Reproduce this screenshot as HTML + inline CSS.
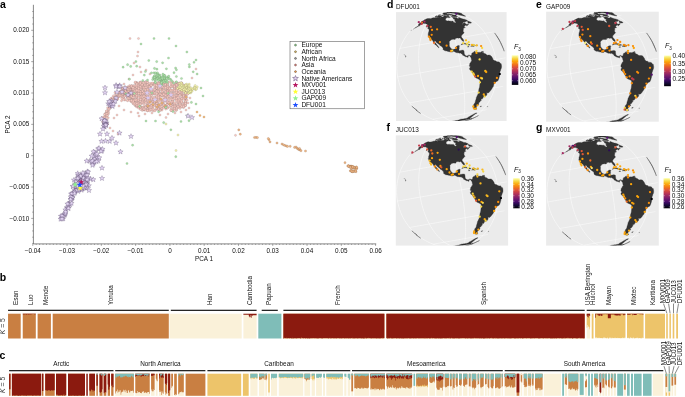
<!DOCTYPE html><html><head><meta charset="utf-8"><title>Figure</title><style>html,body{margin:0;padding:0;background:#fff}svg{display:block;will-change:transform}text{font-family:"Liberation Sans",sans-serif}</style></head><body><svg width="685" height="397" viewBox="0 0 685 397">
<rect width="685" height="397" fill="#fff"/>
<g id="pa"><path d="M33.4,4.8V243.9H376.2" fill="none" stroke="#555" stroke-width="0.7"/>
<path d="M33.4,243.48h-1.2M33.4,237.21h-1.2M33.4,230.94h-1.2M33.4,224.67h-1.2M33.4,218.40h-2.2M33.4,212.13h-1.2M33.4,205.86h-1.2M33.4,199.59h-1.2M33.4,193.32h-1.2M33.4,187.05h-2.2M33.4,180.78h-1.2M33.4,174.51h-1.2M33.4,168.24h-1.2M33.4,161.97h-1.2M33.4,155.70h-2.2M33.4,149.43h-1.2M33.4,143.16h-1.2M33.4,136.89h-1.2M33.4,130.62h-1.2M33.4,124.35h-2.2M33.4,118.08h-1.2M33.4,111.81h-1.2M33.4,105.54h-1.2M33.4,99.27h-1.2M33.4,93.00h-2.2M33.4,86.73h-1.2M33.4,80.46h-1.2M33.4,74.19h-1.2M33.4,67.92h-1.2M33.4,61.65h-2.2M33.4,55.38h-1.2M33.4,49.11h-1.2M33.4,42.84h-1.2M33.4,36.57h-1.2M33.4,30.30h-2.2M33.4,24.03h-1.2M33.4,17.76h-1.2M33.4,11.49h-1.2M32.78,243.9v2.0M36.21,243.9v1.0M39.64,243.9v1.0M43.06,243.9v1.0M46.49,243.9v1.0M49.92,243.9v1.0M53.35,243.9v1.0M56.78,243.9v1.0M60.20,243.9v1.0M63.63,243.9v1.0M67.06,243.9v2.0M70.49,243.9v1.0M73.92,243.9v1.0M77.34,243.9v1.0M80.77,243.9v1.0M84.20,243.9v1.0M87.63,243.9v1.0M91.06,243.9v1.0M94.48,243.9v1.0M97.91,243.9v1.0M101.34,243.9v2.0M104.77,243.9v1.0M108.20,243.9v1.0M111.62,243.9v1.0M115.05,243.9v1.0M118.48,243.9v1.0M121.91,243.9v1.0M125.34,243.9v1.0M128.76,243.9v1.0M132.19,243.9v1.0M135.62,243.9v2.0M139.05,243.9v1.0M142.48,243.9v1.0M145.90,243.9v1.0M149.33,243.9v1.0M152.76,243.9v1.0M156.19,243.9v1.0M159.62,243.9v1.0M163.04,243.9v1.0M166.47,243.9v1.0M169.90,243.9v2.0M173.33,243.9v1.0M176.76,243.9v1.0M180.18,243.9v1.0M183.61,243.9v1.0M187.04,243.9v1.0M190.47,243.9v1.0M193.90,243.9v1.0M197.32,243.9v1.0M200.75,243.9v1.0M204.18,243.9v2.0M207.61,243.9v1.0M211.04,243.9v1.0M214.46,243.9v1.0M217.89,243.9v1.0M221.32,243.9v1.0M224.75,243.9v1.0M228.18,243.9v1.0M231.60,243.9v1.0M235.03,243.9v1.0M238.46,243.9v2.0M241.89,243.9v1.0M245.32,243.9v1.0M248.74,243.9v1.0M252.17,243.9v1.0M255.60,243.9v1.0M259.03,243.9v1.0M262.46,243.9v1.0M265.88,243.9v1.0M269.31,243.9v1.0M272.74,243.9v2.0M276.17,243.9v1.0M279.60,243.9v1.0M283.02,243.9v1.0M286.45,243.9v1.0M289.88,243.9v1.0M293.31,243.9v1.0M296.74,243.9v1.0M300.16,243.9v1.0M303.59,243.9v1.0M307.02,243.9v2.0M310.45,243.9v1.0M313.88,243.9v1.0M317.30,243.9v1.0M320.73,243.9v1.0M324.16,243.9v1.0M327.59,243.9v1.0M331.02,243.9v1.0M334.44,243.9v1.0M337.87,243.9v1.0M341.30,243.9v2.0M344.73,243.9v1.0M348.16,243.9v1.0M351.58,243.9v1.0M355.01,243.9v1.0M358.44,243.9v1.0M361.87,243.9v1.0M365.30,243.9v1.0M368.72,243.9v1.0M372.15,243.9v1.0M375.58,243.9v2.0" stroke="#555" stroke-width="0.5" fill="none"/>
<text x="29.2" y="32.4" text-anchor="end" font-size="6.35" fill="#111" font-family="Liberation Sans, sans-serif">0.020</text>
<text x="29.2" y="63.7" text-anchor="end" font-size="6.35" fill="#111" font-family="Liberation Sans, sans-serif">0.015</text>
<text x="29.2" y="95.1" text-anchor="end" font-size="6.35" fill="#111" font-family="Liberation Sans, sans-serif">0.010</text>
<text x="29.2" y="126.4" text-anchor="end" font-size="6.35" fill="#111" font-family="Liberation Sans, sans-serif">0.005</text>
<text x="29.2" y="157.8" text-anchor="end" font-size="6.35" fill="#111" font-family="Liberation Sans, sans-serif">0</text>
<text x="29.2" y="189.1" text-anchor="end" font-size="6.35" fill="#111" font-family="Liberation Sans, sans-serif">−0.005</text>
<text x="29.2" y="220.5" text-anchor="end" font-size="6.35" fill="#111" font-family="Liberation Sans, sans-serif">−0.010</text>
<text x="32.8" y="252.9" text-anchor="middle" font-size="6.35" fill="#111" font-family="Liberation Sans, sans-serif">−0.04</text>
<text x="67.1" y="252.9" text-anchor="middle" font-size="6.35" fill="#111" font-family="Liberation Sans, sans-serif">−0.03</text>
<text x="101.3" y="252.9" text-anchor="middle" font-size="6.35" fill="#111" font-family="Liberation Sans, sans-serif">−0.02</text>
<text x="135.6" y="252.9" text-anchor="middle" font-size="6.35" fill="#111" font-family="Liberation Sans, sans-serif">−0.01</text>
<text x="169.9" y="252.9" text-anchor="middle" font-size="6.35" fill="#111" font-family="Liberation Sans, sans-serif">0</text>
<text x="204.2" y="252.9" text-anchor="middle" font-size="6.35" fill="#111" font-family="Liberation Sans, sans-serif">0.01</text>
<text x="238.5" y="252.9" text-anchor="middle" font-size="6.35" fill="#111" font-family="Liberation Sans, sans-serif">0.02</text>
<text x="272.7" y="252.9" text-anchor="middle" font-size="6.35" fill="#111" font-family="Liberation Sans, sans-serif">0.03</text>
<text x="307.0" y="252.9" text-anchor="middle" font-size="6.35" fill="#111" font-family="Liberation Sans, sans-serif">0.04</text>
<text x="341.3" y="252.9" text-anchor="middle" font-size="6.35" fill="#111" font-family="Liberation Sans, sans-serif">0.05</text>
<text x="375.6" y="252.9" text-anchor="middle" font-size="6.35" fill="#111" font-family="Liberation Sans, sans-serif">0.06</text>
<text x="204" y="260.7" text-anchor="middle" font-size="6.35" fill="#111" font-family="Liberation Sans, sans-serif">PCA 1</text>
<text transform="translate(10.4,124.5) rotate(-90)" text-anchor="middle" font-size="6.35" fill="#111" font-family="Liberation Sans, sans-serif">PCA 2</text>
<text x="0" y="7.7" font-size="10.5" font-weight="bold" fill="#000" font-family="Liberation Sans, sans-serif">a</text>
<g fill="#f7c8c0" stroke="#3a3030" stroke-width="0.26" stroke-opacity="0.42"><circle cx="147.4" cy="100.1" r="1.12"/><circle cx="131.4" cy="91.1" r="1.12"/><circle cx="131.4" cy="86.0" r="1.12"/><circle cx="152.8" cy="84.1" r="1.12"/><circle cx="153.2" cy="84.9" r="1.12"/><circle cx="140.5" cy="108.9" r="1.12"/><circle cx="161.9" cy="110.2" r="1.12"/><circle cx="131.6" cy="89.9" r="1.12"/><circle cx="136.6" cy="88.9" r="1.12"/><circle cx="176.2" cy="98.0" r="1.12"/><circle cx="165.5" cy="97.0" r="1.12"/><circle cx="131.2" cy="88.4" r="1.12"/><circle cx="167.4" cy="90.1" r="1.12"/><circle cx="162.0" cy="89.7" r="1.12"/><circle cx="174.7" cy="88.1" r="1.12"/><circle cx="162.0" cy="107.0" r="1.12"/><circle cx="170.9" cy="110.4" r="1.12"/><circle cx="135.0" cy="100.3" r="1.12"/><circle cx="136.8" cy="82.7" r="1.12"/><circle cx="167.5" cy="97.7" r="1.12"/><circle cx="179.9" cy="101.4" r="1.12"/><circle cx="163.8" cy="94.2" r="1.12"/><circle cx="178.4" cy="94.8" r="1.12"/><circle cx="167.2" cy="101.6" r="1.12"/><circle cx="165.8" cy="105.4" r="1.12"/><circle cx="143.9" cy="100.6" r="1.12"/><circle cx="129.6" cy="87.6" r="1.12"/><circle cx="134.8" cy="100.4" r="1.12"/><circle cx="134.9" cy="92.6" r="1.12"/><circle cx="179.8" cy="94.0" r="1.12"/><circle cx="160.4" cy="105.3" r="1.12"/><circle cx="178.1" cy="93.0" r="1.12"/><circle cx="149.6" cy="109.7" r="1.12"/><circle cx="136.6" cy="87.0" r="1.12"/><circle cx="142.2" cy="98.2" r="1.12"/><circle cx="143.8" cy="93.1" r="1.12"/><circle cx="149.4" cy="109.5" r="1.12"/><circle cx="169.2" cy="99.1" r="1.12"/><circle cx="167.2" cy="107.8" r="1.12"/><circle cx="174.8" cy="104.6" r="1.12"/><circle cx="151.1" cy="84.4" r="1.12"/><circle cx="165.4" cy="83.5" r="1.12"/><circle cx="140.2" cy="90.6" r="1.12"/><circle cx="131.2" cy="87.6" r="1.12"/><circle cx="133.1" cy="85.8" r="1.12"/><circle cx="180.1" cy="85.6" r="1.12"/><circle cx="142.1" cy="91.5" r="1.12"/><circle cx="135.2" cy="105.6" r="1.12"/><circle cx="154.8" cy="83.9" r="1.12"/><circle cx="133.1" cy="89.8" r="1.12"/><circle cx="176.2" cy="82.5" r="1.12"/><circle cx="183.6" cy="87.0" r="1.12"/><circle cx="160.0" cy="96.4" r="1.12"/><circle cx="185.6" cy="99.6" r="1.12"/><circle cx="143.9" cy="86.1" r="1.12"/><circle cx="172.8" cy="104.0" r="1.12"/><circle cx="147.5" cy="105.0" r="1.12"/><circle cx="185.6" cy="102.0" r="1.12"/><circle cx="176.5" cy="87.7" r="1.12"/><circle cx="158.3" cy="82.6" r="1.12"/><circle cx="129.5" cy="88.9" r="1.12"/><circle cx="169.4" cy="94.0" r="1.12"/><circle cx="183.8" cy="107.0" r="1.12"/><circle cx="149.3" cy="87.7" r="1.12"/><circle cx="140.3" cy="98.9" r="1.12"/><circle cx="182.0" cy="94.9" r="1.12"/><circle cx="167.5" cy="83.9" r="1.12"/><circle cx="167.6" cy="104.1" r="1.12"/><circle cx="172.8" cy="86.4" r="1.12"/><circle cx="174.5" cy="104.7" r="1.12"/><circle cx="185.3" cy="93.2" r="1.12"/><circle cx="183.7" cy="87.6" r="1.12"/><circle cx="134.8" cy="103.4" r="1.12"/><circle cx="176.2" cy="105.5" r="1.12"/><circle cx="185.5" cy="92.2" r="1.12"/><circle cx="160.0" cy="82.3" r="1.12"/><circle cx="185.5" cy="95.9" r="1.12"/><circle cx="183.6" cy="105.0" r="1.12"/><circle cx="176.3" cy="88.4" r="1.12"/><circle cx="145.7" cy="98.1" r="1.12"/><circle cx="144.0" cy="85.1" r="1.12"/><circle cx="181.7" cy="94.3" r="1.12"/><circle cx="162.2" cy="93.2" r="1.12"/><circle cx="181.8" cy="96.4" r="1.12"/><circle cx="158.2" cy="93.8" r="1.12"/><circle cx="138.4" cy="102.8" r="1.12"/><circle cx="138.6" cy="100.8" r="1.12"/><circle cx="160.1" cy="96.1" r="1.12"/><circle cx="160.3" cy="84.5" r="1.12"/><circle cx="160.1" cy="89.1" r="1.12"/><circle cx="172.8" cy="97.4" r="1.12"/><circle cx="173.0" cy="93.8" r="1.12"/><circle cx="163.8" cy="95.9" r="1.12"/><circle cx="169.2" cy="96.5" r="1.12"/><circle cx="156.8" cy="101.6" r="1.12"/><circle cx="180.2" cy="88.6" r="1.12"/><circle cx="160.4" cy="105.9" r="1.12"/><circle cx="136.6" cy="92.2" r="1.12"/><circle cx="131.3" cy="86.4" r="1.12"/><circle cx="167.5" cy="107.7" r="1.12"/><circle cx="136.9" cy="98.0" r="1.12"/><circle cx="137.0" cy="106.5" r="1.12"/><circle cx="140.6" cy="92.4" r="1.12"/><circle cx="156.8" cy="105.7" r="1.12"/><circle cx="136.8" cy="94.2" r="1.12"/><circle cx="147.4" cy="90.2" r="1.12"/><circle cx="170.8" cy="97.1" r="1.12"/><circle cx="154.6" cy="90.6" r="1.12"/><circle cx="165.6" cy="83.4" r="1.12"/><circle cx="185.5" cy="105.8" r="1.12"/><circle cx="134.9" cy="86.1" r="1.12"/><circle cx="174.5" cy="85.1" r="1.12"/><circle cx="153.2" cy="105.3" r="1.12"/><circle cx="143.8" cy="108.4" r="1.12"/><circle cx="162.1" cy="84.0" r="1.12"/><circle cx="131.5" cy="92.1" r="1.12"/><circle cx="131.6" cy="95.8" r="1.12"/><circle cx="174.4" cy="106.4" r="1.12"/><circle cx="131.6" cy="92.6" r="1.12"/><circle cx="147.6" cy="108.7" r="1.12"/><circle cx="143.8" cy="96.3" r="1.12"/><circle cx="142.0" cy="85.9" r="1.12"/><circle cx="131.3" cy="90.1" r="1.12"/><circle cx="145.9" cy="89.4" r="1.12"/><circle cx="158.2" cy="91.1" r="1.12"/><circle cx="129.5" cy="85.7" r="1.12"/><circle cx="171.0" cy="86.7" r="1.12"/><circle cx="156.8" cy="84.5" r="1.12"/><circle cx="176.4" cy="95.4" r="1.12"/><circle cx="176.3" cy="95.7" r="1.12"/><circle cx="169.4" cy="90.9" r="1.12"/><circle cx="176.5" cy="99.6" r="1.12"/><circle cx="151.1" cy="83.2" r="1.12"/><circle cx="134.8" cy="99.8" r="1.12"/><circle cx="142.0" cy="83.9" r="1.12"/><circle cx="178.4" cy="100.7" r="1.12"/><circle cx="143.9" cy="89.5" r="1.12"/><circle cx="154.6" cy="93.9" r="1.12"/><circle cx="144.2" cy="110.1" r="1.12"/><circle cx="160.1" cy="109.9" r="1.12"/><circle cx="145.7" cy="82.0" r="1.12"/><circle cx="151.2" cy="95.6" r="1.12"/><circle cx="140.4" cy="82.1" r="1.12"/><circle cx="143.8" cy="92.6" r="1.12"/><circle cx="129.4" cy="89.6" r="1.12"/><circle cx="142.2" cy="96.4" r="1.12"/><circle cx="172.9" cy="102.1" r="1.12"/><circle cx="179.9" cy="90.5" r="1.12"/><circle cx="185.2" cy="100.4" r="1.12"/><circle cx="165.4" cy="105.8" r="1.12"/><circle cx="180.1" cy="102.6" r="1.12"/><circle cx="176.2" cy="96.2" r="1.12"/><circle cx="158.6" cy="104.8" r="1.12"/><circle cx="176.4" cy="107.6" r="1.12"/><circle cx="167.5" cy="87.8" r="1.12"/><circle cx="129.4" cy="90.4" r="1.12"/><circle cx="135.2" cy="94.5" r="1.12"/><circle cx="165.7" cy="101.0" r="1.12"/><circle cx="156.4" cy="104.6" r="1.12"/><circle cx="172.8" cy="96.6" r="1.12"/><circle cx="167.2" cy="102.7" r="1.12"/><circle cx="142.0" cy="88.7" r="1.12"/><circle cx="170.9" cy="102.8" r="1.12"/><circle cx="185.4" cy="92.8" r="1.12"/><circle cx="156.7" cy="103.7" r="1.12"/><circle cx="163.9" cy="83.7" r="1.12"/><circle cx="136.7" cy="100.1" r="1.12"/><circle cx="145.8" cy="82.2" r="1.12"/><circle cx="131.3" cy="96.3" r="1.12"/><circle cx="169.3" cy="89.5" r="1.12"/><circle cx="158.4" cy="94.5" r="1.12"/><circle cx="135.2" cy="86.0" r="1.12"/><circle cx="185.6" cy="85.9" r="1.12"/><circle cx="155.0" cy="110.0" r="1.12"/><circle cx="154.7" cy="87.2" r="1.12"/><circle cx="183.5" cy="97.5" r="1.12"/><circle cx="136.8" cy="105.9" r="1.12"/><circle cx="135.2" cy="93.3" r="1.12"/><circle cx="180.1" cy="87.8" r="1.12"/><circle cx="181.8" cy="83.1" r="1.12"/><circle cx="127.8" cy="91.2" r="1.12"/><circle cx="145.6" cy="91.0" r="1.12"/><circle cx="146.0" cy="82.0" r="1.12"/><circle cx="173.0" cy="84.8" r="1.12"/><circle cx="181.9" cy="107.1" r="1.12"/><circle cx="145.7" cy="92.4" r="1.12"/><circle cx="187.2" cy="92.8" r="1.12"/><circle cx="152.9" cy="83.0" r="1.12"/><circle cx="133.4" cy="90.2" r="1.12"/><circle cx="183.5" cy="89.7" r="1.12"/><circle cx="158.2" cy="91.8" r="1.12"/><circle cx="183.8" cy="103.3" r="1.12"/><circle cx="165.8" cy="109.1" r="1.12"/><circle cx="160.3" cy="83.1" r="1.12"/><circle cx="171.0" cy="103.2" r="1.12"/><circle cx="165.5" cy="83.1" r="1.12"/><circle cx="181.6" cy="94.7" r="1.12"/><circle cx="147.5" cy="102.8" r="1.12"/><circle cx="185.3" cy="98.8" r="1.12"/><circle cx="145.8" cy="92.4" r="1.12"/><circle cx="138.4" cy="86.7" r="1.12"/><circle cx="181.8" cy="87.9" r="1.12"/><circle cx="182.0" cy="94.1" r="1.12"/><circle cx="136.6" cy="83.8" r="1.12"/><circle cx="147.4" cy="88.0" r="1.12"/><circle cx="144.0" cy="107.4" r="1.12"/><circle cx="172.8" cy="93.0" r="1.12"/><circle cx="158.3" cy="90.8" r="1.12"/><circle cx="131.3" cy="101.7" r="1.12"/><circle cx="135.0" cy="96.2" r="1.12"/><circle cx="178.1" cy="88.9" r="1.12"/><circle cx="142.1" cy="93.9" r="1.12"/><circle cx="183.8" cy="104.9" r="1.12"/><circle cx="129.4" cy="95.8" r="1.12"/><circle cx="180.0" cy="98.1" r="1.12"/><circle cx="127.7" cy="98.0" r="1.12"/><circle cx="176.6" cy="110.1" r="1.12"/><circle cx="142.0" cy="85.7" r="1.12"/><circle cx="158.5" cy="109.1" r="1.12"/><circle cx="171.1" cy="103.6" r="1.12"/><circle cx="154.8" cy="82.8" r="1.12"/><circle cx="174.5" cy="108.5" r="1.12"/><circle cx="165.5" cy="85.0" r="1.12"/><circle cx="142.3" cy="101.5" r="1.12"/><circle cx="134.8" cy="95.3" r="1.12"/><circle cx="161.9" cy="87.6" r="1.12"/><circle cx="163.6" cy="89.8" r="1.12"/><circle cx="155.0" cy="99.9" r="1.12"/><circle cx="180.0" cy="87.9" r="1.12"/><circle cx="142.4" cy="101.7" r="1.12"/><circle cx="145.6" cy="95.5" r="1.12"/><circle cx="167.4" cy="88.5" r="1.12"/><circle cx="167.6" cy="87.7" r="1.12"/><circle cx="129.5" cy="91.3" r="1.12"/><circle cx="167.2" cy="104.6" r="1.12"/><circle cx="171.0" cy="87.1" r="1.12"/><circle cx="185.3" cy="102.5" r="1.12"/><circle cx="142.1" cy="103.5" r="1.12"/><circle cx="146.0" cy="95.4" r="1.12"/><circle cx="138.5" cy="92.2" r="1.12"/><circle cx="167.6" cy="85.5" r="1.12"/><circle cx="151.1" cy="110.2" r="1.12"/><circle cx="136.6" cy="83.1" r="1.12"/><circle cx="151.4" cy="107.3" r="1.12"/><circle cx="171.2" cy="108.8" r="1.12"/><circle cx="147.4" cy="109.0" r="1.12"/><circle cx="172.6" cy="100.5" r="1.12"/><circle cx="151.1" cy="90.6" r="1.12"/><circle cx="138.4" cy="88.6" r="1.12"/><circle cx="149.6" cy="84.9" r="1.12"/><circle cx="185.3" cy="92.3" r="1.12"/><circle cx="176.6" cy="93.5" r="1.12"/><circle cx="131.4" cy="91.2" r="1.12"/><circle cx="181.6" cy="91.7" r="1.12"/><circle cx="181.6" cy="93.0" r="1.12"/><circle cx="176.5" cy="82.9" r="1.12"/><circle cx="129.4" cy="99.2" r="1.12"/><circle cx="144.1" cy="107.8" r="1.12"/><circle cx="147.5" cy="109.7" r="1.12"/><circle cx="163.7" cy="102.1" r="1.12"/><circle cx="145.7" cy="82.1" r="1.12"/><circle cx="173.0" cy="99.6" r="1.12"/><circle cx="183.4" cy="88.9" r="1.12"/><circle cx="156.8" cy="109.5" r="1.12"/><circle cx="151.1" cy="93.5" r="1.12"/><circle cx="156.8" cy="86.5" r="1.12"/><circle cx="174.7" cy="105.4" r="1.12"/><circle cx="172.9" cy="90.5" r="1.12"/><circle cx="147.5" cy="104.1" r="1.12"/><circle cx="133.0" cy="98.9" r="1.12"/><circle cx="142.0" cy="82.7" r="1.12"/><circle cx="160.1" cy="110.4" r="1.12"/><circle cx="180.2" cy="88.7" r="1.12"/><circle cx="133.0" cy="94.0" r="1.12"/><circle cx="169.2" cy="87.9" r="1.12"/><circle cx="153.1" cy="100.8" r="1.12"/><circle cx="173.0" cy="100.5" r="1.12"/><circle cx="135.2" cy="88.2" r="1.12"/><circle cx="161.9" cy="102.8" r="1.12"/><circle cx="140.3" cy="88.0" r="1.12"/><circle cx="137.0" cy="95.9" r="1.12"/><circle cx="147.5" cy="110.8" r="1.12"/><circle cx="158.3" cy="105.0" r="1.12"/><circle cx="167.6" cy="84.4" r="1.12"/><circle cx="156.8" cy="106.0" r="1.12"/><circle cx="181.6" cy="89.7" r="1.12"/><circle cx="134.8" cy="104.9" r="1.12"/><circle cx="162.2" cy="91.8" r="1.12"/><circle cx="180.0" cy="88.6" r="1.12"/><circle cx="174.8" cy="84.5" r="1.12"/><circle cx="163.9" cy="87.4" r="1.12"/><circle cx="149.2" cy="87.0" r="1.12"/><circle cx="142.2" cy="100.1" r="1.12"/><circle cx="140.2" cy="90.3" r="1.12"/><circle cx="167.2" cy="90.1" r="1.12"/><circle cx="140.5" cy="96.8" r="1.12"/><circle cx="131.2" cy="91.5" r="1.12"/><circle cx="160.3" cy="84.1" r="1.12"/><circle cx="136.9" cy="91.5" r="1.12"/><circle cx="143.9" cy="109.5" r="1.12"/><circle cx="145.8" cy="91.3" r="1.12"/><circle cx="153.2" cy="110.9" r="1.12"/><circle cx="149.2" cy="102.5" r="1.12"/><circle cx="140.2" cy="107.2" r="1.12"/><circle cx="153.2" cy="92.8" r="1.12"/><circle cx="180.0" cy="85.9" r="1.12"/><circle cx="129.6" cy="94.9" r="1.12"/><circle cx="181.6" cy="99.0" r="1.12"/><circle cx="149.4" cy="85.5" r="1.12"/><circle cx="144.0" cy="108.6" r="1.12"/><circle cx="135.0" cy="101.3" r="1.12"/><circle cx="185.2" cy="87.6" r="1.12"/><circle cx="183.8" cy="95.0" r="1.12"/><circle cx="131.6" cy="91.5" r="1.12"/><circle cx="181.9" cy="104.9" r="1.12"/><circle cx="136.9" cy="86.8" r="1.12"/><circle cx="151.4" cy="105.6" r="1.12"/><circle cx="138.5" cy="91.7" r="1.12"/><circle cx="158.3" cy="84.9" r="1.12"/><circle cx="142.3" cy="107.7" r="1.12"/><circle cx="129.6" cy="96.7" r="1.12"/><circle cx="129.8" cy="87.0" r="1.12"/><circle cx="163.8" cy="99.4" r="1.12"/><circle cx="145.8" cy="98.0" r="1.12"/><circle cx="153.1" cy="94.0" r="1.12"/><circle cx="152.8" cy="99.1" r="1.12"/><circle cx="156.5" cy="103.6" r="1.12"/><circle cx="174.6" cy="86.4" r="1.12"/><circle cx="156.4" cy="85.0" r="1.12"/><circle cx="152.8" cy="93.8" r="1.12"/><circle cx="158.2" cy="99.6" r="1.12"/><circle cx="133.3" cy="99.6" r="1.12"/><circle cx="158.2" cy="95.6" r="1.12"/><circle cx="149.6" cy="85.2" r="1.12"/><circle cx="178.4" cy="102.6" r="1.12"/><circle cx="176.2" cy="110.4" r="1.12"/><circle cx="156.8" cy="108.3" r="1.12"/><circle cx="138.7" cy="106.9" r="1.12"/><circle cx="131.3" cy="97.8" r="1.12"/><circle cx="137.0" cy="88.1" r="1.12"/><circle cx="176.2" cy="95.6" r="1.12"/><circle cx="181.7" cy="88.9" r="1.12"/><circle cx="158.3" cy="82.8" r="1.12"/><circle cx="138.4" cy="106.8" r="1.12"/><circle cx="167.6" cy="86.1" r="1.12"/><circle cx="174.4" cy="96.4" r="1.12"/><circle cx="165.5" cy="107.0" r="1.12"/><circle cx="160.2" cy="107.3" r="1.12"/><circle cx="135.2" cy="96.3" r="1.12"/><circle cx="151.3" cy="88.7" r="1.12"/><circle cx="187.2" cy="92.8" r="1.12"/><circle cx="172.8" cy="86.3" r="1.12"/><circle cx="170.8" cy="105.3" r="1.12"/><circle cx="142.3" cy="110.5" r="1.12"/><circle cx="162.1" cy="90.1" r="1.12"/><circle cx="127.6" cy="87.2" r="1.12"/><circle cx="163.8" cy="95.9" r="1.12"/><circle cx="179.8" cy="87.7" r="1.12"/><circle cx="167.2" cy="82.0" r="1.12"/><circle cx="149.2" cy="91.3" r="1.12"/><circle cx="140.4" cy="97.9" r="1.12"/><circle cx="140.5" cy="94.6" r="1.12"/><circle cx="137.0" cy="87.4" r="1.12"/><circle cx="136.6" cy="97.3" r="1.12"/><circle cx="180.1" cy="92.6" r="1.12"/><circle cx="143.8" cy="99.9" r="1.12"/><circle cx="161.9" cy="99.9" r="1.12"/><circle cx="155.0" cy="102.6" r="1.12"/><circle cx="142.4" cy="82.9" r="1.12"/><circle cx="160.2" cy="88.0" r="1.12"/><circle cx="131.5" cy="85.6" r="1.12"/><circle cx="160.4" cy="85.4" r="1.12"/><circle cx="140.5" cy="95.5" r="1.12"/><circle cx="165.8" cy="86.3" r="1.12"/><circle cx="145.7" cy="83.0" r="1.12"/><circle cx="180.1" cy="102.1" r="1.12"/><circle cx="128.0" cy="95.5" r="1.12"/><circle cx="154.9" cy="94.1" r="1.12"/><circle cx="142.0" cy="87.8" r="1.12"/><circle cx="129.5" cy="96.5" r="1.12"/><circle cx="169.4" cy="101.9" r="1.12"/><circle cx="144.0" cy="93.6" r="1.12"/><circle cx="174.6" cy="88.7" r="1.12"/><circle cx="165.8" cy="87.4" r="1.12"/><circle cx="179.8" cy="88.6" r="1.12"/><circle cx="142.3" cy="109.2" r="1.12"/><circle cx="172.7" cy="107.2" r="1.12"/><circle cx="147.5" cy="108.1" r="1.12"/><circle cx="165.7" cy="100.5" r="1.12"/><circle cx="185.4" cy="102.9" r="1.12"/><circle cx="169.4" cy="93.7" r="1.12"/><circle cx="171.0" cy="89.9" r="1.12"/><circle cx="140.5" cy="83.7" r="1.12"/><circle cx="181.6" cy="83.0" r="1.12"/><circle cx="135.2" cy="89.4" r="1.12"/><circle cx="136.6" cy="82.8" r="1.12"/><circle cx="169.3" cy="101.5" r="1.12"/><circle cx="170.8" cy="98.2" r="1.12"/><circle cx="149.6" cy="105.3" r="1.12"/><circle cx="179.8" cy="106.8" r="1.12"/><circle cx="182.0" cy="85.1" r="1.12"/><circle cx="140.2" cy="82.7" r="1.12"/><circle cx="178.4" cy="99.6" r="1.12"/><circle cx="176.5" cy="89.4" r="1.12"/><circle cx="133.0" cy="99.0" r="1.12"/><circle cx="140.3" cy="93.0" r="1.12"/><circle cx="129.5" cy="89.3" r="1.12"/><circle cx="170.9" cy="90.3" r="1.12"/><circle cx="185.4" cy="103.2" r="1.12"/><circle cx="163.6" cy="93.0" r="1.12"/><circle cx="153.1" cy="91.0" r="1.12"/><circle cx="169.2" cy="87.4" r="1.12"/><circle cx="178.0" cy="105.3" r="1.12"/><circle cx="138.4" cy="86.6" r="1.12"/><circle cx="173.0" cy="82.1" r="1.12"/><circle cx="156.6" cy="104.6" r="1.12"/><circle cx="138.6" cy="90.4" r="1.12"/><circle cx="176.3" cy="109.2" r="1.12"/><circle cx="143.9" cy="101.6" r="1.12"/><circle cx="156.4" cy="99.6" r="1.12"/><circle cx="133.3" cy="98.0" r="1.12"/><circle cx="174.7" cy="91.3" r="1.12"/><circle cx="151.1" cy="107.5" r="1.12"/><circle cx="133.4" cy="85.8" r="1.12"/><circle cx="140.3" cy="107.3" r="1.12"/><circle cx="158.3" cy="107.3" r="1.12"/><circle cx="142.2" cy="96.5" r="1.12"/><circle cx="172.9" cy="99.9" r="1.12"/><circle cx="149.3" cy="85.7" r="1.12"/><circle cx="178.3" cy="102.9" r="1.12"/><circle cx="138.6" cy="102.2" r="1.12"/><circle cx="161.8" cy="94.4" r="1.12"/><circle cx="179.9" cy="86.7" r="1.12"/><circle cx="145.9" cy="106.1" r="1.12"/><circle cx="136.6" cy="87.4" r="1.12"/><circle cx="147.6" cy="85.9" r="1.12"/><circle cx="147.4" cy="110.2" r="1.12"/><circle cx="170.8" cy="109.8" r="1.12"/><circle cx="133.1" cy="103.6" r="1.12"/><circle cx="174.7" cy="93.6" r="1.12"/><circle cx="140.5" cy="84.4" r="1.12"/><circle cx="140.3" cy="82.7" r="1.12"/><circle cx="151.3" cy="101.4" r="1.12"/><circle cx="158.5" cy="94.4" r="1.12"/><circle cx="136.9" cy="91.3" r="1.12"/><circle cx="171.2" cy="93.5" r="1.12"/><circle cx="162.1" cy="93.2" r="1.12"/><circle cx="142.3" cy="107.2" r="1.12"/><circle cx="172.9" cy="106.3" r="1.12"/><circle cx="167.5" cy="94.2" r="1.12"/><circle cx="145.9" cy="84.2" r="1.12"/><circle cx="153.1" cy="102.0" r="1.12"/><circle cx="165.5" cy="93.3" r="1.12"/><circle cx="154.9" cy="92.9" r="1.12"/><circle cx="167.6" cy="86.5" r="1.12"/><circle cx="167.5" cy="92.3" r="1.12"/><circle cx="156.8" cy="82.8" r="1.12"/><circle cx="160.0" cy="104.1" r="1.12"/><circle cx="183.6" cy="86.0" r="1.12"/><circle cx="162.0" cy="102.1" r="1.12"/><circle cx="158.5" cy="105.6" r="1.12"/><circle cx="158.4" cy="109.3" r="1.12"/><circle cx="140.5" cy="92.2" r="1.12"/><circle cx="172.6" cy="110.5" r="1.12"/><circle cx="149.2" cy="89.0" r="1.12"/><circle cx="151.0" cy="93.1" r="1.12"/><circle cx="153.1" cy="91.2" r="1.12"/><circle cx="143.9" cy="102.9" r="1.12"/><circle cx="183.6" cy="88.7" r="1.12"/><circle cx="174.5" cy="87.3" r="1.12"/><circle cx="135.1" cy="100.8" r="1.12"/><circle cx="165.6" cy="97.4" r="1.12"/><circle cx="142.4" cy="91.2" r="1.12"/><circle cx="165.8" cy="105.2" r="1.12"/><circle cx="154.7" cy="97.0" r="1.12"/><circle cx="135.2" cy="89.6" r="1.12"/><circle cx="178.1" cy="91.9" r="1.12"/><circle cx="142.2" cy="86.6" r="1.12"/><circle cx="127.9" cy="88.9" r="1.12"/><circle cx="142.1" cy="94.9" r="1.12"/><circle cx="153.1" cy="100.3" r="1.12"/><circle cx="149.6" cy="106.4" r="1.12"/><circle cx="131.6" cy="100.8" r="1.12"/><circle cx="174.4" cy="105.7" r="1.12"/><circle cx="165.4" cy="82.2" r="1.12"/><circle cx="183.7" cy="89.4" r="1.12"/><circle cx="133.0" cy="89.2" r="1.12"/><circle cx="174.5" cy="85.7" r="1.12"/><circle cx="181.9" cy="86.6" r="1.12"/><circle cx="180.1" cy="104.1" r="1.12"/><circle cx="167.6" cy="104.3" r="1.12"/><circle cx="178.0" cy="101.4" r="1.12"/><circle cx="160.3" cy="93.7" r="1.12"/><circle cx="180.0" cy="88.7" r="1.12"/><circle cx="142.0" cy="95.3" r="1.12"/><circle cx="131.4" cy="87.5" r="1.12"/><circle cx="156.6" cy="96.7" r="1.12"/><circle cx="178.0" cy="106.0" r="1.12"/><circle cx="154.8" cy="100.5" r="1.12"/><circle cx="178.1" cy="93.1" r="1.12"/><circle cx="185.2" cy="98.4" r="1.12"/><circle cx="165.4" cy="98.8" r="1.12"/><circle cx="167.6" cy="90.6" r="1.12"/><circle cx="185.4" cy="95.0" r="1.12"/><circle cx="181.6" cy="101.9" r="1.12"/><circle cx="165.5" cy="106.6" r="1.12"/><circle cx="149.4" cy="96.3" r="1.12"/><circle cx="172.7" cy="93.6" r="1.12"/><circle cx="153.0" cy="105.5" r="1.12"/><circle cx="146.0" cy="92.7" r="1.12"/><circle cx="158.3" cy="95.7" r="1.12"/><circle cx="185.5" cy="101.8" r="1.12"/><circle cx="147.5" cy="89.7" r="1.12"/><circle cx="162.1" cy="104.2" r="1.12"/><circle cx="129.7" cy="98.9" r="1.12"/><circle cx="160.0" cy="89.7" r="1.12"/><circle cx="127.6" cy="97.8" r="1.12"/><circle cx="163.9" cy="104.3" r="1.12"/><circle cx="181.9" cy="98.8" r="1.12"/><circle cx="165.7" cy="98.4" r="1.12"/><circle cx="167.3" cy="100.6" r="1.12"/><circle cx="154.9" cy="84.3" r="1.12"/><circle cx="138.4" cy="102.1" r="1.12"/><circle cx="181.9" cy="91.9" r="1.12"/><circle cx="176.5" cy="97.4" r="1.12"/><circle cx="143.9" cy="93.2" r="1.12"/><circle cx="147.6" cy="99.8" r="1.12"/><circle cx="183.4" cy="97.2" r="1.12"/><circle cx="129.4" cy="97.5" r="1.12"/><circle cx="162.2" cy="93.9" r="1.12"/><circle cx="129.5" cy="94.0" r="1.12"/><circle cx="183.8" cy="94.8" r="1.12"/><circle cx="152.8" cy="99.9" r="1.12"/><circle cx="140.2" cy="82.3" r="1.12"/><circle cx="127.9" cy="86.9" r="1.12"/><circle cx="185.2" cy="103.7" r="1.12"/><circle cx="134.8" cy="99.3" r="1.12"/><circle cx="142.3" cy="86.6" r="1.12"/><circle cx="131.5" cy="97.2" r="1.12"/><circle cx="178.3" cy="83.9" r="1.12"/><circle cx="165.7" cy="94.4" r="1.12"/><circle cx="183.5" cy="107.6" r="1.12"/><circle cx="170.8" cy="82.3" r="1.12"/><circle cx="165.8" cy="83.8" r="1.12"/><circle cx="145.9" cy="86.0" r="1.12"/><circle cx="178.2" cy="83.3" r="1.12"/><circle cx="149.4" cy="93.7" r="1.12"/><circle cx="167.2" cy="104.6" r="1.12"/><circle cx="149.5" cy="99.4" r="1.12"/><circle cx="152.9" cy="104.3" r="1.12"/><circle cx="183.7" cy="97.1" r="1.12"/><circle cx="145.6" cy="110.2" r="1.12"/><circle cx="169.4" cy="90.6" r="1.12"/><circle cx="164.0" cy="105.7" r="1.12"/><circle cx="163.7" cy="93.4" r="1.12"/><circle cx="179.9" cy="101.1" r="1.12"/><circle cx="164.0" cy="104.9" r="1.12"/><circle cx="143.8" cy="88.7" r="1.12"/><circle cx="153.0" cy="105.2" r="1.12"/><circle cx="179.8" cy="105.7" r="1.12"/><circle cx="176.6" cy="97.7" r="1.12"/><circle cx="144.2" cy="104.9" r="1.12"/><circle cx="169.4" cy="91.0" r="1.12"/><circle cx="133.2" cy="99.9" r="1.12"/><circle cx="140.5" cy="108.4" r="1.12"/><circle cx="142.3" cy="100.9" r="1.12"/><circle cx="154.7" cy="88.4" r="1.12"/><circle cx="172.9" cy="94.3" r="1.12"/><circle cx="133.4" cy="99.5" r="1.12"/><circle cx="142.2" cy="107.7" r="1.12"/><circle cx="180.0" cy="94.8" r="1.12"/><circle cx="161.8" cy="86.7" r="1.12"/><circle cx="138.7" cy="90.8" r="1.12"/><circle cx="162.0" cy="96.0" r="1.12"/><circle cx="136.6" cy="106.9" r="1.12"/><circle cx="149.2" cy="99.5" r="1.12"/><circle cx="174.4" cy="98.4" r="1.12"/><circle cx="147.6" cy="82.4" r="1.12"/><circle cx="129.8" cy="98.7" r="1.12"/><circle cx="156.6" cy="88.6" r="1.12"/><circle cx="174.6" cy="109.3" r="1.12"/><circle cx="173.0" cy="109.8" r="1.12"/><circle cx="142.0" cy="87.0" r="1.12"/><circle cx="138.4" cy="83.0" r="1.12"/><circle cx="160.4" cy="94.3" r="1.12"/><circle cx="183.8" cy="85.4" r="1.12"/><circle cx="163.7" cy="84.8" r="1.12"/><circle cx="185.3" cy="96.8" r="1.12"/><circle cx="165.8" cy="100.7" r="1.12"/><circle cx="151.2" cy="85.9" r="1.12"/><circle cx="185.6" cy="89.7" r="1.12"/><circle cx="129.5" cy="90.3" r="1.12"/><circle cx="182.0" cy="105.2" r="1.12"/><circle cx="131.5" cy="97.1" r="1.12"/><circle cx="165.8" cy="83.2" r="1.12"/><circle cx="136.9" cy="105.7" r="1.12"/><circle cx="167.3" cy="98.3" r="1.12"/><circle cx="172.6" cy="90.4" r="1.12"/><circle cx="143.8" cy="95.0" r="1.12"/><circle cx="138.5" cy="85.1" r="1.12"/><circle cx="167.2" cy="102.1" r="1.12"/><circle cx="140.2" cy="108.0" r="1.12"/><circle cx="140.6" cy="106.5" r="1.12"/><circle cx="179.8" cy="94.0" r="1.12"/><circle cx="133.4" cy="101.0" r="1.12"/><circle cx="165.6" cy="90.8" r="1.12"/><circle cx="176.4" cy="99.4" r="1.12"/><circle cx="136.7" cy="83.1" r="1.12"/><circle cx="171.0" cy="85.5" r="1.12"/><circle cx="179.9" cy="92.9" r="1.12"/><circle cx="136.7" cy="102.7" r="1.12"/><circle cx="147.4" cy="95.3" r="1.12"/><circle cx="147.8" cy="84.7" r="1.12"/><circle cx="185.2" cy="104.4" r="1.12"/><circle cx="167.3" cy="94.9" r="1.12"/><circle cx="143.9" cy="87.0" r="1.12"/><circle cx="149.6" cy="110.9" r="1.12"/><circle cx="181.6" cy="89.6" r="1.12"/><circle cx="179.8" cy="102.4" r="1.12"/><circle cx="146.0" cy="82.3" r="1.12"/><circle cx="176.3" cy="85.3" r="1.12"/><circle cx="128.0" cy="92.3" r="1.12"/><circle cx="138.6" cy="106.2" r="1.12"/><circle cx="140.4" cy="85.2" r="1.12"/><circle cx="138.7" cy="100.5" r="1.12"/><circle cx="140.2" cy="83.9" r="1.12"/><circle cx="163.8" cy="89.0" r="1.12"/><circle cx="140.5" cy="101.5" r="1.12"/><circle cx="176.4" cy="87.0" r="1.12"/><circle cx="131.5" cy="91.8" r="1.12"/><circle cx="170.8" cy="105.0" r="1.12"/><circle cx="147.8" cy="106.7" r="1.12"/><circle cx="156.4" cy="108.1" r="1.12"/><circle cx="156.8" cy="88.8" r="1.12"/><circle cx="138.8" cy="91.0" r="1.12"/><circle cx="136.7" cy="96.2" r="1.12"/><circle cx="127.8" cy="91.1" r="1.12"/><circle cx="158.2" cy="102.0" r="1.12"/><circle cx="176.6" cy="90.3" r="1.12"/><circle cx="169.1" cy="103.2" r="1.12"/><circle cx="131.6" cy="101.7" r="1.12"/><circle cx="156.6" cy="96.4" r="1.12"/><circle cx="160.0" cy="110.0" r="1.12"/><circle cx="140.2" cy="84.3" r="1.12"/><circle cx="142.4" cy="82.6" r="1.12"/><circle cx="133.3" cy="88.6" r="1.12"/><circle cx="129.6" cy="93.8" r="1.12"/><circle cx="158.5" cy="84.4" r="1.12"/><circle cx="180.1" cy="83.0" r="1.12"/><circle cx="135.0" cy="94.9" r="1.12"/><circle cx="143.8" cy="92.7" r="1.12"/><circle cx="136.8" cy="103.4" r="1.12"/><circle cx="136.8" cy="100.3" r="1.12"/><circle cx="137.0" cy="105.6" r="1.12"/><circle cx="151.2" cy="105.9" r="1.12"/><circle cx="158.3" cy="109.1" r="1.12"/><circle cx="174.5" cy="88.0" r="1.12"/><circle cx="147.6" cy="110.4" r="1.12"/><circle cx="174.8" cy="105.2" r="1.12"/><circle cx="178.0" cy="96.0" r="1.12"/><circle cx="185.6" cy="90.2" r="1.12"/><circle cx="153.1" cy="91.6" r="1.12"/><circle cx="160.0" cy="93.5" r="1.12"/><circle cx="158.2" cy="85.3" r="1.12"/><circle cx="185.5" cy="105.0" r="1.12"/><circle cx="165.8" cy="107.3" r="1.12"/><circle cx="179.8" cy="99.8" r="1.12"/><circle cx="144.1" cy="89.0" r="1.12"/><circle cx="160.4" cy="99.2" r="1.12"/><circle cx="142.2" cy="93.6" r="1.12"/><circle cx="183.5" cy="90.6" r="1.12"/><circle cx="165.4" cy="98.4" r="1.12"/><circle cx="183.6" cy="89.8" r="1.12"/><circle cx="154.8" cy="85.6" r="1.12"/><circle cx="134.8" cy="90.7" r="1.12"/><circle cx="151.1" cy="88.1" r="1.12"/><circle cx="133.2" cy="100.8" r="1.12"/><circle cx="163.8" cy="100.1" r="1.12"/><circle cx="140.5" cy="94.2" r="1.12"/><circle cx="160.3" cy="94.6" r="1.12"/><circle cx="145.7" cy="87.5" r="1.12"/><circle cx="158.3" cy="98.1" r="1.12"/><circle cx="129.5" cy="98.4" r="1.12"/><circle cx="142.2" cy="95.3" r="1.12"/><circle cx="144.2" cy="89.6" r="1.12"/><circle cx="172.6" cy="83.5" r="1.12"/><circle cx="180.0" cy="83.4" r="1.12"/><circle cx="151.2" cy="102.7" r="1.12"/><circle cx="134.9" cy="104.6" r="1.12"/><circle cx="170.8" cy="90.8" r="1.12"/><circle cx="149.5" cy="99.0" r="1.12"/><circle cx="178.4" cy="96.1" r="1.12"/><circle cx="171.1" cy="103.4" r="1.12"/><circle cx="156.7" cy="101.9" r="1.12"/><circle cx="181.6" cy="106.4" r="1.12"/><circle cx="127.9" cy="93.1" r="1.12"/><circle cx="156.8" cy="97.7" r="1.12"/><circle cx="153.1" cy="107.0" r="1.12"/><circle cx="163.7" cy="94.1" r="1.12"/><circle cx="154.9" cy="89.5" r="1.12"/><circle cx="151.2" cy="92.1" r="1.12"/><circle cx="147.7" cy="106.2" r="1.12"/><circle cx="156.6" cy="86.5" r="1.12"/><circle cx="145.6" cy="97.8" r="1.12"/><circle cx="161.8" cy="108.5" r="1.12"/><circle cx="147.8" cy="105.9" r="1.12"/><circle cx="185.3" cy="93.8" r="1.12"/><circle cx="181.6" cy="83.4" r="1.12"/><circle cx="162.0" cy="108.5" r="1.12"/><circle cx="172.8" cy="110.9" r="1.12"/><circle cx="158.4" cy="101.1" r="1.12"/><circle cx="151.1" cy="98.4" r="1.12"/><circle cx="149.6" cy="100.9" r="1.12"/><circle cx="158.2" cy="91.8" r="1.12"/><circle cx="151.2" cy="97.7" r="1.12"/><circle cx="180.2" cy="95.1" r="1.12"/><circle cx="154.9" cy="110.9" r="1.12"/><circle cx="147.6" cy="105.2" r="1.12"/><circle cx="138.5" cy="108.1" r="1.12"/><circle cx="176.4" cy="84.6" r="1.12"/><circle cx="180.1" cy="105.3" r="1.12"/><circle cx="187.4" cy="93.9" r="1.12"/><circle cx="136.7" cy="94.0" r="1.12"/><circle cx="158.2" cy="86.5" r="1.12"/><circle cx="165.7" cy="91.2" r="1.12"/><circle cx="187.3" cy="87.6" r="1.12"/><circle cx="153.1" cy="89.9" r="1.12"/><circle cx="169.0" cy="89.8" r="1.12"/><circle cx="178.2" cy="100.6" r="1.12"/><circle cx="140.4" cy="96.8" r="1.12"/><circle cx="144.1" cy="96.5" r="1.12"/><circle cx="187.2" cy="93.7" r="1.12"/><circle cx="134.8" cy="100.2" r="1.12"/><circle cx="134.8" cy="88.3" r="1.12"/><circle cx="158.6" cy="98.9" r="1.12"/><circle cx="176.2" cy="82.2" r="1.12"/><circle cx="172.7" cy="102.1" r="1.12"/><circle cx="149.2" cy="88.8" r="1.12"/><circle cx="133.4" cy="95.8" r="1.12"/><circle cx="149.4" cy="92.2" r="1.12"/><circle cx="131.6" cy="94.9" r="1.12"/><circle cx="185.4" cy="98.0" r="1.12"/><circle cx="142.0" cy="108.8" r="1.12"/><circle cx="178.1" cy="107.8" r="1.12"/><circle cx="176.3" cy="98.6" r="1.12"/><circle cx="185.4" cy="105.4" r="1.12"/><circle cx="142.1" cy="102.2" r="1.12"/><circle cx="140.3" cy="106.5" r="1.12"/><circle cx="156.7" cy="88.1" r="1.12"/><circle cx="138.5" cy="86.2" r="1.12"/><circle cx="185.3" cy="96.7" r="1.12"/><circle cx="135.0" cy="90.3" r="1.12"/><circle cx="151.0" cy="84.9" r="1.12"/><circle cx="176.3" cy="88.2" r="1.12"/><circle cx="138.5" cy="87.5" r="1.12"/><circle cx="129.7" cy="90.2" r="1.12"/><circle cx="136.9" cy="83.8" r="1.12"/><circle cx="144.2" cy="85.0" r="1.12"/><circle cx="155.0" cy="104.8" r="1.12"/><circle cx="136.7" cy="99.6" r="1.12"/><circle cx="149.6" cy="87.2" r="1.12"/><circle cx="183.6" cy="88.8" r="1.12"/><circle cx="154.6" cy="101.8" r="1.12"/><circle cx="144.2" cy="98.2" r="1.12"/><circle cx="149.3" cy="98.8" r="1.12"/><circle cx="140.6" cy="84.9" r="1.12"/><circle cx="158.4" cy="88.9" r="1.12"/><circle cx="172.7" cy="100.3" r="1.12"/><circle cx="161.9" cy="92.3" r="1.12"/><circle cx="133.0" cy="100.9" r="1.12"/><circle cx="147.7" cy="84.5" r="1.12"/><circle cx="161.9" cy="95.5" r="1.12"/><circle cx="145.6" cy="90.0" r="1.12"/><circle cx="142.0" cy="102.1" r="1.12"/><circle cx="144.0" cy="108.1" r="1.12"/><circle cx="174.8" cy="106.6" r="1.12"/><circle cx="134.9" cy="85.9" r="1.12"/><circle cx="167.5" cy="91.2" r="1.12"/><circle cx="153.1" cy="101.6" r="1.12"/><circle cx="142.4" cy="91.2" r="1.12"/><circle cx="165.4" cy="84.7" r="1.12"/><circle cx="181.9" cy="101.6" r="1.12"/><circle cx="129.4" cy="87.5" r="1.12"/><circle cx="140.3" cy="91.8" r="1.12"/><circle cx="129.5" cy="94.7" r="1.12"/><circle cx="138.8" cy="96.5" r="1.12"/><circle cx="170.9" cy="93.6" r="1.12"/><circle cx="169.1" cy="82.0" r="1.12"/><circle cx="176.5" cy="89.3" r="1.12"/><circle cx="131.6" cy="95.3" r="1.12"/><circle cx="131.3" cy="87.0" r="1.12"/><circle cx="174.5" cy="108.3" r="1.12"/><circle cx="172.6" cy="101.4" r="1.12"/><circle cx="151.3" cy="105.6" r="1.12"/><circle cx="143.8" cy="109.3" r="1.12"/><circle cx="153.2" cy="101.3" r="1.12"/><circle cx="171.2" cy="99.4" r="1.12"/><circle cx="154.6" cy="101.5" r="1.12"/><circle cx="153.0" cy="108.7" r="1.12"/><circle cx="135.1" cy="82.8" r="1.12"/><circle cx="169.4" cy="88.6" r="1.12"/><circle cx="160.4" cy="99.7" r="1.12"/><circle cx="160.1" cy="83.3" r="1.12"/><circle cx="149.4" cy="87.0" r="1.12"/><circle cx="145.6" cy="101.8" r="1.12"/><circle cx="167.3" cy="88.1" r="1.12"/><circle cx="158.4" cy="109.0" r="1.12"/><circle cx="149.3" cy="107.3" r="1.12"/><circle cx="136.8" cy="89.5" r="1.12"/><circle cx="176.4" cy="103.5" r="1.12"/><circle cx="138.7" cy="97.3" r="1.12"/><circle cx="154.9" cy="105.7" r="1.12"/><circle cx="134.9" cy="92.0" r="1.12"/><circle cx="140.2" cy="89.0" r="1.12"/><circle cx="140.5" cy="93.8" r="1.12"/><circle cx="134.9" cy="94.2" r="1.12"/><circle cx="149.2" cy="83.6" r="1.12"/><circle cx="128.0" cy="95.6" r="1.12"/><circle cx="133.3" cy="103.7" r="1.12"/><circle cx="161.8" cy="95.2" r="1.12"/><circle cx="152.8" cy="96.8" r="1.12"/><circle cx="128.0" cy="94.0" r="1.12"/><circle cx="165.8" cy="100.1" r="1.12"/><circle cx="142.1" cy="85.3" r="1.12"/><circle cx="129.7" cy="98.2" r="1.12"/><circle cx="145.6" cy="99.7" r="1.12"/><circle cx="178.4" cy="86.1" r="1.12"/><circle cx="174.8" cy="102.9" r="1.12"/><circle cx="147.4" cy="105.5" r="1.12"/><circle cx="147.5" cy="97.1" r="1.12"/><circle cx="149.6" cy="88.0" r="1.12"/><circle cx="129.6" cy="94.7" r="1.12"/><circle cx="176.5" cy="108.0" r="1.12"/><circle cx="183.6" cy="95.4" r="1.12"/><circle cx="136.7" cy="95.8" r="1.12"/><circle cx="133.3" cy="88.0" r="1.12"/><circle cx="155.0" cy="84.0" r="1.12"/><circle cx="129.6" cy="88.0" r="1.12"/><circle cx="170.8" cy="106.0" r="1.12"/><circle cx="178.3" cy="93.3" r="1.12"/><circle cx="144.1" cy="96.0" r="1.12"/><circle cx="152.9" cy="93.7" r="1.12"/><circle cx="167.6" cy="108.0" r="1.12"/><circle cx="138.5" cy="92.9" r="1.12"/><circle cx="161.9" cy="86.8" r="1.12"/><circle cx="133.1" cy="93.3" r="1.12"/><circle cx="185.6" cy="103.4" r="1.12"/><circle cx="185.6" cy="97.9" r="1.12"/><circle cx="176.2" cy="100.9" r="1.12"/><circle cx="163.7" cy="97.7" r="1.12"/><circle cx="183.6" cy="99.2" r="1.12"/><circle cx="145.7" cy="107.4" r="1.12"/><circle cx="129.4" cy="95.4" r="1.12"/><circle cx="154.6" cy="100.4" r="1.12"/><circle cx="149.4" cy="93.1" r="1.12"/><circle cx="158.4" cy="92.5" r="1.12"/><circle cx="134.8" cy="103.1" r="1.12"/><circle cx="160.0" cy="106.6" r="1.12"/><circle cx="142.0" cy="96.4" r="1.12"/><circle cx="142.2" cy="97.1" r="1.12"/><circle cx="142.2" cy="84.6" r="1.12"/><circle cx="158.4" cy="83.8" r="1.12"/><circle cx="151.0" cy="93.7" r="1.12"/><circle cx="178.2" cy="102.0" r="1.12"/><circle cx="172.6" cy="110.7" r="1.12"/><circle cx="170.8" cy="105.6" r="1.12"/><circle cx="151.0" cy="109.7" r="1.12"/><circle cx="162.1" cy="85.3" r="1.12"/><circle cx="174.4" cy="87.9" r="1.12"/><circle cx="149.2" cy="98.4" r="1.12"/><circle cx="140.3" cy="101.4" r="1.12"/><circle cx="153.2" cy="99.2" r="1.12"/><circle cx="180.0" cy="108.4" r="1.12"/><circle cx="179.8" cy="103.0" r="1.12"/><circle cx="147.7" cy="101.0" r="1.12"/><circle cx="176.2" cy="91.8" r="1.12"/><circle cx="171.2" cy="102.3" r="1.12"/><circle cx="131.5" cy="86.8" r="1.12"/><circle cx="160.4" cy="84.6" r="1.12"/><circle cx="181.9" cy="88.8" r="1.12"/><circle cx="138.6" cy="104.1" r="1.12"/><circle cx="161.8" cy="82.4" r="1.12"/><circle cx="135.2" cy="85.7" r="1.12"/><circle cx="160.1" cy="101.2" r="1.12"/><circle cx="151.0" cy="107.1" r="1.12"/><circle cx="160.3" cy="104.9" r="1.12"/><circle cx="183.4" cy="91.5" r="1.12"/><circle cx="136.8" cy="103.7" r="1.12"/><circle cx="174.4" cy="86.5" r="1.12"/><circle cx="176.5" cy="92.4" r="1.12"/><circle cx="156.4" cy="106.1" r="1.12"/><circle cx="151.4" cy="98.9" r="1.12"/><circle cx="133.1" cy="88.9" r="1.12"/><circle cx="180.0" cy="82.9" r="1.12"/><circle cx="138.5" cy="93.6" r="1.12"/><circle cx="161.9" cy="91.2" r="1.12"/><circle cx="127.8" cy="89.6" r="1.12"/><circle cx="129.6" cy="100.5" r="1.12"/><circle cx="131.2" cy="96.3" r="1.12"/><circle cx="143.9" cy="95.5" r="1.12"/><circle cx="144.0" cy="96.4" r="1.12"/><circle cx="183.8" cy="84.9" r="1.12"/><circle cx="160.3" cy="107.0" r="1.12"/><circle cx="172.9" cy="99.6" r="1.12"/><circle cx="149.3" cy="104.5" r="1.12"/><circle cx="180.2" cy="101.0" r="1.12"/><circle cx="145.9" cy="102.8" r="1.12"/><circle cx="158.5" cy="91.2" r="1.12"/><circle cx="160.2" cy="83.3" r="1.12"/><circle cx="147.5" cy="110.6" r="1.12"/><circle cx="156.5" cy="88.1" r="1.12"/><circle cx="142.1" cy="85.2" r="1.12"/><circle cx="128.0" cy="91.3" r="1.12"/><circle cx="154.8" cy="89.8" r="1.12"/><circle cx="138.4" cy="89.1" r="1.12"/><circle cx="145.9" cy="97.1" r="1.12"/><circle cx="183.5" cy="106.4" r="1.12"/><circle cx="161.8" cy="86.4" r="1.12"/><circle cx="162.2" cy="91.3" r="1.12"/><circle cx="172.8" cy="106.8" r="1.12"/><circle cx="131.4" cy="100.5" r="1.12"/><circle cx="143.9" cy="82.5" r="1.12"/><circle cx="138.5" cy="100.2" r="1.12"/><circle cx="140.3" cy="86.8" r="1.12"/><circle cx="164.0" cy="100.0" r="1.12"/><circle cx="140.5" cy="109.4" r="1.12"/><circle cx="163.6" cy="105.0" r="1.12"/><circle cx="179.9" cy="85.2" r="1.12"/><circle cx="138.6" cy="105.2" r="1.12"/><circle cx="165.8" cy="87.3" r="1.12"/><circle cx="147.7" cy="100.0" r="1.12"/><circle cx="151.3" cy="90.8" r="1.12"/><circle cx="131.4" cy="86.1" r="1.12"/><circle cx="165.5" cy="95.4" r="1.12"/><circle cx="163.7" cy="94.4" r="1.12"/><circle cx="129.8" cy="93.7" r="1.12"/><circle cx="185.2" cy="97.9" r="1.12"/><circle cx="170.9" cy="84.1" r="1.12"/><circle cx="136.6" cy="100.7" r="1.12"/><circle cx="133.4" cy="92.7" r="1.12"/><circle cx="160.2" cy="97.2" r="1.12"/><circle cx="167.5" cy="90.6" r="1.12"/><circle cx="170.9" cy="101.9" r="1.12"/><circle cx="172.9" cy="90.0" r="1.12"/><circle cx="173.0" cy="94.1" r="1.12"/><circle cx="144.0" cy="109.1" r="1.12"/><circle cx="134.8" cy="94.3" r="1.12"/><circle cx="167.5" cy="91.5" r="1.12"/><circle cx="187.1" cy="100.2" r="1.12"/><circle cx="133.0" cy="87.5" r="1.12"/><circle cx="131.4" cy="94.3" r="1.12"/><circle cx="138.8" cy="90.9" r="1.12"/><circle cx="136.6" cy="99.9" r="1.12"/><circle cx="181.6" cy="83.1" r="1.12"/><circle cx="174.5" cy="110.4" r="1.12"/><circle cx="156.7" cy="91.0" r="1.12"/><circle cx="174.6" cy="90.4" r="1.12"/><circle cx="181.6" cy="102.3" r="1.12"/><circle cx="131.5" cy="91.7" r="1.12"/><circle cx="178.0" cy="97.5" r="1.12"/><circle cx="153.2" cy="109.2" r="1.12"/><circle cx="165.5" cy="88.4" r="1.12"/><circle cx="144.0" cy="87.8" r="1.12"/><circle cx="140.5" cy="99.6" r="1.12"/><circle cx="146.0" cy="87.4" r="1.12"/><circle cx="161.8" cy="106.7" r="1.12"/><circle cx="179.9" cy="103.2" r="1.12"/><circle cx="176.3" cy="90.6" r="1.12"/><circle cx="156.8" cy="85.9" r="1.12"/><circle cx="167.4" cy="94.1" r="1.12"/><circle cx="162.2" cy="87.2" r="1.12"/><circle cx="179.9" cy="104.1" r="1.12"/><circle cx="178.0" cy="106.7" r="1.12"/><circle cx="187.1" cy="87.2" r="1.12"/><circle cx="135.2" cy="82.1" r="1.12"/><circle cx="181.6" cy="102.4" r="1.12"/><circle cx="133.0" cy="97.5" r="1.12"/><circle cx="133.1" cy="102.3" r="1.12"/><circle cx="171.2" cy="110.4" r="1.12"/><circle cx="129.5" cy="97.2" r="1.12"/><circle cx="169.0" cy="95.7" r="1.12"/><circle cx="142.2" cy="84.4" r="1.12"/><circle cx="129.8" cy="89.9" r="1.12"/><circle cx="179.8" cy="95.2" r="1.12"/><circle cx="136.8" cy="85.8" r="1.12"/><circle cx="169.0" cy="102.8" r="1.12"/><circle cx="158.2" cy="91.2" r="1.12"/><circle cx="156.8" cy="91.1" r="1.12"/><circle cx="140.6" cy="107.0" r="1.12"/><circle cx="170.9" cy="86.3" r="1.12"/><circle cx="143.8" cy="82.9" r="1.12"/><circle cx="158.4" cy="97.2" r="1.12"/><circle cx="149.2" cy="101.2" r="1.12"/><circle cx="167.4" cy="97.0" r="1.12"/><circle cx="169.4" cy="107.0" r="1.12"/><circle cx="170.9" cy="90.2" r="1.12"/><circle cx="153.2" cy="92.2" r="1.12"/><circle cx="151.2" cy="85.4" r="1.12"/><circle cx="187.0" cy="97.3" r="1.12"/><circle cx="181.7" cy="98.7" r="1.12"/><circle cx="149.3" cy="86.9" r="1.12"/><circle cx="135.2" cy="100.2" r="1.12"/><circle cx="181.6" cy="101.2" r="1.12"/><circle cx="147.7" cy="97.0" r="1.12"/><circle cx="146.0" cy="82.0" r="1.12"/><circle cx="173.0" cy="95.8" r="1.12"/><circle cx="164.0" cy="87.9" r="1.12"/><circle cx="165.7" cy="92.0" r="1.12"/><circle cx="169.1" cy="96.3" r="1.12"/><circle cx="163.9" cy="90.3" r="1.12"/><circle cx="165.6" cy="87.6" r="1.12"/><circle cx="163.7" cy="108.1" r="1.12"/><circle cx="156.7" cy="96.2" r="1.12"/><circle cx="156.5" cy="85.4" r="1.12"/><circle cx="183.6" cy="96.0" r="1.12"/><circle cx="158.6" cy="88.0" r="1.12"/><circle cx="138.8" cy="93.5" r="1.12"/><circle cx="165.8" cy="107.6" r="1.12"/><circle cx="179.8" cy="92.0" r="1.12"/><circle cx="176.6" cy="84.9" r="1.12"/><circle cx="136.7" cy="84.1" r="1.12"/><circle cx="149.6" cy="96.2" r="1.12"/><circle cx="154.6" cy="92.5" r="1.12"/><circle cx="187.3" cy="94.4" r="1.12"/><circle cx="156.7" cy="103.4" r="1.12"/><circle cx="136.9" cy="90.4" r="1.12"/><circle cx="158.3" cy="91.7" r="1.12"/><circle cx="147.5" cy="82.3" r="1.12"/><circle cx="140.4" cy="83.2" r="1.12"/><circle cx="138.7" cy="88.5" r="1.12"/><circle cx="147.5" cy="105.8" r="1.12"/><circle cx="133.3" cy="101.2" r="1.12"/><circle cx="140.4" cy="104.0" r="1.12"/><circle cx="163.7" cy="82.9" r="1.12"/><circle cx="154.7" cy="102.0" r="1.12"/><circle cx="145.8" cy="100.0" r="1.12"/><circle cx="176.3" cy="92.2" r="1.12"/><circle cx="162.2" cy="86.7" r="1.12"/><circle cx="185.5" cy="92.7" r="1.12"/><circle cx="167.3" cy="83.6" r="1.12"/><circle cx="172.7" cy="96.3" r="1.12"/><circle cx="156.8" cy="103.4" r="1.12"/><circle cx="129.6" cy="92.0" r="1.12"/><circle cx="155.0" cy="93.0" r="1.12"/><circle cx="156.8" cy="93.7" r="1.12"/><circle cx="156.6" cy="105.5" r="1.12"/><circle cx="167.5" cy="92.6" r="1.12"/><circle cx="129.7" cy="93.5" r="1.12"/><circle cx="172.9" cy="84.8" r="1.12"/><circle cx="140.2" cy="104.6" r="1.12"/><circle cx="122.3" cy="88.2" r="1.12"/><circle cx="127.1" cy="94.9" r="1.12"/><circle cx="121.9" cy="96.5" r="1.12"/><circle cx="126.8" cy="93.8" r="1.12"/><circle cx="121.9" cy="96.7" r="1.12"/><circle cx="124.6" cy="95.2" r="1.12"/><circle cx="129.0" cy="98.4" r="1.12"/><circle cx="128.0" cy="89.0" r="1.12"/><circle cx="124.0" cy="94.3" r="1.12"/><circle cx="121.5" cy="100.8" r="1.12"/><circle cx="123.6" cy="90.7" r="1.12"/><circle cx="123.8" cy="90.6" r="1.12"/><circle cx="127.9" cy="94.8" r="1.12"/><circle cx="125.3" cy="92.9" r="1.12"/><circle cx="121.9" cy="91.3" r="1.12"/><circle cx="128.0" cy="98.2" r="1.12"/><circle cx="127.9" cy="90.6" r="1.12"/><circle cx="123.0" cy="87.7" r="1.12"/><circle cx="125.5" cy="92.2" r="1.12"/><circle cx="125.0" cy="93.8" r="1.12"/><circle cx="125.9" cy="92.1" r="1.12"/><circle cx="127.5" cy="89.8" r="1.12"/><circle cx="128.4" cy="94.8" r="1.12"/><circle cx="121.9" cy="91.4" r="1.12"/><circle cx="125.5" cy="92.7" r="1.12"/><circle cx="125.7" cy="91.5" r="1.12"/><circle cx="123.6" cy="98.1" r="1.12"/><circle cx="123.7" cy="96.9" r="1.12"/><circle cx="127.5" cy="95.3" r="1.12"/><circle cx="124.9" cy="100.1" r="1.12"/><circle cx="124.8" cy="99.3" r="1.12"/><circle cx="121.9" cy="93.1" r="1.12"/><circle cx="126.3" cy="87.7" r="1.12"/><circle cx="128.0" cy="88.0" r="1.12"/><circle cx="126.0" cy="89.5" r="1.12"/><circle cx="128.4" cy="94.9" r="1.12"/><circle cx="127.5" cy="94.0" r="1.12"/><circle cx="126.6" cy="96.4" r="1.12"/><circle cx="123.7" cy="90.0" r="1.12"/><circle cx="127.8" cy="89.0" r="1.12"/><circle cx="128.4" cy="89.9" r="1.12"/><circle cx="122.3" cy="88.3" r="1.12"/><circle cx="127.4" cy="100.3" r="1.12"/><circle cx="124.6" cy="96.2" r="1.12"/><circle cx="123.4" cy="99.7" r="1.12"/><circle cx="126.6" cy="89.2" r="1.12"/><circle cx="121.9" cy="96.7" r="1.12"/><circle cx="121.8" cy="98.7" r="1.12"/><circle cx="123.7" cy="90.3" r="1.12"/><circle cx="125.9" cy="91.5" r="1.12"/><circle cx="125.7" cy="89.2" r="1.12"/><circle cx="128.3" cy="91.5" r="1.12"/><circle cx="127.8" cy="89.1" r="1.12"/><circle cx="127.5" cy="100.7" r="1.12"/><circle cx="124.4" cy="87.5" r="1.12"/><circle cx="124.3" cy="96.0" r="1.12"/><circle cx="123.2" cy="94.6" r="1.12"/><circle cx="122.2" cy="93.5" r="1.12"/><circle cx="127.0" cy="93.0" r="1.12"/><circle cx="126.6" cy="88.6" r="1.12"/><circle cx="108.2" cy="117.8" r="1.12"/><circle cx="106.0" cy="124.2" r="1.12"/><circle cx="115.5" cy="97.7" r="1.12"/><circle cx="112.2" cy="101.6" r="1.12"/><circle cx="113.1" cy="100.2" r="1.12"/><circle cx="111.4" cy="103.8" r="1.12"/><circle cx="119.3" cy="93.9" r="1.12"/><circle cx="118.9" cy="94.4" r="1.12"/><circle cx="110.8" cy="105.3" r="1.12"/><circle cx="104.7" cy="121.5" r="1.12"/><circle cx="114.7" cy="97.3" r="1.12"/><circle cx="108.3" cy="113.7" r="1.12"/><circle cx="118.1" cy="96.8" r="1.12"/><circle cx="120.5" cy="91.4" r="1.12"/><circle cx="109.4" cy="105.6" r="1.12"/><circle cx="112.9" cy="103.5" r="1.12"/><circle cx="120.4" cy="92.2" r="1.12"/><circle cx="114.1" cy="97.5" r="1.12"/><circle cx="121.4" cy="93.0" r="1.12"/><circle cx="107.0" cy="115.4" r="1.12"/><circle cx="123.2" cy="94.5" r="1.12"/><circle cx="120.4" cy="92.5" r="1.12"/><circle cx="121.2" cy="92.7" r="1.12"/><circle cx="109.6" cy="103.2" r="1.12"/><circle cx="118.7" cy="94.4" r="1.12"/><circle cx="121.8" cy="95.3" r="1.12"/><circle cx="111.8" cy="101.9" r="1.12"/><circle cx="102.6" cy="122.0" r="1.12"/><circle cx="109.8" cy="103.6" r="1.12"/><circle cx="107.7" cy="112.8" r="1.12"/><circle cx="123.7" cy="92.3" r="1.12"/><circle cx="117.1" cy="95.6" r="1.12"/><circle cx="110.2" cy="106.6" r="1.12"/><circle cx="106.6" cy="113.1" r="1.12"/><circle cx="115.0" cy="92.7" r="1.12"/><circle cx="123.1" cy="90.1" r="1.12"/><circle cx="105.0" cy="117.1" r="1.12"/><circle cx="112.6" cy="100.6" r="1.12"/><circle cx="103.8" cy="122.3" r="1.12"/><circle cx="123.0" cy="94.2" r="1.12"/><circle cx="108.9" cy="109.8" r="1.12"/><circle cx="121.5" cy="93.7" r="1.12"/><circle cx="120.1" cy="96.3" r="1.12"/><circle cx="105.1" cy="114.1" r="1.12"/><circle cx="108.6" cy="112.2" r="1.12"/><circle cx="109.5" cy="108.8" r="1.12"/><circle cx="106.1" cy="116.1" r="1.12"/><circle cx="107.2" cy="111.2" r="1.12"/><circle cx="103.8" cy="121.1" r="1.12"/><circle cx="122.9" cy="90.1" r="1.12"/><circle cx="105.2" cy="117.2" r="1.12"/><circle cx="105.3" cy="113.7" r="1.12"/><circle cx="106.7" cy="113.0" r="1.12"/><circle cx="118.1" cy="95.7" r="1.12"/><circle cx="107.5" cy="124.2" r="1.12"/><circle cx="106.6" cy="116.2" r="1.12"/><circle cx="118.9" cy="96.0" r="1.12"/><circle cx="115.5" cy="94.8" r="1.12"/><circle cx="107.8" cy="107.9" r="1.12"/><circle cx="107.2" cy="111.7" r="1.12"/><circle cx="105.6" cy="120.5" r="1.12"/><circle cx="121.6" cy="90.0" r="1.12"/><circle cx="113.4" cy="95.8" r="1.12"/><circle cx="108.1" cy="114.1" r="1.12"/><circle cx="127.2" cy="92.7" r="1.12"/><circle cx="112.3" cy="98.5" r="1.12"/><circle cx="115.8" cy="98.2" r="1.12"/><circle cx="105.1" cy="115.8" r="1.12"/><circle cx="122.7" cy="94.1" r="1.12"/><circle cx="111.7" cy="98.1" r="1.12"/><circle cx="121.7" cy="92.2" r="1.12"/><circle cx="106.6" cy="116.4" r="1.12"/><circle cx="104.2" cy="123.3" r="1.12"/><circle cx="103.3" cy="117.1" r="1.12"/><circle cx="110.8" cy="98.7" r="1.12"/><circle cx="112.3" cy="102.2" r="1.12"/><circle cx="106.9" cy="117.2" r="1.12"/><circle cx="127.4" cy="93.8" r="1.12"/><circle cx="113.0" cy="99.6" r="1.12"/><circle cx="116.4" cy="98.5" r="1.12"/><circle cx="104.5" cy="117.4" r="1.12"/><circle cx="106.6" cy="119.8" r="1.12"/><circle cx="122.3" cy="90.9" r="1.12"/><circle cx="103.6" cy="124.1" r="1.12"/><circle cx="107.9" cy="108.0" r="1.12"/><circle cx="109.6" cy="107.9" r="1.12"/><circle cx="115.3" cy="97.7" r="1.12"/><circle cx="105.4" cy="114.6" r="1.12"/><circle cx="112.8" cy="97.6" r="1.12"/><circle cx="107.5" cy="110.7" r="1.12"/><circle cx="117.9" cy="99.2" r="1.12"/><circle cx="106.5" cy="120.3" r="1.12"/><circle cx="111.3" cy="105.1" r="1.12"/><circle cx="106.5" cy="111.1" r="1.12"/><circle cx="106.6" cy="114.2" r="1.12"/><circle cx="115.3" cy="99.2" r="1.12"/><circle cx="105.9" cy="113.5" r="1.12"/><circle cx="104.3" cy="121.0" r="1.12"/><circle cx="118.0" cy="97.1" r="1.12"/><circle cx="106.5" cy="114.5" r="1.12"/><circle cx="118.6" cy="92.6" r="1.12"/><circle cx="120.5" cy="92.5" r="1.12"/><circle cx="117.2" cy="96.8" r="1.12"/><circle cx="117.6" cy="97.7" r="1.12"/><circle cx="118.6" cy="96.6" r="1.12"/><circle cx="118.9" cy="95.2" r="1.12"/><circle cx="122.2" cy="93.7" r="1.12"/><circle cx="115.3" cy="98.2" r="1.12"/><circle cx="120.5" cy="93.3" r="1.12"/><circle cx="104.6" cy="114.5" r="1.12"/><circle cx="117.4" cy="98.3" r="1.12"/><circle cx="110.5" cy="100.3" r="1.12"/><circle cx="106.9" cy="113.3" r="1.12"/><circle cx="104.1" cy="120.2" r="1.12"/><circle cx="108.9" cy="109.1" r="1.12"/><circle cx="125.3" cy="90.0" r="1.12"/><circle cx="116.0" cy="97.2" r="1.12"/><circle cx="119.6" cy="95.6" r="1.12"/><circle cx="106.5" cy="111.0" r="1.12"/><circle cx="107.2" cy="115.5" r="1.12"/><circle cx="130.0" cy="38.5" r="1.12"/><circle cx="138.5" cy="38.5" r="1.12"/><circle cx="138.0" cy="52.0" r="1.12"/><circle cx="134.0" cy="63.0" r="1.12"/><circle cx="140.0" cy="67.0" r="1.12"/><circle cx="137.5" cy="56.0" r="1.12"/><circle cx="141.0" cy="72.0" r="1.12"/><circle cx="146.0" cy="70.0" r="1.12"/><circle cx="150.0" cy="74.0" r="1.12"/><circle cx="133.0" cy="75.0" r="1.12"/><circle cx="129.0" cy="79.0" r="1.12"/><circle cx="192.0" cy="78.0" r="1.12"/><circle cx="196.0" cy="69.0" r="1.12"/><circle cx="119.0" cy="106.0" r="1.12"/><circle cx="124.0" cy="110.0" r="1.12"/><circle cx="131.0" cy="112.0" r="1.12"/><circle cx="138.0" cy="113.0" r="1.12"/><circle cx="145.0" cy="114.0" r="1.12"/><circle cx="152.0" cy="113.0" r="1.12"/><circle cx="160.0" cy="115.0" r="1.12"/><circle cx="168.0" cy="114.0" r="1.12"/><circle cx="175.0" cy="113.0" r="1.12"/><circle cx="181.0" cy="112.0" r="1.12"/><circle cx="186.0" cy="110.0" r="1.12"/><circle cx="189.0" cy="108.0" r="1.12"/><circle cx="139.0" cy="116.0" r="1.12"/><circle cx="166.0" cy="117.5" r="1.12"/><circle cx="188.0" cy="103.0" r="1.12"/><circle cx="190.0" cy="98.0" r="1.12"/><circle cx="124.0" cy="84.0" r="1.12"/><circle cx="120.0" cy="95.0" r="1.12"/><circle cx="235.5" cy="135.3" r="1.12"/><circle cx="117.0" cy="115.0" r="1.12"/><circle cx="114.0" cy="118.0" r="1.12"/><circle cx="110.0" cy="128.0" r="1.12"/><circle cx="113.0" cy="131.0" r="1.12"/><circle cx="118.0" cy="134.0" r="1.12"/></g>
<g fill="#f5b878" stroke="#6a5030" stroke-width="0.3" stroke-opacity="0.5"><circle cx="150.0" cy="102.0" r="1.12"/><circle cx="153.0" cy="104.5" r="1.12"/><circle cx="156.0" cy="101.5" r="1.12"/><circle cx="159.0" cy="105.0" r="1.12"/><circle cx="162.0" cy="103.0" r="1.12"/><circle cx="165.0" cy="106.0" r="1.12"/><circle cx="157.0" cy="107.0" r="1.12"/><circle cx="148.0" cy="106.0" r="1.12"/><circle cx="170.0" cy="104.0" r="1.12"/><circle cx="197.0" cy="112.0" r="1.12"/><circle cx="200.0" cy="115.5" r="1.12"/><circle cx="204.0" cy="117.0" r="1.12"/><circle cx="186.0" cy="97.0" r="1.12"/><circle cx="161.0" cy="99.0" r="1.12"/></g>
<g fill="#f3f1ae" stroke="#66663a" stroke-width="0.3" stroke-opacity="0.5"><circle cx="179.3" cy="83.8" r="1.12"/><circle cx="182.1" cy="85.9" r="1.12"/><circle cx="187.7" cy="86.2" r="1.12"/><circle cx="194.4" cy="87.1" r="1.12"/><circle cx="184.4" cy="90.4" r="1.12"/><circle cx="188.5" cy="86.5" r="1.12"/><circle cx="190.8" cy="92.8" r="1.12"/><circle cx="181.3" cy="87.9" r="1.12"/><circle cx="182.0" cy="84.2" r="1.12"/><circle cx="189.9" cy="90.1" r="1.12"/><circle cx="191.5" cy="89.5" r="1.12"/><circle cx="177.6" cy="88.4" r="1.12"/><circle cx="183.9" cy="85.9" r="1.12"/><circle cx="181.8" cy="90.2" r="1.12"/><circle cx="185.6" cy="92.9" r="1.12"/><circle cx="189.2" cy="84.2" r="1.12"/><circle cx="191.2" cy="91.3" r="1.12"/><circle cx="187.1" cy="85.8" r="1.12"/><circle cx="195.2" cy="85.6" r="1.12"/><circle cx="186.6" cy="84.2" r="1.12"/><circle cx="181.1" cy="84.7" r="1.12"/><circle cx="192.1" cy="91.1" r="1.12"/><circle cx="185.1" cy="85.5" r="1.12"/><circle cx="186.7" cy="89.3" r="1.12"/><circle cx="179.9" cy="85.9" r="1.12"/><circle cx="186.5" cy="90.1" r="1.12"/><circle cx="187.3" cy="89.5" r="1.12"/><circle cx="181.2" cy="82.9" r="1.12"/><circle cx="188.5" cy="86.4" r="1.12"/><circle cx="186.4" cy="87.7" r="1.12"/><circle cx="189.2" cy="86.8" r="1.12"/><circle cx="193.8" cy="88.6" r="1.12"/><circle cx="189.5" cy="89.9" r="1.12"/><circle cx="191.9" cy="89.4" r="1.12"/><circle cx="178.8" cy="87.1" r="1.12"/><circle cx="195.7" cy="89.6" r="1.12"/><circle cx="189.6" cy="89.5" r="1.12"/><circle cx="184.0" cy="87.0" r="1.12"/><circle cx="184.0" cy="91.1" r="1.12"/><circle cx="188.7" cy="92.5" r="1.12"/><circle cx="189.3" cy="92.8" r="1.12"/><circle cx="189.1" cy="85.8" r="1.12"/><circle cx="195.2" cy="89.3" r="1.12"/><circle cx="192.6" cy="89.0" r="1.12"/><circle cx="185.5" cy="88.9" r="1.12"/><circle cx="181.7" cy="85.8" r="1.12"/><circle cx="182.8" cy="87.3" r="1.12"/><circle cx="180.6" cy="88.3" r="1.12"/><circle cx="188.4" cy="93.1" r="1.12"/><circle cx="195.7" cy="88.4" r="1.12"/><circle cx="191.2" cy="88.0" r="1.12"/><circle cx="188.8" cy="88.4" r="1.12"/><circle cx="184.5" cy="88.7" r="1.12"/><circle cx="180.0" cy="89.5" r="1.12"/><circle cx="185.6" cy="86.1" r="1.12"/><circle cx="185.3" cy="89.8" r="1.12"/><circle cx="183.8" cy="89.6" r="1.12"/><circle cx="189.7" cy="92.0" r="1.12"/><circle cx="181.9" cy="88.2" r="1.12"/><circle cx="189.4" cy="91.9" r="1.12"/><circle cx="188.2" cy="90.2" r="1.12"/><circle cx="180.1" cy="87.2" r="1.12"/><circle cx="194.9" cy="87.9" r="1.12"/><circle cx="197.2" cy="86.9" r="1.12"/><circle cx="185.7" cy="84.9" r="1.12"/><circle cx="190.0" cy="89.1" r="1.12"/><circle cx="196.5" cy="88.9" r="1.12"/><circle cx="185.8" cy="85.3" r="1.12"/><circle cx="186.6" cy="90.6" r="1.12"/><circle cx="190.5" cy="91.3" r="1.12"/><circle cx="176.0" cy="150.5" r="1.12"/><circle cx="178.0" cy="135.0" r="1.12"/><circle cx="166.0" cy="124.0" r="1.12"/></g>
<g fill="#addfaa" stroke="#3c6a3c" stroke-width="0.3" stroke-opacity="0.5"><circle cx="164.8" cy="78.9" r="1.12"/><circle cx="163.7" cy="79.3" r="1.12"/><circle cx="155.1" cy="82.4" r="1.12"/><circle cx="162.7" cy="76.9" r="1.12"/><circle cx="162.7" cy="79.6" r="1.12"/><circle cx="165.4" cy="81.9" r="1.12"/><circle cx="147.5" cy="80.1" r="1.12"/><circle cx="167.8" cy="77.1" r="1.12"/><circle cx="152.7" cy="79.6" r="1.12"/><circle cx="162.5" cy="79.7" r="1.12"/><circle cx="156.1" cy="78.1" r="1.12"/><circle cx="161.9" cy="80.5" r="1.12"/><circle cx="170.8" cy="79.6" r="1.12"/><circle cx="158.3" cy="74.3" r="1.12"/><circle cx="165.8" cy="78.7" r="1.12"/><circle cx="160.5" cy="77.0" r="1.12"/><circle cx="164.3" cy="75.4" r="1.12"/><circle cx="161.5" cy="79.2" r="1.12"/><circle cx="162.3" cy="81.6" r="1.12"/><circle cx="160.6" cy="79.2" r="1.12"/><circle cx="164.8" cy="75.9" r="1.12"/><circle cx="159.7" cy="79.1" r="1.12"/><circle cx="165.3" cy="77.4" r="1.12"/><circle cx="164.6" cy="79.8" r="1.12"/><circle cx="154.4" cy="76.1" r="1.12"/><circle cx="154.6" cy="79.3" r="1.12"/><circle cx="161.9" cy="80.4" r="1.12"/><circle cx="164.7" cy="77.9" r="1.12"/><circle cx="165.8" cy="80.6" r="1.12"/><circle cx="163.1" cy="80.0" r="1.12"/><circle cx="155.3" cy="79.7" r="1.12"/><circle cx="156.4" cy="76.6" r="1.12"/><circle cx="159.4" cy="79.3" r="1.12"/><circle cx="160.8" cy="78.3" r="1.12"/><circle cx="156.5" cy="79.4" r="1.12"/><circle cx="157.7" cy="76.2" r="1.12"/><circle cx="161.4" cy="81.9" r="1.12"/><circle cx="159.2" cy="76.9" r="1.12"/><circle cx="167.2" cy="82.4" r="1.12"/><circle cx="159.7" cy="78.6" r="1.12"/><circle cx="161.9" cy="84.9" r="1.12"/><circle cx="161.6" cy="81.0" r="1.12"/><circle cx="163.0" cy="75.4" r="1.12"/><circle cx="156.1" cy="76.5" r="1.12"/><circle cx="162.9" cy="79.2" r="1.12"/><circle cx="169.0" cy="78.5" r="1.12"/><circle cx="162.4" cy="79.1" r="1.12"/><circle cx="161.6" cy="83.6" r="1.12"/><circle cx="162.3" cy="81.9" r="1.12"/><circle cx="166.8" cy="77.8" r="1.12"/><circle cx="164.1" cy="78.2" r="1.12"/><circle cx="161.5" cy="79.3" r="1.12"/><circle cx="161.1" cy="78.1" r="1.12"/><circle cx="168.0" cy="78.5" r="1.12"/><circle cx="164.2" cy="82.3" r="1.12"/><circle cx="163.8" cy="81.0" r="1.12"/><circle cx="167.2" cy="81.2" r="1.12"/><circle cx="168.7" cy="76.2" r="1.12"/><circle cx="169.8" cy="79.1" r="1.12"/><circle cx="153.2" cy="77.7" r="1.12"/><circle cx="154.7" cy="79.0" r="1.12"/><circle cx="154.3" cy="77.0" r="1.12"/><circle cx="162.3" cy="79.3" r="1.12"/><circle cx="157.4" cy="78.5" r="1.12"/><circle cx="160.6" cy="79.1" r="1.12"/><circle cx="161.0" cy="78.6" r="1.12"/><circle cx="164.9" cy="75.8" r="1.12"/><circle cx="158.8" cy="79.3" r="1.12"/><circle cx="159.2" cy="77.9" r="1.12"/><circle cx="159.0" cy="79.4" r="1.12"/><circle cx="166.6" cy="78.6" r="1.12"/><circle cx="159.8" cy="79.7" r="1.12"/><circle cx="159.9" cy="75.1" r="1.12"/><circle cx="162.2" cy="78.2" r="1.12"/><circle cx="158.4" cy="80.3" r="1.12"/><circle cx="158.1" cy="75.0" r="1.12"/><circle cx="151.5" cy="72.9" r="1.12"/><circle cx="158.0" cy="75.8" r="1.12"/><circle cx="159.3" cy="76.4" r="1.12"/><circle cx="156.6" cy="73.7" r="1.12"/><circle cx="154.7" cy="75.7" r="1.12"/><circle cx="154.6" cy="77.4" r="1.12"/><circle cx="154.0" cy="72.8" r="1.12"/><circle cx="157.4" cy="72.8" r="1.12"/><circle cx="162.9" cy="74.2" r="1.12"/><circle cx="157.8" cy="75.6" r="1.12"/><circle cx="155.5" cy="72.8" r="1.12"/><circle cx="161.5" cy="82.6" r="1.12"/><circle cx="154.5" cy="68.4" r="1.12"/><circle cx="129.4" cy="79.2" r="1.12"/><circle cx="173.0" cy="111.5" r="1.12"/><circle cx="187.3" cy="115.6" r="1.12"/><circle cx="148.8" cy="60.5" r="1.12"/><circle cx="181.5" cy="78.5" r="1.12"/><circle cx="191.4" cy="102.4" r="1.12"/><circle cx="157.0" cy="75.0" r="1.12"/><circle cx="174.0" cy="72.7" r="1.12"/><circle cx="176.4" cy="81.9" r="1.12"/><circle cx="189.4" cy="66.9" r="1.12"/><circle cx="123.1" cy="67.2" r="1.12"/><circle cx="176.4" cy="76.5" r="1.12"/><circle cx="136.7" cy="66.2" r="1.12"/><circle cx="173.6" cy="83.1" r="1.12"/><circle cx="168.1" cy="93.3" r="1.12"/><circle cx="135.9" cy="61.6" r="1.12"/><circle cx="193.2" cy="71.8" r="1.12"/><circle cx="175.6" cy="68.0" r="1.12"/><circle cx="176.4" cy="69.8" r="1.12"/><circle cx="155.5" cy="82.4" r="1.12"/><circle cx="186.9" cy="52.0" r="1.12"/><circle cx="139.6" cy="106.4" r="1.12"/><circle cx="189.3" cy="64.6" r="1.12"/><circle cx="134.3" cy="93.5" r="1.12"/><circle cx="194.0" cy="62.3" r="1.12"/><circle cx="151.9" cy="93.0" r="1.12"/><circle cx="142.8" cy="80.5" r="1.12"/><circle cx="197.1" cy="74.0" r="1.12"/><circle cx="166.4" cy="68.8" r="1.12"/><circle cx="130.7" cy="66.4" r="1.12"/><circle cx="144.3" cy="75.1" r="1.12"/><circle cx="156.9" cy="69.2" r="1.12"/><circle cx="172.0" cy="81.1" r="1.12"/><circle cx="125.9" cy="93.8" r="1.12"/><circle cx="162.6" cy="62.8" r="1.12"/><circle cx="145.4" cy="71.5" r="1.12"/><circle cx="156.7" cy="61.6" r="1.12"/><circle cx="158.6" cy="111.8" r="1.12"/><circle cx="127.6" cy="64.7" r="1.12"/><circle cx="165.9" cy="107.4" r="1.12"/><circle cx="154.0" cy="38.5" r="1.12"/><circle cx="169.0" cy="38.5" r="1.12"/><circle cx="176.0" cy="46.0" r="1.12"/><circle cx="141.0" cy="44.0" r="1.12"/><circle cx="168.5" cy="58.0" r="1.12"/><circle cx="127.0" cy="163.5" r="1.12"/><circle cx="175.8" cy="156.7" r="1.12"/><circle cx="132.6" cy="145.2" r="1.12"/><circle cx="170.9" cy="129.8" r="1.12"/><circle cx="155.5" cy="121.0" r="1.12"/><circle cx="163.7" cy="122.6" r="1.12"/><circle cx="189.0" cy="120.7" r="1.12"/><circle cx="196.0" cy="60.0" r="1.12"/><circle cx="203.0" cy="96.0" r="1.12"/><circle cx="146.0" cy="121.0" r="1.12"/><circle cx="181.0" cy="121.5" r="1.12"/><circle cx="196.0" cy="104.0" r="1.12"/><circle cx="201.0" cy="88.0" r="1.12"/></g>
<g fill="#f0b888" stroke="#6a4520" stroke-width="0.3" stroke-opacity="0.6"><circle cx="238.8" cy="129.9" r="1.12"/><circle cx="240.3" cy="134.2" r="1.12"/><circle cx="254.5" cy="137.5" r="1.12"/><circle cx="256.0" cy="137.4" r="1.12"/><circle cx="257.4" cy="137.6" r="1.12"/><circle cx="269.0" cy="139.7" r="1.12"/><circle cx="268.3" cy="138.6" r="1.12"/><circle cx="270.0" cy="141.9" r="1.12"/><circle cx="277.0" cy="143.0" r="1.12"/><circle cx="282.0" cy="144.0" r="1.12"/><circle cx="283.5" cy="144.8" r="1.12"/><circle cx="285.0" cy="145.5" r="1.12"/><circle cx="286.5" cy="146.0" r="1.12"/><circle cx="287.5" cy="146.4" r="1.12"/><circle cx="290.2" cy="146.3" r="1.12"/><circle cx="294.6" cy="147.4" r="1.12"/><circle cx="296.0" cy="147.0" r="1.12"/><circle cx="297.0" cy="148.2" r="1.12"/><circle cx="298.0" cy="149.0" r="1.12"/><circle cx="299.0" cy="149.6" r="1.12"/><circle cx="300.0" cy="150.0" r="1.12"/><circle cx="301.0" cy="150.7" r="1.12"/><circle cx="299.5" cy="148.5" r="1.12"/><circle cx="305.5" cy="151.0" r="1.12"/><circle cx="345.0" cy="162.7" r="1.12"/><circle cx="356.5" cy="168.5" r="1.12"/><circle cx="352.3" cy="167.3" r="1.12"/><circle cx="355.7" cy="167.9" r="1.12"/><circle cx="350.1" cy="166.1" r="1.12"/><circle cx="354.8" cy="167.7" r="1.12"/><circle cx="350.4" cy="167.2" r="1.12"/><circle cx="351.7" cy="167.6" r="1.12"/><circle cx="351.8" cy="166.9" r="1.12"/><circle cx="353.4" cy="167.2" r="1.12"/><circle cx="351.7" cy="166.2" r="1.12"/><circle cx="348.7" cy="166.3" r="1.12"/><circle cx="354.1" cy="167.9" r="1.12"/><circle cx="356.4" cy="166.9" r="1.12"/><circle cx="350.9" cy="166.4" r="1.12"/><circle cx="348.4" cy="165.7" r="1.12"/><circle cx="347.8" cy="166.1" r="1.12"/><circle cx="351.6" cy="167.0" r="1.12"/><circle cx="353.5" cy="166.9" r="1.12"/><circle cx="351.0" cy="166.6" r="1.12"/><circle cx="356.5" cy="168.5" r="1.12"/><circle cx="352.7" cy="166.7" r="1.12"/><circle cx="356.7" cy="167.7" r="1.12"/><circle cx="355.9" cy="169.5" r="1.12"/><circle cx="351.8" cy="168.1" r="1.12"/><circle cx="349.8" cy="166.8" r="1.12"/><circle cx="354.2" cy="167.3" r="1.12"/><circle cx="348.6" cy="166.1" r="1.12"/><circle cx="353.0" cy="167.7" r="1.12"/><circle cx="352.6" cy="166.8" r="1.12"/><circle cx="350.3" cy="167.2" r="1.12"/><circle cx="351.5" cy="171.2" r="1.12"/><circle cx="353.7" cy="171.3" r="1.12"/><circle cx="351.9" cy="171.4" r="1.12"/><circle cx="352.4" cy="171.7" r="1.12"/><circle cx="354.6" cy="170.8" r="1.12"/><circle cx="352.2" cy="170.8" r="1.12"/><circle cx="350.8" cy="170.6" r="1.12"/><circle cx="350.4" cy="170.9" r="1.12"/><circle cx="356.0" cy="171.7" r="1.12"/><circle cx="353.7" cy="170.8" r="1.12"/><circle cx="353.9" cy="171.5" r="1.12"/><circle cx="351.5" cy="170.5" r="1.12"/><circle cx="355.5" cy="171.1" r="1.12"/><circle cx="352.0" cy="171.3" r="1.12"/></g>
<defs><path id="st" d="M0.0,-2.7L0.7,-0.9L2.6,-0.8L1.1,0.4L1.6,2.2L0.0,1.1L-1.6,2.2L-1.1,0.4L-2.6,-0.8L-0.7,-0.9Z"/></defs>
<g fill="#e4d6f3" stroke="#4a3a62" stroke-width="0.32" stroke-opacity="0.85"><use href="#st" x="102.0" y="178.3"/><use href="#st" x="79.1" y="177.7"/><use href="#st" x="74.7" y="192.4"/><use href="#st" x="75.6" y="188.4"/><use href="#st" x="90.6" y="179.0"/><use href="#st" x="64.2" y="214.7"/><use href="#st" x="80.5" y="187.9"/><use href="#st" x="104.7" y="123.9"/><use href="#st" x="106.5" y="122.8"/><use href="#st" x="89.9" y="160.9"/><use href="#st" x="84.6" y="181.2"/><use href="#st" x="66.7" y="207.6"/><use href="#st" x="93.3" y="179.6"/><use href="#st" x="65.5" y="209.8"/><use href="#st" x="97.4" y="157.8"/><use href="#st" x="81.1" y="180.0"/><use href="#st" x="81.2" y="186.3"/><use href="#st" x="81.1" y="186.0"/><use href="#st" x="64.8" y="215.0"/><use href="#st" x="79.3" y="184.0"/><use href="#st" x="85.0" y="173.7"/><use href="#st" x="88.8" y="185.6"/><use href="#st" x="64.8" y="213.9"/><use href="#st" x="79.4" y="186.2"/><use href="#st" x="86.2" y="188.2"/><use href="#st" x="80.2" y="182.2"/><use href="#st" x="76.2" y="183.0"/><use href="#st" x="81.4" y="178.2"/><use href="#st" x="82.4" y="176.5"/><use href="#st" x="105.4" y="123.2"/><use href="#st" x="82.2" y="182.9"/><use href="#st" x="79.2" y="184.5"/><use href="#st" x="83.4" y="186.1"/><use href="#st" x="79.4" y="182.2"/><use href="#st" x="84.2" y="176.6"/><use href="#st" x="81.4" y="184.3"/><use href="#st" x="77.9" y="184.8"/><use href="#st" x="82.4" y="182.9"/><use href="#st" x="85.9" y="181.2"/><use href="#st" x="70.1" y="204.6"/><use href="#st" x="79.1" y="185.9"/><use href="#st" x="78.6" y="181.9"/><use href="#st" x="80.3" y="180.9"/><use href="#st" x="77.9" y="184.5"/><use href="#st" x="74.0" y="180.0"/><use href="#st" x="86.7" y="187.1"/><use href="#st" x="83.0" y="179.9"/><use href="#st" x="104.4" y="120.7"/><use href="#st" x="81.5" y="190.1"/><use href="#st" x="77.9" y="186.6"/><use href="#st" x="83.4" y="183.1"/><use href="#st" x="105.5" y="123.9"/><use href="#st" x="77.7" y="173.5"/><use href="#st" x="85.4" y="182.2"/><use href="#st" x="75.1" y="190.6"/><use href="#st" x="83.5" y="183.4"/><use href="#st" x="87.4" y="171.6"/><use href="#st" x="82.3" y="181.5"/><use href="#st" x="78.2" y="175.4"/><use href="#st" x="78.6" y="183.4"/><use href="#st" x="105.0" y="92.7"/><use href="#st" x="111.5" y="100.9"/><use href="#st" x="82.3" y="189.0"/><use href="#st" x="79.9" y="180.8"/><use href="#st" x="122.0" y="92.0"/><use href="#st" x="78.3" y="183.5"/><use href="#st" x="63.2" y="218.7"/><use href="#st" x="86.4" y="178.5"/><use href="#st" x="125.0" y="88.0"/><use href="#st" x="98.2" y="148.8"/><use href="#st" x="87.8" y="180.8"/><use href="#st" x="79.1" y="180.7"/><use href="#st" x="94.0" y="156.5"/><use href="#st" x="81.9" y="187.5"/><use href="#st" x="82.1" y="184.3"/><use href="#st" x="104.1" y="122.5"/><use href="#st" x="72.8" y="193.3"/><use href="#st" x="93.3" y="164.0"/><use href="#st" x="109.7" y="141.3"/><use href="#st" x="105.0" y="87.7"/><use href="#st" x="60.9" y="216.2"/><use href="#st" x="71.7" y="197.9"/><use href="#st" x="80.4" y="180.2"/><use href="#st" x="116.0" y="98.0"/><use href="#st" x="68.6" y="203.9"/><use href="#st" x="105.7" y="120.9"/><use href="#st" x="73.0" y="186.6"/><use href="#st" x="71.8" y="198.7"/><use href="#st" x="82.8" y="185.9"/><use href="#st" x="111.0" y="103.9"/><use href="#st" x="80.1" y="181.2"/><use href="#st" x="104.6" y="126.9"/><use href="#st" x="68.2" y="208.1"/><use href="#st" x="116.0" y="143.0"/><use href="#st" x="71.1" y="194.0"/><use href="#st" x="111.3" y="104.2"/><use href="#st" x="77.8" y="189.3"/><use href="#st" x="103.7" y="126.1"/><use href="#st" x="75.5" y="184.4"/><use href="#st" x="131.0" y="93.0"/><use href="#st" x="86.3" y="177.6"/><use href="#st" x="85.9" y="179.9"/><use href="#st" x="79.5" y="187.3"/><use href="#st" x="110.3" y="105.1"/><use href="#st" x="60.6" y="219.1"/><use href="#st" x="80.9" y="176.3"/><use href="#st" x="80.9" y="181.5"/><use href="#st" x="118.4" y="86.6"/><use href="#st" x="72.5" y="197.6"/><use href="#st" x="108.3" y="103.7"/><use href="#st" x="94.9" y="152.5"/><use href="#st" x="94.4" y="159.2"/><use href="#st" x="62.9" y="216.6"/><use href="#st" x="77.9" y="177.7"/><use href="#st" x="88.1" y="172.0"/><use href="#st" x="68.5" y="204.2"/><use href="#st" x="62.1" y="216.0"/><use href="#st" x="73.0" y="186.2"/><use href="#st" x="101.9" y="151.0"/><use href="#st" x="75.3" y="190.5"/><use href="#st" x="93.5" y="151.7"/><use href="#st" x="77.9" y="182.7"/><use href="#st" x="116.1" y="85.3"/><use href="#st" x="94.4" y="162.3"/><use href="#st" x="81.2" y="175.3"/><use href="#st" x="81.1" y="184.3"/><use href="#st" x="72.3" y="197.7"/><use href="#st" x="83.2" y="184.8"/><use href="#st" x="78.3" y="184.1"/><use href="#st" x="72.0" y="193.6"/><use href="#st" x="99.0" y="148.2"/><use href="#st" x="83.7" y="182.7"/><use href="#st" x="78.8" y="177.8"/><use href="#st" x="96.0" y="155.0"/><use href="#st" x="100.0" y="134.0"/><use href="#st" x="82.3" y="188.3"/><use href="#st" x="115.2" y="101.2"/><use href="#st" x="70.8" y="196.8"/><use href="#st" x="77.1" y="186.6"/><use href="#st" x="85.2" y="183.5"/><use href="#st" x="119.7" y="85.5"/><use href="#st" x="120.5" y="151.8"/><use href="#st" x="86.7" y="184.0"/><use href="#st" x="70.8" y="199.7"/><use href="#st" x="84.7" y="174.9"/><use href="#st" x="82.4" y="182.6"/><use href="#st" x="83.1" y="174.4"/><use href="#st" x="79.2" y="185.4"/><use href="#st" x="101.6" y="118.7"/><use href="#st" x="105.0" y="124.7"/><use href="#st" x="111.9" y="105.5"/><use href="#st" x="119.6" y="86.5"/><use href="#st" x="88.1" y="177.9"/><use href="#st" x="101.5" y="141.3"/><use href="#st" x="83.9" y="181.3"/><use href="#st" x="67.5" y="204.0"/><use href="#st" x="81.4" y="181.2"/><use href="#st" x="110.1" y="105.2"/><use href="#st" x="77.6" y="181.8"/><use href="#st" x="76.7" y="180.7"/><use href="#st" x="78.1" y="191.3"/><use href="#st" x="112.1" y="105.5"/><use href="#st" x="87.0" y="175.1"/><use href="#st" x="91.5" y="161.8"/><use href="#st" x="71.5" y="203.3"/><use href="#st" x="84.5" y="187.9"/><use href="#st" x="74.7" y="191.8"/><use href="#st" x="78.9" y="186.4"/><use href="#st" x="76.6" y="183.5"/><use href="#st" x="102.5" y="149.2"/><use href="#st" x="105.6" y="124.6"/><use href="#st" x="107.0" y="134.0"/><use href="#st" x="112.6" y="106.4"/><use href="#st" x="112.0" y="138.0"/><use href="#st" x="84.7" y="181.5"/><use href="#st" x="83.6" y="184.4"/><use href="#st" x="86.7" y="161.0"/><use href="#st" x="104.5" y="120.6"/><use href="#st" x="192.0" y="117.5"/><use href="#st" x="85.1" y="182.5"/><use href="#st" x="111.2" y="103.6"/><use href="#st" x="110.0" y="101.5"/><use href="#st" x="80.7" y="181.2"/><use href="#st" x="97.0" y="153.8"/><use href="#st" x="128.0" y="95.0"/><use href="#st" x="119.5" y="133.0"/><use href="#st" x="109.2" y="101.5"/><use href="#st" x="92.5" y="165.2"/><use href="#st" x="99.3" y="157.7"/><use href="#st" x="82.0" y="184.5"/><use href="#st" x="79.0" y="182.5"/><use href="#st" x="76.1" y="181.3"/><use href="#st" x="82.9" y="172.9"/><use href="#st" x="86.5" y="183.9"/><use href="#st" x="77.1" y="189.8"/><use href="#st" x="105.5" y="141.0"/><use href="#st" x="102.0" y="168.0"/><use href="#st" x="100.9" y="151.2"/><use href="#st" x="188.0" y="116.0"/><use href="#st" x="106.0" y="125.1"/><use href="#st" x="79.1" y="189.5"/><use href="#st" x="89.0" y="190.4"/><use href="#st" x="113.5" y="104.1"/><use href="#st" x="70.6" y="199.3"/><use href="#st" x="65.4" y="213.5"/><use href="#st" x="83.6" y="184.7"/><use href="#st" x="78.6" y="187.6"/><use href="#st" x="80.5" y="187.3"/><use href="#st" x="83.0" y="181.9"/><use href="#st" x="92.3" y="161.0"/><use href="#st" x="74.5" y="193.3"/><use href="#st" x="131.0" y="136.4"/><use href="#st" x="98.2" y="160.9"/><use href="#st" x="105.8" y="125.1"/><use href="#st" x="87.1" y="179.6"/><use href="#st" x="82.6" y="181.4"/><use href="#st" x="103.0" y="129.0"/><use href="#st" x="116.0" y="86.4"/><use href="#st" x="65.6" y="211.9"/><use href="#st" x="79.7" y="182.5"/><use href="#st" x="62.0" y="218.8"/><use href="#st" x="84.3" y="187.5"/><use href="#st" x="91.7" y="156.0"/><use href="#st" x="80.0" y="182.1"/><use href="#st" x="68.5" y="208.4"/><use href="#st" x="77.7" y="178.5"/><use href="#st" x="85.9" y="184.7"/><use href="#st" x="77.6" y="183.7"/><use href="#st" x="83.3" y="178.1"/><use href="#st" x="77.9" y="186.2"/><use href="#st" x="96.5" y="161.6"/><use href="#st" x="117.0" y="92.0"/><use href="#st" x="83.1" y="186.0"/><use href="#st" x="80.7" y="176.1"/><use href="#st" x="80.7" y="185.5"/></g>
<g fill="#dccbf0" stroke="#4a3a62" stroke-width="0.25" stroke-opacity="0.25"><use href="#st" x="147.0" y="93.0"/><use href="#st" x="160.0" y="86.0"/><use href="#st" x="165.0" y="100.0"/><use href="#st" x="155.0" y="100.0"/><use href="#st" x="148.0" y="98.0"/><use href="#st" x="171.0" y="95.0"/><use href="#st" x="151.0" y="89.0"/></g>
<path d="M75.2,181.6L76.0,183.6L78.1,183.7L76.4,185.1L77.0,187.2L75.2,186.0L73.4,187.2L74.0,185.1L72.3,183.7L74.4,183.6Z" fill="#90ee90"/>
<path d="M81.2,179.2L82.0,181.2L84.1,181.3L82.4,182.7L83.0,184.8L81.2,183.6L79.4,184.8L80.0,182.7L78.3,181.3L80.4,181.2Z" fill="#b5155f"/>
<path d="M80.2,184.9L81.0,186.9L83.1,187.0L81.4,188.4L82.0,190.5L80.2,189.3L78.4,190.5L79.0,188.4L77.3,187.0L79.4,186.9Z" fill="#ffff33"/>
<path d="M79.8,181.8L80.6,183.8L82.7,183.9L81.0,185.3L81.6,187.4L79.8,186.2L78.0,187.4L78.6,185.3L76.9,183.9L79.0,183.8Z" fill="#1f4fff"/>
<rect x="290" y="41.4" width="74.4" height="67.4" fill="#fff" stroke="#444" stroke-width="0.5"/>
<text x="301.4" y="47.3" font-size="6.55" fill="#111" font-family="Liberation Sans, sans-serif">Europe</text>
<circle cx="295.5" cy="45.1" r="0.95" fill="#8fd08c" stroke="#2c4a2c" stroke-width="0.5"/>
<text x="301.4" y="53.9" font-size="6.55" fill="#111" font-family="Liberation Sans, sans-serif">African</text>
<circle cx="295.5" cy="51.7" r="0.95" fill="#e0c070" stroke="#4a4020" stroke-width="0.5"/>
<text x="301.4" y="60.6" font-size="6.55" fill="#111" font-family="Liberation Sans, sans-serif">North Africa</text>
<circle cx="295.5" cy="58.4" r="0.95" fill="#a0a0a0" stroke="#333" stroke-width="0.5"/>
<text x="301.4" y="67.2" font-size="6.55" fill="#111" font-family="Liberation Sans, sans-serif">Asia</text>
<circle cx="295.5" cy="65.0" r="0.95" fill="#e89088" stroke="#5a3030" stroke-width="0.5"/>
<text x="301.4" y="73.8" font-size="6.55" fill="#111" font-family="Liberation Sans, sans-serif">Oceania</text>
<circle cx="295.5" cy="71.6" r="0.95" fill="#f0a050" stroke="#5a3a20" stroke-width="0.5"/>
<text x="301.4" y="80.5" font-size="6.55" fill="#111" font-family="Liberation Sans, sans-serif">Native Americans</text>
<path d="M295.5,75.5L296.2,77.4L298.4,77.5L296.7,78.8L297.3,80.9L295.5,79.7L293.7,80.9L294.3,78.8L292.6,77.5L294.8,77.4Z" fill="#e3d3f2" stroke="#4e3a68" stroke-width="0.45"/>
<text x="301.4" y="87.1" font-size="6.55" fill="#111" font-family="Liberation Sans, sans-serif">MXV001</text>
<path d="M295.5,82.1L296.2,84.1L298.4,84.2L296.7,85.5L297.3,87.5L295.5,86.3L293.7,87.5L294.3,85.5L292.6,84.2L294.8,84.1Z" fill="#b5155f"/>
<text x="301.4" y="93.7" font-size="6.55" fill="#111" font-family="Liberation Sans, sans-serif">JUC013</text>
<path d="M295.5,88.7L296.2,90.7L298.4,90.8L296.7,92.1L297.3,94.1L295.5,93.0L293.7,94.1L294.3,92.1L292.6,90.8L294.8,90.7Z" fill="#ffff33"/>
<text x="301.4" y="100.3" font-size="6.55" fill="#111" font-family="Liberation Sans, sans-serif">GAP009</text>
<path d="M295.5,95.3L296.2,97.3L298.4,97.4L296.7,98.7L297.3,100.8L295.5,99.6L293.7,100.8L294.3,98.7L292.6,97.4L294.8,97.3Z" fill="#90ee90"/>
<text x="301.4" y="107.0" font-size="6.55" fill="#111" font-family="Liberation Sans, sans-serif">DFU001</text>
<path d="M295.5,102.0L296.2,104.0L298.4,104.0L296.7,105.4L297.3,107.4L295.5,106.2L293.7,107.4L294.3,105.4L292.6,104.0L294.8,104.0Z" fill="#1f4fff"/></g>
<g id="pg"><defs><path id="land" d="M-42.8,-88.6L-42.4,-88.6L-41.9,-88.5L-41.5,-88.4L-41.0,-88.4L-40.3,-88.3L-39.6,-88.3L-38.8,-88.3L-38.2,-88.3L-37.5,-88.2L-35.6,-88.8L-34.4,-89.2L-33.2,-89.6L-31.9,-90.0L-30.8,-89.7L-29.7,-90.0L-28.5,-90.3L-27.5,-90.2L-26.5,-90.1L-25.7,-89.6L-24.1,-89.8L-22.5,-90.1L-21.2,-90.6L-19.3,-90.7L-17.4,-91.0L-16.1,-91.2L-14.8,-91.4L-13.6,-91.9L-13.6,-92.7L-13.6,-94.1L-11.8,-93.6L-10.9,-93.2L-9.5,-93.1L-7.9,-92.4L-7.2,-92.9L-7.3,-93.8L-5.7,-94.2L-4.7,-93.6L-4.1,-92.7L-4.6,-92.1L-6.3,-91.9L-6.6,-91.2L-6.5,-90.5L-7.4,-90.0L-8.8,-89.6L-9.9,-88.3L-10.5,-86.5L-10.1,-85.1L-8.2,-84.2L-7.6,-83.8L-5.2,-84.2L-3.1,-83.9L0.2,-83.5L2.9,-83.8L4.2,-81.8L6.1,-81.1L7.0,-80.5L7.9,-80.9L7.9,-82.0L6.7,-83.3L5.7,-84.0L6.7,-85.4L6.4,-86.8L3.8,-87.5L3.8,-88.6L1.8,-90.2L3.6,-90.5L5.3,-90.6L6.8,-90.4L8.7,-90.3L10.0,-89.7L10.8,-88.8L12.6,-88.6L13.7,-89.3L13.0,-90.6L16.2,-89.4L18.6,-88.4L21.2,-87.4L23.9,-87.1L26.0,-86.2L28.0,-85.5L28.6,-84.5L27.4,-84.0L27.1,-82.9L25.4,-82.6L23.2,-82.2L21.5,-81.8L21.0,-80.6L20.5,-78.5L19.9,-77.7L20.9,-77.9L21.6,-79.9L22.8,-80.9L24.7,-80.9L24.9,-79.9L26.0,-78.9L27.0,-78.1L28.8,-78.0L30.4,-78.0L30.6,-79.5L31.7,-78.4L30.9,-77.5L29.5,-76.5L28.5,-74.9L27.5,-75.1L27.2,-76.1L27.9,-77.1L26.5,-76.7L25.8,-76.1L24.7,-75.3L23.6,-74.3L23.6,-73.1L24.3,-72.2L25.1,-72.1L25.3,-71.9L24.0,-71.5L22.8,-70.9L21.6,-70.3L21.6,-69.7L22.0,-68.6L21.6,-67.6L20.5,-68.1L21.6,-67.0L21.5,-65.2L21.6,-64.8L23.3,-62.8L22.4,-61.8L21.1,-60.3L20.0,-59.3L19.0,-58.1L18.1,-56.7L18.3,-54.8L20.5,-52.1L22.2,-49.7L22.7,-47.4L21.7,-46.9L20.0,-48.0L17.9,-50.4L17.2,-52.1L15.3,-53.3L14.2,-53.1L13.0,-52.6L11.0,-53.3L8.9,-52.8L7.2,-52.4L7.3,-50.8L5.7,-50.5L3.6,-50.8L1.1,-50.5L-0.6,-49.7L-2.2,-48.1L-3.8,-46.4L-3.4,-43.9L-3.6,-40.7L-3.1,-38.0L-1.6,-35.4L0.3,-33.6L1.8,-32.9L3.5,-32.3L5.9,-33.1L7.8,-33.8L9.0,-35.0L9.0,-37.7L10.1,-38.5L12.6,-39.6L14.2,-39.7L14.9,-38.7L14.2,-36.9L14.4,-34.8L14.0,-33.0L13.8,-30.4L15.0,-30.3L17.4,-30.7L19.8,-31.3L22.4,-30.7L23.0,-30.2L23.3,-27.0L23.6,-24.4L24.1,-23.3L25.8,-21.7L27.7,-20.8L29.3,-20.9L30.7,-22.0L32.3,-22.4L34.1,-21.6L35.0,-21.4L35.8,-21.5L36.7,-22.9L37.0,-25.0L37.8,-26.2L39.7,-26.9L41.2,-28.7L42.5,-29.3L42.6,-27.8L43.6,-27.1L44.5,-28.1L44.5,-29.3L45.5,-28.3L47.5,-27.7L48.1,-27.0L50.2,-27.5L52.6,-27.1L53.7,-28.1L56.4,-28.8L55.6,-27.4L58.3,-27.0L58.7,-25.5L60.2,-25.1L61.7,-24.5L63.4,-23.2L65.0,-22.1L66.9,-22.2L68.7,-22.4L70.7,-21.7L72.2,-20.5L73.1,-19.1L74.9,-16.4L75.3,-14.2L77.2,-13.1L77.8,-12.5L79.5,-12.2L81.1,-11.6L82.0,-10.0L83.2,-10.4L84.7,-9.8L86.0,-10.2L87.5,-8.9L88.6,-7.3L89.7,-6.8L90.2,-6.7L90.6,-4.5L90.9,-2.8L90.9,-0.1L90.2,2.3L89.4,4.0L88.8,6.3L88.2,7.3L87.7,10.0L87.5,13.4L87.2,15.7L86.4,18.7L85.7,21.0L84.8,23.1L83.7,24.8L82.6,25.1L81.2,25.8L79.9,27.1L78.2,28.8L76.9,30.6L76.5,32.6L75.8,35.1L74.6,36.5L73.2,39.1L71.8,40.8L70.4,42.9L68.9,44.6L67.6,45.9L66.1,46.3L64.7,46.0L63.8,45.8L64.4,47.2L64.3,48.3L64.5,49.0L63.1,51.4L61.3,52.7L59.1,53.5L57.8,53.6L57.2,55.9L56.1,56.9L54.0,57.1L53.5,58.8L54.7,59.0L53.7,59.8L52.4,61.3L51.6,62.7L50.1,63.3L49.1,64.8L50.2,65.7L49.8,66.7L47.6,68.8L46.3,69.9L45.3,71.1L45.3,72.4L44.9,73.4L45.2,74.2L46.4,74.7L45.3,75.3L43.9,75.9L42.7,75.9L41.7,75.6L40.8,75.0L39.8,74.1L39.6,73.0L39.7,71.4L39.9,69.6L40.5,67.7L40.7,66.5L42.1,65.0L43.3,62.9L43.4,61.6L43.8,60.0L44.5,58.1L45.1,56.0L45.4,53.8L46.2,52.5L47.0,50.7L48.3,48.3L49.0,45.9L49.1,43.6L49.6,41.3L50.0,38.8L50.9,36.3L51.3,33.9L51.5,31.4L51.9,28.9L51.9,26.4L51.8,23.1L50.3,21.7L48.6,20.8L46.3,19.8L44.4,19.0L42.8,17.0L42.4,15.9L40.9,13.9L39.8,12.0L38.4,9.6L36.9,7.6L35.7,5.7L33.7,4.7L33.1,3.0L32.8,1.8L33.9,0.2L34.5,-0.8L34.1,-1.6L32.9,-1.9L32.7,-4.0L33.4,-5.9L33.4,-7.3L34.9,-8.6L35.1,-9.4L35.6,-10.7L36.8,-11.3L36.8,-13.2L36.2,-14.4L36.0,-16.1L35.5,-17.8L34.7,-18.9L33.9,-19.6L33.6,-20.4L33.1,-20.9L31.7,-21.5L31.1,-20.9L30.3,-20.0L30.8,-18.7L30.0,-18.0L28.6,-18.7L27.2,-19.3L26.0,-19.2L24.9,-19.6L24.6,-20.2L22.7,-20.9L22.1,-21.5L20.7,-21.8L20.6,-23.0L18.9,-24.4L16.9,-25.6L16.3,-26.2L14.7,-25.8L12.5,-26.3L10.3,-26.4L8.4,-27.1L6.0,-28.5L3.9,-29.0L1.9,-27.8L-0.6,-27.7L-3.3,-28.4L-5.9,-28.8L-8.3,-29.6L-11.2,-29.9L-13.9,-31.4L-15.1,-32.7L-14.8,-34.6L-16.2,-36.5L-18.0,-38.1L-20.6,-39.8L-22.2,-41.7L-23.9,-42.7L-25.5,-43.9L-27.1,-45.2L-28.2,-47.3L-30.1,-48.0L-30.5,-46.9L-30.0,-45.5L-28.5,-43.9L-27.2,-42.1L-25.3,-40.1L-23.8,-37.9L-21.8,-36.2L-22.8,-35.6L-25.0,-37.4L-26.4,-39.1L-27.9,-40.7L-29.9,-41.6L-29.5,-43.2L-31.5,-44.8L-32.6,-46.5L-33.8,-48.6L-35.4,-50.3L-36.9,-50.7L-38.4,-50.7L-39.2,-52.3L-39.9,-53.8L-40.4,-55.0L-41.5,-56.3L-41.6,-57.7L-42.1,-58.4L-41.5,-60.6L-41.7,-61.9L-40.7,-64.4L-40.3,-66.2L-40.3,-68.7L-40.5,-69.1L-41.7,-69.9L-42.8,-70.8L-42.9,-71.4L-41.9,-72.1L-41.9,-73.2L-42.8,-74.1L-43.0,-75.1L-43.0,-76.1L-43.3,-77.0L-43.9,-77.9L-44.5,-78.4L-45.6,-78.4L-46.1,-78.9L-46.7,-79.4L-47.7,-79.5L-48.9,-79.3L-49.5,-79.6L-50.0,-79.8L-51.3,-79.1L-52.7,-78.5L-54.4,-77.6L-53.2,-79.0L-51.6,-79.9L-53.0,-79.3L-55.1,-77.8L-56.7,-76.6L-59.0,-75.0L-61.0,-73.7L-62.9,-72.6L-64.8,-71.6L-65.8,-71.2L-64.0,-72.4L-62.6,-73.2L-60.2,-74.8L-58.2,-76.3L-58.4,-76.6L-59.4,-76.3L-60.0,-76.2L-58.7,-77.4L-59.3,-77.5L-59.0,-78.1L-57.9,-79.2L-56.4,-80.3L-55.6,-80.8L-54.5,-81.3L-53.7,-81.6L-52.8,-82.3L-53.4,-82.2L-54.1,-82.1L-54.2,-82.3L-53.5,-83.0L-52.1,-83.8L-51.2,-84.1L-51.0,-83.9L-50.0,-84.7L-49.7,-85.2L-49.3,-85.7L-48.7,-86.1L-47.9,-86.3L-46.3,-87.2L-45.3,-87.7L-44.0,-88.2ZM-7.9,-98.0L-7.7,-98.3L-7.6,-98.5L-8.3,-98.8L-8.3,-99.0L-8.4,-99.1L-8.1,-99.1L-7.9,-99.2L-7.7,-99.3L-7.5,-99.3L-7.4,-99.4L-7.4,-99.4L-7.4,-99.5L-7.4,-99.5L-7.5,-99.5L-7.6,-99.6L-7.4,-99.6L-7.3,-99.6L-7.2,-99.6L-7.0,-99.7L-6.9,-99.7L-6.4,-99.7L-5.8,-99.8L-5.2,-99.8L-4.6,-99.9L-3.7,-99.9L-2.8,-99.9L-2.7,-100.0L-2.7,-100.0L-2.6,-100.0L-1.3,-100.0L-0.1,-100.0L2.4,-99.9L5.0,-99.8L7.5,-99.6L9.3,-99.5L11.6,-99.1L14.1,-98.8L15.8,-98.5L17.2,-98.1L18.4,-97.7L18.3,-97.6L18.2,-97.4L19.6,-96.7L20.1,-96.2L20.3,-95.6L22.1,-94.8L23.7,-93.8L25.6,-92.9L25.9,-92.4L24.1,-92.6L21.8,-92.9L19.0,-93.7L16.5,-94.3L14.3,-94.9L11.9,-95.6L10.0,-96.2L9.8,-96.8L7.3,-97.0L5.8,-97.3L3.8,-97.7L1.2,-98.1L-0.7,-98.3L-2.4,-98.2L-3.0,-98.0L-3.5,-97.9L-5.0,-97.8L-6.4,-97.9ZM11.5,-91.4L8.7,-91.6L5.4,-91.8L2.9,-92.2L0.7,-91.6L-0.4,-92.2L0.9,-92.5L2.1,-92.8L1.6,-93.4L0.5,-94.4L-1.9,-94.5L-3.7,-94.8L-4.4,-94.8L-5.9,-94.4L-7.6,-94.1L-9.5,-94.0L-10.6,-94.1L-11.4,-94.8L-11.3,-95.4L-10.4,-95.6L-9.5,-95.8L-8.5,-95.9L-7.5,-96.0L-5.8,-96.1L-4.7,-96.2L-3.0,-95.9L-0.9,-95.9L1.0,-95.8L3.0,-95.3L4.5,-94.9L6.9,-94.9L8.5,-94.6L9.1,-94.0L8.7,-93.6L9.2,-92.9L10.5,-92.3ZM-19.3,-91.1L-20.9,-90.8L-22.4,-90.6L-23.6,-90.3L-24.9,-90.1L-26.2,-90.7L-25.9,-91.6L-26.6,-91.7L-25.0,-92.7L-23.5,-93.1L-22.6,-93.2L-21.6,-93.2L-20.6,-93.6L-19.1,-93.6L-18.9,-92.8L-17.5,-92.3L-16.9,-92.1L-18.1,-91.6ZM-29.5,-91.3L-28.8,-91.0L-27.4,-91.7L-25.5,-93.1L-26.2,-93.2L-27.6,-92.9L-29.0,-92.0ZM-7.9,-97.3L-8.9,-97.1L-9.7,-97.0L-10.5,-96.8L-11.3,-96.7L-12.1,-96.6L-13.4,-97.0L-13.0,-97.5L-14.0,-97.6L-15.0,-97.6L-15.0,-97.9L-14.6,-98.0L-14.2,-98.1L-13.9,-98.2L-13.5,-98.3L-13.2,-98.4L-12.8,-98.5L-12.5,-98.6L-12.2,-98.6L-11.8,-98.7L-11.4,-98.8L-11.0,-98.8L-10.6,-98.9L-10.1,-99.0L-9.0,-99.0L-8.7,-98.9L-8.6,-98.7L-8.5,-98.6L-8.5,-98.4L-8.8,-98.2L-9.1,-98.1L-8.7,-97.8ZM-7.9,-96.6L-8.9,-96.3L-9.9,-96.1L-11.0,-95.9L-12.1,-95.8L-13.1,-95.6L-14.4,-96.0L-13.6,-96.3L-13.0,-96.5L-11.8,-96.6L-10.7,-96.6L-9.6,-96.8L-8.5,-96.9ZM-13.9,-94.2L-12.9,-94.5L-12.0,-94.8L-12.1,-95.4L-13.2,-95.2L-14.3,-95.1ZM-15.9,-93.4L-14.9,-93.9L-15.7,-94.6L-17.2,-94.5L-17.9,-93.9L-17.0,-93.5ZM-20.3,-94.5L-19.4,-95.0L-20.1,-95.0L-20.9,-95.1L-21.9,-94.8L-22.9,-94.6L-24.0,-94.1L-23.0,-93.9L-22.1,-94.1L-21.2,-94.2ZM-12.5,-97.2L-13.3,-97.2L-14.1,-97.2L-14.8,-97.1L-15.5,-97.1L-15.3,-97.6L-14.5,-97.7L-13.7,-97.7ZM-1.6,-91.0L-2.5,-90.2L-4.2,-90.1L-5.8,-90.1L-5.9,-91.4L-4.4,-91.8ZM30.5,-80.4L34.2,-80.0L36.6,-80.4L36.0,-81.3L34.0,-82.4L31.9,-83.0L30.4,-83.7L29.3,-84.6L29.0,-83.8L29.6,-82.4L29.9,-81.2ZM17.3,-40.9L19.8,-43.0L22.7,-43.8L26.0,-43.4L29.4,-42.6L32.0,-41.7L34.2,-41.1L33.2,-40.4L29.5,-39.8L29.2,-40.9L27.5,-41.2L24.8,-42.1L21.6,-42.3L19.4,-41.5ZM34.9,-38.2L37.8,-38.4L40.2,-38.0L43.5,-39.4L43.3,-40.2L41.4,-40.9L40.4,-41.5L38.0,-41.3L36.1,-40.9L35.9,-40.4L37.5,-39.3ZM29.1,-37.0L32.3,-37.1L31.8,-37.7L29.5,-37.4ZM45.4,-39.4L47.4,-39.9L47.1,-40.5L45.1,-40.2ZM56.8,-27.8L58.0,-28.0L57.6,-29.2L56.6,-28.8ZM52.0,70.6L54.6,69.8L54.1,70.7L52.0,71.2ZM65.2,70.7L65.8,70.9L65.1,71.6L64.8,71.4ZM-82.7,-19.8L-81.8,-20.1L-81.9,-19.1L-82.7,-18.5ZM-83.1,-21.6L-82.5,-21.7L-82.6,-21.2ZM-84.2,-22.5L-83.8,-22.4L-84.0,-22.1ZM-85.3,-23.3L-85.0,-23.2L-85.2,-22.8ZM-71.4,70.0L-69.2,71.9L-67.1,73.7L-66.4,73.8L-64.4,75.9L-61.8,78.3L-62.9,77.4L-65.0,75.8L-66.9,74.0L-69.9,71.3ZM-63.5,77.1L-62.1,78.2L-59.7,80.2L-58.3,81.2L-56.1,82.8L-55.6,83.1L-59.8,80.2L-60.2,79.9L-61.8,78.6ZM-3.2,99.9L-3.0,99.9L-2.9,99.8L-2.7,99.8L-2.4,99.8L-2.2,99.7L-1.9,99.7L-1.6,99.6L-1.5,99.5L-1.3,99.4L-1.1,99.4L-0.9,99.3L-0.7,99.2L-0.4,99.1L-0.1,98.9L-0.1,98.8L-0.0,98.6L0.1,98.4L0.2,98.2L0.4,98.0L1.0,97.9L1.6,97.7L2.2,97.6L2.9,97.4L3.6,97.2L4.3,97.0L5.0,96.9L5.8,96.7L6.6,96.5L7.4,96.3L8.3,96.2L9.3,96.0L10.2,95.9L11.2,95.8L12.1,95.6L12.9,95.3L13.7,94.9L14.6,94.6L15.6,94.2L16.5,93.8L17.6,93.7L18.6,93.5L19.7,93.4L20.7,93.2L21.7,93.1L22.7,92.9L23.7,92.8L24.6,92.6L25.6,92.5L26.5,92.3L27.7,91.9L28.9,91.5L30.6,90.0L32.9,88.9L35.8,87.2L37.8,85.9L40.3,84.5L42.6,83.4L45.0,82.4L46.0,82.4L45.9,82.8L44.8,83.6L43.0,84.4L41.2,85.9L39.6,87.2L37.7,88.8L36.1,90.2L34.1,91.6L33.3,92.4L33.5,92.6L33.7,92.7L33.8,92.8L33.9,93.0L34.1,93.0L34.3,93.0L34.5,93.1L34.6,93.1L34.7,93.2L35.3,93.1L35.8,92.9L37.1,92.5L38.3,92.0L39.5,91.6L40.7,91.1L41.9,90.6L43.1,90.1L44.2,89.6L45.1,89.2L46.0,88.7L46.9,88.3L47.7,87.9L48.0,87.7L48.3,87.6L48.6,87.4L48.8,87.3L49.0,87.2L49.1,87.1L49.0,87.2L48.9,87.2L48.7,87.3L48.5,87.4L48.3,87.6L48.0,87.7L47.6,87.9L47.2,88.2L46.7,88.4L46.2,88.7L45.7,88.9L45.1,89.2L44.5,89.6L43.8,89.9L43.3,90.1L42.8,90.4L42.3,90.6L41.7,90.9L41.0,91.2L40.4,91.5L39.8,91.8L39.0,92.1L38.3,92.4L37.4,92.7L36.2,93.2L34.9,93.7L33.6,94.2L32.3,94.6L31.0,95.1L29.6,95.5L28.2,95.9L26.8,96.3L25.4,96.7L24.0,97.1L22.8,97.4L21.5,97.7L20.2,97.9L18.8,98.2L17.4,98.5L15.9,98.7L14.4,99.0L12.9,99.2L11.4,99.3L9.9,99.5L8.4,99.6L6.9,99.8L5.4,99.9L3.8,99.9L2.3,100.0L0.9,100.0L-0.5,100.0L-1.8,100.0L-3.2,100.0L-4.4,99.9L-5.5,99.8L-6.6,99.8L-7.6,99.7L-8.5,99.6L-9.4,99.6L-10.6,99.4L-11.8,99.3L-12.9,99.2L-14.0,99.0L-15.1,98.9L-15.8,98.8L-16.4,98.6L-17.0,98.5L-17.5,98.5L-18.0,98.4L-18.1,98.4L-18.1,98.3L-18.1,98.3L-18.0,98.4L-17.9,98.4L-17.8,98.4L-17.6,98.4L-17.4,98.5L-17.2,98.5L-16.9,98.6L-16.4,98.7L-15.8,98.7L-15.2,98.8L-14.6,98.9L-13.9,99.0L-11.3,99.4L-8.6,99.6L-6.1,99.8L-3.5,99.9L-3.5,99.9L-3.4,99.9L-3.4,99.9L-3.3,99.9L-3.2,99.9L-3.3,99.9L-3.4,99.9L-3.4,99.9L-3.5,99.9L-3.5,99.9L-3.5,99.9L-3.4,99.9L-3.4,99.9L-3.3,99.9L-3.2,99.9L-3.0,100.0L-2.9,100.0L-2.7,100.0L-2.5,100.0L-2.3,100.0L-2.0,100.0L-1.7,100.0L-1.4,100.0L-1.1,100.0L-0.8,100.0L-0.4,100.0L0.0,100.0L0.4,100.0L0.9,100.0L1.3,100.0L1.8,100.0L2.3,100.0L2.8,100.0L3.3,99.9L3.9,99.9L4.4,99.9L5.0,99.9L5.6,99.8L6.2,99.8L6.9,99.8L7.5,99.7L8.2,99.7L8.8,99.6L9.5,99.5L10.2,99.5L10.9,99.4L11.6,99.3L12.3,99.2L13.0,99.2L13.7,99.1L14.4,99.0L15.2,98.8L15.9,98.7L16.6,98.6L17.4,98.5L18.1,98.3L18.8,98.2L19.5,98.1L20.3,97.9L21.0,97.8L21.7,97.6L22.4,97.5L23.1,97.3L23.8,97.1L24.5,97.0L25.1,96.8L25.8,96.6L26.4,96.4L27.1,96.3L27.7,96.1L28.3,95.9L28.9,95.7L29.4,95.6L30.0,95.4L30.5,95.2L31.1,95.1L31.6,94.9L32.1,94.7L32.5,94.6L33.0,94.4L33.4,94.3L33.8,94.1L34.2,94.0L34.6,93.8L34.9,93.7L35.2,93.6L35.5,93.5L35.8,93.4L36.1,93.3L36.3,93.2L36.5,93.1L36.7,93.0L36.9,92.9L37.0,92.9L37.2,92.8L37.3,92.8L37.4,92.8L37.4,92.7L37.4,92.7L37.5,92.7L37.4,92.7L37.4,92.7L37.3,92.7L37.3,92.8L37.1,92.8L37.0,92.8L36.9,92.8L36.7,92.9L36.5,92.9L36.2,92.9L36.0,93.0L35.7,93.0L35.4,93.1L35.1,93.1L34.7,93.2L34.3,93.3L34.0,93.3L33.6,93.4L33.1,93.5L32.7,93.6L32.2,93.6L31.7,93.7L31.2,93.8L30.7,93.9L30.1,94.0L29.6,94.1L29.0,94.2L28.4,94.3L27.8,94.4L27.2,94.5L26.6,94.6L26.0,94.7L25.3,94.9L24.7,95.0L24.0,95.1L23.3,95.2L22.6,95.3L21.9,95.5L21.2,95.6L20.5,95.7L19.8,95.8L19.1,96.0L18.4,96.1L17.7,96.2L17.0,96.3L16.3,96.5L15.6,96.6L14.8,96.7L14.1,96.8L13.4,97.0L12.7,97.1L12.0,97.2L11.3,97.3L10.7,97.4L10.0,97.6L9.3,97.7L8.7,97.8L8.0,97.9L7.4,98.0L6.7,98.1L6.1,98.2L5.5,98.3L5.0,98.5L4.4,98.6L3.8,98.6L3.3,98.7L2.8,98.8L2.3,98.9L1.8,99.0L1.3,99.1L0.9,99.2L0.4,99.2L0.0,99.3L-0.4,99.4L-0.7,99.5L-1.1,99.5L-1.4,99.6L-1.7,99.6L-2.0,99.7L-2.3,99.7L-2.5,99.8L-2.7,99.8L-2.9,99.8L-3.0,99.9ZM78.3,-62.3L79.8,-60.2L81.2,-58.0L82.8,-55.6L85.1,-51.7L86.7,-49.2L89.1,-44.6L90.3,-41.7L91.6,-39.0L92.1,-37.9L93.1,-35.8L94.5,-32.5L95.4,-30.1L95.6,-29.2L94.5,-32.8L93.2,-36.3L91.7,-39.8L90.2,-43.2L88.5,-46.6L86.7,-49.8L84.8,-53.1L82.7,-56.2L80.5,-59.3ZM-57.7,-75.5L-56.1,-76.1L-56.9,-75.3L-58.2,-74.7ZM-45.5,-74.2L-44.6,-74.3L-44.8,-72.7L-45.7,-73.0ZM45.0,72.7L42.8,74.1L41.1,75.1L42.5,75.7L44.8,75.6L46.6,74.8L45.3,74.0ZM-67.2,-70.2L-66.5,-70.6L-67.4,-69.9ZM-68.8,-69.3L-68.2,-69.6L-68.8,-69.1ZM-71.9,-67.6L-71.5,-67.7L-72.0,-67.3ZM-73.0,-66.9L-72.7,-67.1L-73.1,-66.7Z"/><path id="grat" d="M17.4,98.5L12.3,99.2L7.1,99.7L2.0,99.9L-3.2,99.9L-8.3,99.6L-13.5,98.9L-18.5,98.1L-23.6,96.9L-28.6,95.5L-33.5,93.8L-38.3,91.9L-43.0,89.7L-47.5,87.3L-52.0,84.6L-56.3,81.7L-60.5,78.6L-64.4,75.3L-68.3,71.7L-71.9,68.0L-75.3,64.1L-78.5,59.9L-81.5,55.7L-84.3,51.3L-86.9,46.7L-89.2,42.0L-91.3,37.2L-93.1,32.3L-94.6,27.3L-95.9,22.2L-97.0,17.1L-97.8,11.9L-98.3,6.7L-98.5,1.5L-98.5,-3.7L-98.2,-9.0L-97.6,-14.2L-96.8,-19.3L-95.7,-24.4L-94.3,-29.5L-92.7,-34.4L-90.8,-39.3L-88.7,-44.1L-86.3,-48.7L-83.7,-53.2L-80.9,-57.5L-77.8,-61.7L-74.5,-65.8L-71.1,-69.6L-67.4,-73.3L-63.5,-76.7L-59.5,-80.0L-55.3,-83.0L-51.0,-85.8L-46.5,-88.4L-41.9,-90.7L-37.1,-92.8L-32.3,-94.6L-27.4,-96.2L-22.4,-97.5L-17.4,-98.5M17.4,98.5L14.4,98.9L11.4,99.0L8.3,98.8L5.2,98.4L2.2,97.7L-0.9,96.7L-4.0,95.5L-7.1,94.0L-10.2,92.3L-13.2,90.3L-16.2,88.0L-19.2,85.5L-22.1,82.8L-24.9,79.9L-27.7,76.7L-30.4,73.3L-33.0,69.7L-35.5,65.9L-37.9,62.0L-40.2,57.9L-42.4,53.6L-44.5,49.2L-46.5,44.6L-48.4,39.9L-50.1,35.1L-51.6,30.2L-53.1,25.2L-54.4,20.2L-55.5,15.1L-56.5,10.0L-57.3,4.8L-58.0,-0.4L-58.5,-5.6L-58.9,-10.7L-59.1,-15.9L-59.1,-21.0L-59.0,-26.0L-58.7,-31.0L-58.2,-35.8L-57.6,-40.6L-56.8,-45.3L-55.9,-49.8L-54.8,-54.2L-53.6,-58.5L-52.2,-62.6L-50.7,-66.5L-49.0,-70.3L-47.3,-73.8L-45.3,-77.2L-43.3,-80.3L-41.1,-83.2L-38.8,-85.9L-36.5,-88.4L-34.0,-90.6L-31.4,-92.5L-28.7,-94.3L-26.0,-95.7L-23.2,-96.9L-20.3,-97.8L-17.4,-98.5M17.4,98.5L18.2,98.2L19.1,97.6L19.8,96.8L20.5,95.7L21.2,94.3L21.8,92.7L22.3,90.9L22.8,88.7L23.2,86.4L23.6,83.8L23.9,81.0L24.1,77.9L24.3,74.6L24.3,71.2L24.4,67.5L24.3,63.7L24.2,59.6L24.0,55.4L23.8,51.1L23.5,46.6L23.1,42.0L22.7,37.3L22.2,32.5L21.6,27.6L21.0,22.6L20.3,17.5L19.6,12.4L18.8,7.3L18.0,2.1L17.1,-3.0L16.2,-8.2L15.2,-13.3L14.2,-18.4L13.1,-23.4L12.0,-28.4L10.9,-33.3L9.7,-38.1L8.6,-42.8L7.4,-47.4L6.1,-51.9L4.9,-56.2L3.6,-60.3L2.4,-64.3L1.1,-68.1L-0.2,-71.8L-1.5,-75.2L-2.7,-78.4L-4.0,-81.4L-5.2,-84.2L-6.5,-86.8L-7.7,-89.1L-8.9,-91.2L-10.1,-93.0L-11.2,-94.6L-12.3,-95.9L-13.4,-97.0L-14.5,-97.7L-15.5,-98.3L-16.4,-98.5L-17.4,-98.5M17.4,98.5L21.6,97.6L25.7,96.5L29.8,95.0L33.8,93.4L37.7,91.4L41.4,89.3L45.1,86.8L48.7,84.2L52.1,81.3L55.4,78.2L58.5,74.8L61.5,71.3L64.3,67.6L66.9,63.7L69.3,59.6L71.6,55.3L73.6,50.9L75.5,46.4L77.1,41.7L78.5,36.9L79.8,32.0L80.8,27.1L81.5,22.0L82.1,16.9L82.4,11.7L82.5,6.6L82.4,1.4L82.0,-3.9L81.5,-9.1L80.7,-14.2L79.7,-19.4L78.4,-24.4L77.0,-29.5L75.3,-34.4L73.4,-39.2L71.4,-44.0L69.1,-48.6L66.6,-53.1L64.0,-57.4L61.2,-61.6L58.2,-65.6L55.1,-69.4L51.8,-73.0L48.3,-76.5L44.8,-79.7L41.1,-82.7L37.3,-85.5L33.4,-88.0L29.4,-90.3L25.3,-92.4L21.2,-94.2L16.9,-95.8L12.7,-97.0L8.4,-98.1L4.1,-98.8L-0.2,-99.3L-4.5,-99.5L-8.8,-99.4L-13.1,-99.1L-17.4,-98.5M-34.2,94.0L-34.1,94.0L-33.9,93.9L-33.6,93.9L-33.1,93.8L-32.5,93.7L-31.8,93.5L-30.9,93.4L-29.9,93.2L-28.8,93.0L-27.6,92.8L-26.3,92.6L-24.8,92.3L-23.2,92.0L-21.6,91.7L-19.8,91.4L-17.9,91.1L-15.9,90.8L-13.9,90.4L-11.8,90.0L-9.6,89.6L-7.3,89.2L-5.0,88.8L-2.6,88.4L-0.2,88.0L2.3,87.5L4.8,87.1L7.3,86.6L9.9,86.2L12.5,85.7L15.0,85.3L17.6,84.8L20.2,84.4L22.7,83.9L25.3,83.5L27.8,83.0L30.3,82.6L32.7,82.2L35.1,81.8L37.4,81.3L39.7,80.9L41.9,80.6L44.0,80.2L46.0,79.8L48.0,79.5L49.9,79.1L51.6,78.8L53.3,78.5L54.9,78.3L56.3,78.0L57.7,77.8L58.9,77.6L60.0,77.4L61.0,77.2L61.9,77.0L62.6,76.9L63.2,76.8L63.7,76.7L64.0,76.7L64.2,76.6L64.3,76.6M-76.6,64.3L-76.5,64.3L-76.1,64.2L-75.6,64.1L-74.7,64.0L-73.7,63.8L-72.4,63.5L-70.9,63.3L-69.2,63.0L-67.3,62.6L-65.2,62.3L-62.8,61.9L-60.3,61.4L-57.6,60.9L-54.7,60.4L-51.6,59.9L-48.4,59.3L-45.0,58.7L-41.4,58.1L-37.8,57.4L-34.0,56.8L-30.0,56.1L-26.0,55.4L-21.9,54.6L-17.7,53.9L-13.4,53.1L-9.0,52.4L-4.7,51.6L-0.2,50.8L4.2,50.0L8.7,49.2L13.1,48.5L17.6,47.7L22.0,46.9L26.4,46.1L30.8,45.3L35.0,44.6L39.2,43.9L43.4,43.1L47.4,42.4L51.3,41.7L55.1,41.0L58.8,40.4L62.4,39.8L65.8,39.2L69.0,38.6L72.1,38.1L75.0,37.6L77.7,37.1L80.2,36.6L82.5,36.2L84.7,35.8L86.6,35.5L88.3,35.2L89.8,34.9L91.1,34.7L92.1,34.5L92.9,34.4L93.5,34.3L93.9,34.2L94.0,34.2M-98.5,17.4L-98.3,17.3L-97.9,17.3L-97.3,17.2L-96.3,17.0L-95.1,16.8L-93.7,16.5L-91.9,16.2L-90.0,15.9L-87.7,15.5L-85.3,15.0L-82.6,14.6L-79.7,14.0L-76.5,13.5L-73.2,12.9L-69.6,12.3L-65.9,11.6L-62.0,10.9L-57.9,10.2L-53.6,9.5L-49.2,8.7L-44.7,7.9L-40.1,7.1L-35.3,6.2L-30.4,5.4L-25.5,4.5L-20.5,3.6L-15.4,2.7L-10.3,1.8L-5.2,0.9L0.0,-0.0L5.2,-0.9L10.3,-1.8L15.4,-2.7L20.5,-3.6L25.5,-4.5L30.4,-5.4L35.3,-6.2L40.1,-7.1L44.7,-7.9L49.2,-8.7L53.6,-9.5L57.9,-10.2L62.0,-10.9L65.9,-11.6L69.6,-12.3L73.2,-12.9L76.5,-13.5L79.7,-14.0L82.6,-14.6L85.3,-15.0L87.7,-15.5L90.0,-15.9L91.9,-16.2L93.7,-16.5L95.1,-16.8L96.3,-17.0L97.3,-17.2L97.9,-17.3L98.3,-17.3L98.5,-17.4M-94.0,-34.2L-93.9,-34.2L-93.5,-34.3L-92.9,-34.4L-92.1,-34.5L-91.1,-34.7L-89.8,-34.9L-88.3,-35.2L-86.6,-35.5L-84.7,-35.8L-82.5,-36.2L-80.2,-36.6L-77.7,-37.1L-75.0,-37.6L-72.1,-38.1L-69.0,-38.6L-65.8,-39.2L-62.4,-39.8L-58.8,-40.4L-55.1,-41.0L-51.3,-41.7L-47.4,-42.4L-43.4,-43.1L-39.2,-43.9L-35.0,-44.6L-30.8,-45.3L-26.4,-46.1L-22.0,-46.9L-17.6,-47.7L-13.1,-48.5L-8.7,-49.2L-4.2,-50.0L0.2,-50.8L4.7,-51.6L9.0,-52.4L13.4,-53.1L17.7,-53.9L21.9,-54.6L26.0,-55.4L30.0,-56.1L34.0,-56.8L37.8,-57.4L41.4,-58.1L45.0,-58.7L48.4,-59.3L51.6,-59.9L54.7,-60.4L57.6,-60.9L60.3,-61.4L62.8,-61.9L65.2,-62.3L67.3,-62.6L69.2,-63.0L70.9,-63.3L72.4,-63.5L73.7,-63.8L74.7,-64.0L75.6,-64.1L76.1,-64.2L76.5,-64.3L76.6,-64.3M-64.3,-76.6L-64.2,-76.6L-64.0,-76.7L-63.7,-76.7L-63.2,-76.8L-62.6,-76.9L-61.9,-77.0L-61.0,-77.2L-60.0,-77.4L-58.9,-77.6L-57.7,-77.8L-56.3,-78.0L-54.9,-78.3L-53.3,-78.5L-51.6,-78.8L-49.9,-79.1L-48.0,-79.5L-46.0,-79.8L-44.0,-80.2L-41.9,-80.6L-39.7,-80.9L-37.4,-81.3L-35.1,-81.8L-32.7,-82.2L-30.3,-82.6L-27.8,-83.0L-25.3,-83.5L-22.7,-83.9L-20.2,-84.4L-17.6,-84.8L-15.0,-85.3L-12.5,-85.7L-9.9,-86.2L-7.3,-86.6L-4.8,-87.1L-2.3,-87.5L0.2,-88.0L2.6,-88.4L5.0,-88.8L7.3,-89.2L9.6,-89.6L11.8,-90.0L13.9,-90.4L15.9,-90.8L17.9,-91.1L19.8,-91.4L21.6,-91.7L23.2,-92.0L24.8,-92.3L26.3,-92.6L27.6,-92.8L28.8,-93.0L29.9,-93.2L30.9,-93.4L31.8,-93.5L32.5,-93.7L33.1,-93.8L33.6,-93.9L33.9,-93.9L34.1,-94.0L34.2,-94.0"/>
<linearGradient id="inf" x1="0" y1="1" x2="0" y2="0">
<stop offset="0" stop-color="#000004"/>
<stop offset="0.1" stop-color="#160b39"/>
<stop offset="0.2" stop-color="#420a68"/>
<stop offset="0.3" stop-color="#6a176e"/>
<stop offset="0.4" stop-color="#932667"/>
<stop offset="0.5" stop-color="#bc3754"/>
<stop offset="0.6" stop-color="#dd513a"/>
<stop offset="0.7" stop-color="#f37819"/>
<stop offset="0.8" stop-color="#fca50a"/>
<stop offset="0.9" stop-color="#f6d746"/>
<stop offset="1" stop-color="#fcffa4"/>
</linearGradient></defs>
<clipPath id="cpd"><rect x="396.0" y="12.1" width="110.60" height="108.90"/></clipPath>
<rect x="396.0" y="12.1" width="110.60" height="108.90" fill="#ebebeb"/>
<g clip-path="url(#cpd)"><g transform="translate(451.30,67.40) scale(0.5530)">
<use href="#grat" fill="none" stroke="#fff" stroke-width="0.90"/>
<use href="#land" fill="#333" stroke="#333" stroke-width="0.55" stroke-linejoin="round"/>
</g>
<circle cx="418.8" cy="22.2" r="1.15" fill="#a32a62"/>
<circle cx="422.0" cy="22.6" r="1.15" fill="#ef6c23"/>
<circle cx="424.5" cy="21.6" r="1.15" fill="#a32a62"/>
<circle cx="421.6" cy="23.9" r="1.15" fill="#c43c4e"/>
<circle cx="427.4" cy="25.8" r="1.15" fill="#c43c4e"/>
<circle cx="430.8" cy="26.8" r="1.15" fill="#ef6c23"/>
<circle cx="432.0" cy="29.9" r="1.15" fill="#f98e09"/>
<circle cx="437.1" cy="29.3" r="1.15" fill="#f98e09"/>
<circle cx="431.7" cy="34.8" r="1.15" fill="#f98e09"/>
<circle cx="428.9" cy="36.7" r="1.15" fill="#f98e09"/>
<circle cx="430.2" cy="38.4" r="1.15" fill="#fca50a"/>
<circle cx="430.5" cy="40.0" r="1.15" fill="#f98e09"/>
<circle cx="434.0" cy="42.8" r="1.15" fill="#ef6c23"/>
<circle cx="439.9" cy="42.1" r="1.15" fill="#f98e09"/>
<circle cx="446.6" cy="45.7" r="1.15" fill="#f98e09"/>
<circle cx="451.0" cy="51.0" r="1.15" fill="#f98e09"/>
<circle cx="452.2" cy="50.6" r="1.15" fill="#f6d746"/>
<circle cx="456.0" cy="47.8" r="1.15" fill="#f98e09"/>
<circle cx="456.3" cy="13.8" r="1.15" fill="#54106e"/>
<circle cx="466.0" cy="40.3" r="1.15" fill="#fbba1f"/>
<circle cx="463.2" cy="43.2" r="1.15" fill="#f6d746"/>
<circle cx="467.0" cy="43.6" r="1.15" fill="#f6d746"/>
<circle cx="468.7" cy="42.2" r="1.15" fill="#f6d746"/>
<circle cx="467.6" cy="45.1" r="1.15" fill="#f4ea7a"/>
<circle cx="472.0" cy="44.9" r="1.15" fill="#fbba1f"/>
<circle cx="474.0" cy="45.1" r="1.15" fill="#f6d746"/>
<circle cx="476.7" cy="45.4" r="1.15" fill="#fbba1f"/>
<circle cx="481.1" cy="46.1" r="1.15" fill="#f98e09"/>
<circle cx="482.1" cy="48.0" r="1.15" fill="#f6d746"/>
<circle cx="476.5" cy="50.8" r="1.15" fill="#f6d746"/>
<circle cx="476.5" cy="52.9" r="1.15" fill="#fca50a"/>
<circle cx="479.6" cy="59.4" r="1.15" fill="#f6d746"/>
<circle cx="471.7" cy="71.6" r="1.15" fill="#f6d746"/>
<circle cx="473.3" cy="73.5" r="1.15" fill="#f6d746"/>
<circle cx="474.0" cy="74.7" r="1.15" fill="#fbba1f"/>
<circle cx="475.2" cy="76.6" r="1.15" fill="#e25734"/>
<circle cx="478.0" cy="76.0" r="1.15" fill="#fca50a"/>
<circle cx="480.9" cy="77.9" r="1.15" fill="#fca50a"/>
<circle cx="482.0" cy="78.5" r="1.15" fill="#f6d746"/>
<circle cx="485.3" cy="71.0" r="1.15" fill="#fbba1f"/>
<circle cx="486.2" cy="72.0" r="1.15" fill="#fca50a"/>
<circle cx="496.9" cy="77.9" r="1.15" fill="#f98e09"/>
<circle cx="499.8" cy="74.1" r="1.15" fill="#000004"/>
<circle cx="494.7" cy="82.8" r="1.15" fill="#f98e09"/>
<circle cx="480.0" cy="82.3" r="1.15" fill="#f6d746"/>
<circle cx="478.7" cy="92.6" r="1.15" fill="#f6d746"/>
<circle cx="483.8" cy="94.5" r="1.15" fill="#fca50a"/>
<circle cx="484.7" cy="96.4" r="1.15" fill="#f6d746"/>
<circle cx="477.5" cy="105.3" r="1.15" fill="#fca50a"/>
<circle cx="473.3" cy="106.5" r="1.15" fill="#fca50a"/>
<circle cx="474.0" cy="108.6" r="1.15" fill="#fca50a"/>
<circle cx="475.8" cy="108.6" r="1.15" fill="#fca50a"/>
</g>
<text x="387.0" y="7.6" font-size="10.5" font-weight="bold" fill="#000" font-family="Liberation Sans, sans-serif">d</text>
<text x="396.0" y="8.9" font-size="6.4" fill="#111" font-family="Liberation Sans, sans-serif">DFU001</text>
<rect x="511.8" y="55.4" width="6.5" height="29.5" fill="url(#inf)"/>
<path d="M511.8,56.9h1.3M518.3,56.9h-1.3M511.8,62.9h1.3M518.3,62.9h-1.3M511.8,68.8h1.3M518.3,68.8h-1.3M511.8,74.8h1.3M518.3,74.8h-1.3M511.8,80.7h1.3M518.3,80.7h-1.3" stroke="#fff" stroke-width="0.35" fill="none"/>
<text x="519.9" y="59.1" font-size="6.5" fill="#111" font-family="Liberation Sans, sans-serif">0.080</text>
<text x="519.9" y="65.0" font-size="6.5" fill="#111" font-family="Liberation Sans, sans-serif">0.075</text>
<text x="519.9" y="71.0" font-size="6.5" fill="#111" font-family="Liberation Sans, sans-serif">0.070</text>
<text x="519.9" y="77.0" font-size="6.5" fill="#111" font-family="Liberation Sans, sans-serif">0.065</text>
<text x="519.9" y="82.9" font-size="6.5" fill="#111" font-family="Liberation Sans, sans-serif">0.060</text>
<text x="514" y="49" font-size="7" font-style="italic" fill="#111" font-family="Liberation Sans, sans-serif">F<tspan font-size="4.6" dy="1.6" font-style="normal">3</tspan></text>
<clipPath id="cpe"><rect x="546.1" y="11.7" width="112.70" height="110.00"/></clipPath>
<rect x="546.1" y="11.7" width="112.70" height="110.00" fill="#ebebeb"/>
<g clip-path="url(#cpe)"><g transform="translate(602.45,68.05) scale(0.5635)">
<use href="#grat" fill="none" stroke="#fff" stroke-width="0.89"/>
<use href="#land" fill="#333" stroke="#333" stroke-width="0.55" stroke-linejoin="round"/>
</g>
<circle cx="562.8" cy="28.9" r="1.15" fill="#c43c4e"/>
<circle cx="569.5" cy="22.0" r="1.15" fill="#c43c4e"/>
<circle cx="572.6" cy="21.6" r="1.15" fill="#a32a62"/>
<circle cx="575.1" cy="21.1" r="1.15" fill="#c43c4e"/>
<circle cx="572.6" cy="23.2" r="1.15" fill="#c43c4e"/>
<circle cx="577.6" cy="25.8" r="1.15" fill="#c43c4e"/>
<circle cx="581.7" cy="26.8" r="1.15" fill="#e25734"/>
<circle cx="582.7" cy="29.9" r="1.15" fill="#e25734"/>
<circle cx="588.0" cy="29.2" r="1.15" fill="#f98e09"/>
<circle cx="582.4" cy="34.6" r="1.15" fill="#f98e09"/>
<circle cx="590.3" cy="36.2" r="1.15" fill="#f98e09"/>
<circle cx="580.0" cy="37.1" r="1.15" fill="#f98e09"/>
<circle cx="580.8" cy="39.6" r="1.15" fill="#f98e09"/>
<circle cx="581.5" cy="41.0" r="1.15" fill="#f98e09"/>
<circle cx="585.2" cy="43.0" r="1.15" fill="#f4ea7a"/>
<circle cx="590.9" cy="42.5" r="1.15" fill="#f98e09"/>
<circle cx="591.8" cy="43.8" r="1.15" fill="#e25734"/>
<circle cx="587.7" cy="45.9" r="1.15" fill="#f98e09"/>
<circle cx="597.2" cy="45.7" r="1.15" fill="#f98e09"/>
<circle cx="600.0" cy="49.0" r="1.15" fill="#f98e09"/>
<circle cx="602.2" cy="51.3" r="1.15" fill="#f98e09"/>
<circle cx="603.4" cy="50.9" r="1.15" fill="#f98e09"/>
<circle cx="607.3" cy="48.0" r="1.15" fill="#f98e09"/>
<circle cx="609.5" cy="50.6" r="1.15" fill="#f98e09"/>
<circle cx="609.2" cy="26.0" r="1.15" fill="#e25734"/>
<circle cx="615.5" cy="23.0" r="1.15" fill="#c43c4e"/>
<circle cx="607.3" cy="13.5" r="1.15" fill="#54106e"/>
<circle cx="617.4" cy="40.1" r="1.15" fill="#f98e09"/>
<circle cx="613.9" cy="43.2" r="1.15" fill="#f98e09"/>
<circle cx="615.8" cy="42.6" r="1.15" fill="#f98e09"/>
<circle cx="618.7" cy="44.5" r="1.15" fill="#fca50a"/>
<circle cx="620.2" cy="42.0" r="1.15" fill="#f98e09"/>
<circle cx="624.0" cy="44.9" r="1.15" fill="#f98e09"/>
<circle cx="625.8" cy="45.8" r="1.15" fill="#f98e09"/>
<circle cx="628.4" cy="45.1" r="1.15" fill="#f98e09"/>
<circle cx="633.0" cy="46.1" r="1.15" fill="#f98e09"/>
<circle cx="633.8" cy="48.0" r="1.15" fill="#fca50a"/>
<circle cx="628.0" cy="50.8" r="1.15" fill="#fca50a"/>
<circle cx="628.0" cy="53.1" r="1.15" fill="#f98e09"/>
<circle cx="631.1" cy="59.9" r="1.15" fill="#f98e09"/>
<circle cx="623.3" cy="70.3" r="1.15" fill="#f98e09"/>
<circle cx="624.0" cy="72.2" r="1.15" fill="#f98e09"/>
<circle cx="625.2" cy="74.1" r="1.15" fill="#f98e09"/>
<circle cx="626.7" cy="77.3" r="1.15" fill="#f98e09"/>
<circle cx="629.6" cy="76.4" r="1.15" fill="#f98e09"/>
<circle cx="632.1" cy="78.5" r="1.15" fill="#c43c4e"/>
<circle cx="633.4" cy="79.4" r="1.15" fill="#c43c4e"/>
<circle cx="637.2" cy="71.9" r="1.15" fill="#f98e09"/>
<circle cx="638.1" cy="72.8" r="1.15" fill="#f98e09"/>
<circle cx="650.0" cy="67.8" r="1.15" fill="#f98e09"/>
<circle cx="651.7" cy="74.7" r="1.15" fill="#54106e"/>
<circle cx="648.9" cy="78.6" r="1.15" fill="#f98e09"/>
<circle cx="631.8" cy="83.2" r="1.15" fill="#f98e09"/>
<circle cx="646.4" cy="83.6" r="1.15" fill="#f98e09"/>
<circle cx="644.7" cy="87.6" r="1.15" fill="#f98e09"/>
<circle cx="630.3" cy="93.3" r="1.15" fill="#f98e09"/>
<circle cx="635.3" cy="95.8" r="1.15" fill="#f6d746"/>
<circle cx="636.3" cy="97.4" r="1.15" fill="#f98e09"/>
<circle cx="629.0" cy="106.3" r="1.15" fill="#f98e09"/>
<circle cx="624.8" cy="108.0" r="1.15" fill="#f6d746"/>
<circle cx="627.1" cy="110.0" r="1.15" fill="#f6d746"/>
<circle cx="624.6" cy="109.7" r="1.15" fill="#e25734"/>
</g>
<text x="535.9" y="7.6" font-size="10.5" font-weight="bold" fill="#000" font-family="Liberation Sans, sans-serif">e</text>
<text x="546.1" y="8.9" font-size="6.4" fill="#111" font-family="Liberation Sans, sans-serif">GAP009</text>
<rect x="664.1" y="55.6" width="6.8" height="30.6" fill="url(#inf)"/>
<path d="M664.1,56.2h1.3M670.9,56.2h-1.3M664.1,63.7h1.3M670.9,63.7h-1.3M664.1,71.3h1.3M670.9,71.3h-1.3M664.1,78.9h1.3M670.9,78.9h-1.3" stroke="#fff" stroke-width="0.35" fill="none"/>
<text x="672.5" y="58.4" font-size="6.5" fill="#111" font-family="Liberation Sans, sans-serif">0.40</text>
<text x="672.5" y="65.9" font-size="6.5" fill="#111" font-family="Liberation Sans, sans-serif">0.35</text>
<text x="672.5" y="73.5" font-size="6.5" fill="#111" font-family="Liberation Sans, sans-serif">0.30</text>
<text x="672.5" y="81.1" font-size="6.5" fill="#111" font-family="Liberation Sans, sans-serif">0.25</text>
<text x="665" y="48" font-size="7" font-style="italic" fill="#111" font-family="Liberation Sans, sans-serif">F<tspan font-size="4.6" dy="1.6" font-style="normal">3</tspan></text>
<clipPath id="cpf"><rect x="395.8" y="135.35" width="112.30" height="110.25"/></clipPath>
<rect x="395.8" y="135.35" width="112.30" height="110.25" fill="#ebebeb"/>
<g clip-path="url(#cpf)"><g transform="translate(451.95,191.50) scale(0.5615)">
<use href="#grat" fill="none" stroke="#fff" stroke-width="0.89"/>
<use href="#land" fill="#333" stroke="#333" stroke-width="0.55" stroke-linejoin="round"/>
</g>
<circle cx="412.4" cy="152.5" r="1.15" fill="#c43c4e"/>
<circle cx="419.1" cy="145.6" r="1.15" fill="#c43c4e"/>
<circle cx="422.2" cy="145.2" r="1.15" fill="#a32a62"/>
<circle cx="424.7" cy="144.7" r="1.15" fill="#a32a62"/>
<circle cx="422.2" cy="146.8" r="1.15" fill="#c43c4e"/>
<circle cx="427.2" cy="149.4" r="1.15" fill="#e25734"/>
<circle cx="431.3" cy="150.4" r="1.15" fill="#ef6c23"/>
<circle cx="432.3" cy="153.5" r="1.15" fill="#ef6c23"/>
<circle cx="437.6" cy="152.8" r="1.15" fill="#fca50a"/>
<circle cx="432.0" cy="158.2" r="1.15" fill="#fca50a"/>
<circle cx="439.8" cy="159.8" r="1.15" fill="#fca50a"/>
<circle cx="429.6" cy="160.7" r="1.15" fill="#fbba1f"/>
<circle cx="430.4" cy="163.2" r="1.15" fill="#fbba1f"/>
<circle cx="431.1" cy="164.5" r="1.15" fill="#fbba1f"/>
<circle cx="434.8" cy="166.5" r="1.15" fill="#f98e09"/>
<circle cx="440.4" cy="166.0" r="1.15" fill="#f98e09"/>
<circle cx="441.3" cy="167.3" r="1.15" fill="#e25734"/>
<circle cx="437.3" cy="169.4" r="1.15" fill="#f98e09"/>
<circle cx="446.7" cy="169.2" r="1.15" fill="#fca50a"/>
<circle cx="449.5" cy="172.5" r="1.15" fill="#fca50a"/>
<circle cx="451.7" cy="174.8" r="1.15" fill="#fca50a"/>
<circle cx="452.9" cy="174.4" r="1.15" fill="#fca50a"/>
<circle cx="456.8" cy="171.5" r="1.15" fill="#fca50a"/>
<circle cx="459.0" cy="174.1" r="1.15" fill="#fca50a"/>
<circle cx="458.7" cy="149.6" r="1.15" fill="#2b0b57"/>
<circle cx="465.0" cy="146.6" r="1.15" fill="#e25734"/>
<circle cx="456.8" cy="137.1" r="1.15" fill="#54106e"/>
<circle cx="466.8" cy="163.6" r="1.15" fill="#fbba1f"/>
<circle cx="463.4" cy="166.7" r="1.15" fill="#f6d746"/>
<circle cx="465.3" cy="166.1" r="1.15" fill="#f6d746"/>
<circle cx="468.1" cy="168.0" r="1.15" fill="#f4ea7a"/>
<circle cx="469.6" cy="165.5" r="1.15" fill="#f6d746"/>
<circle cx="473.4" cy="168.4" r="1.15" fill="#fbba1f"/>
<circle cx="475.2" cy="169.3" r="1.15" fill="#f6d746"/>
<circle cx="477.8" cy="168.6" r="1.15" fill="#fbba1f"/>
<circle cx="482.4" cy="169.6" r="1.15" fill="#fbba1f"/>
<circle cx="483.2" cy="171.5" r="1.15" fill="#f6d746"/>
<circle cx="477.4" cy="174.3" r="1.15" fill="#f6d746"/>
<circle cx="477.4" cy="176.6" r="1.15" fill="#fbba1f"/>
<circle cx="480.5" cy="183.4" r="1.15" fill="#fbba1f"/>
<circle cx="472.7" cy="193.7" r="1.15" fill="#f6d746"/>
<circle cx="473.4" cy="195.6" r="1.15" fill="#fbba1f"/>
<circle cx="474.6" cy="197.5" r="1.15" fill="#fbba1f"/>
<circle cx="476.1" cy="200.7" r="1.15" fill="#e25734"/>
<circle cx="479.0" cy="199.8" r="1.15" fill="#fca50a"/>
<circle cx="481.5" cy="201.9" r="1.15" fill="#fca50a"/>
<circle cx="482.8" cy="202.8" r="1.15" fill="#f6d746"/>
<circle cx="486.6" cy="195.3" r="1.15" fill="#fbba1f"/>
<circle cx="487.5" cy="196.2" r="1.15" fill="#fbba1f"/>
<circle cx="499.3" cy="191.3" r="1.15" fill="#fca50a"/>
<circle cx="501.0" cy="198.1" r="1.15" fill="#000004"/>
<circle cx="498.2" cy="202.0" r="1.15" fill="#f98e09"/>
<circle cx="481.2" cy="206.6" r="1.15" fill="#f6d746"/>
<circle cx="495.7" cy="207.0" r="1.15" fill="#f98e09"/>
<circle cx="494.1" cy="211.0" r="1.15" fill="#fca50a"/>
<circle cx="479.7" cy="216.7" r="1.15" fill="#f6d746"/>
<circle cx="484.7" cy="219.2" r="1.15" fill="#fca50a"/>
<circle cx="485.7" cy="220.7" r="1.15" fill="#f6d746"/>
<circle cx="478.4" cy="229.6" r="1.15" fill="#fca50a"/>
<circle cx="474.2" cy="231.3" r="1.15" fill="#fca50a"/>
<circle cx="476.5" cy="233.3" r="1.15" fill="#fca50a"/>
<circle cx="474.0" cy="233.0" r="1.15" fill="#fca50a"/>
</g>
<text x="386.6" y="130.6" font-size="10.5" font-weight="bold" fill="#000" font-family="Liberation Sans, sans-serif">f</text>
<text x="395.8" y="132.4" font-size="6.4" fill="#111" font-family="Liberation Sans, sans-serif">JUC013</text>
<rect x="513.2" y="178.2" width="6.5" height="30.1" fill="url(#inf)"/>
<path d="M513.2,178.9h1.3M519.7,178.9h-1.3M513.2,184.5h1.3M519.7,184.5h-1.3M513.2,190.1h1.3M519.7,190.1h-1.3M513.2,195.7h1.3M519.7,195.7h-1.3M513.2,201.3h1.3M519.7,201.3h-1.3M513.2,206.9h1.3M519.7,206.9h-1.3" stroke="#fff" stroke-width="0.35" fill="none"/>
<text x="521.3" y="181.1" font-size="6.5" fill="#111" font-family="Liberation Sans, sans-serif">0.36</text>
<text x="521.3" y="186.7" font-size="6.5" fill="#111" font-family="Liberation Sans, sans-serif">0.34</text>
<text x="521.3" y="192.3" font-size="6.5" fill="#111" font-family="Liberation Sans, sans-serif">0.32</text>
<text x="521.3" y="197.9" font-size="6.5" fill="#111" font-family="Liberation Sans, sans-serif">0.30</text>
<text x="521.3" y="203.5" font-size="6.5" fill="#111" font-family="Liberation Sans, sans-serif">0.28</text>
<text x="521.3" y="209.1" font-size="6.5" fill="#111" font-family="Liberation Sans, sans-serif">0.26</text>
<text x="514" y="171.5" font-size="7" font-style="italic" fill="#111" font-family="Liberation Sans, sans-serif">F<tspan font-size="4.6" dy="1.6" font-style="normal">3</tspan></text>
<clipPath id="cpg"><rect x="546.1" y="136.0" width="112.70" height="109.60"/></clipPath>
<rect x="546.1" y="136.0" width="112.70" height="109.60" fill="#ebebeb"/>
<g clip-path="url(#cpg)"><g transform="translate(602.45,192.35) scale(0.5635)">
<use href="#grat" fill="none" stroke="#fff" stroke-width="0.89"/>
<use href="#land" fill="#333" stroke="#333" stroke-width="0.55" stroke-linejoin="round"/>
</g>
<circle cx="562.8" cy="153.2" r="1.15" fill="#a32a62"/>
<circle cx="569.5" cy="146.3" r="1.15" fill="#a32a62"/>
<circle cx="572.6" cy="145.9" r="1.15" fill="#54106e"/>
<circle cx="575.1" cy="145.4" r="1.15" fill="#a32a62"/>
<circle cx="572.6" cy="147.5" r="1.15" fill="#c43c4e"/>
<circle cx="577.6" cy="150.1" r="1.15" fill="#c43c4e"/>
<circle cx="581.7" cy="151.1" r="1.15" fill="#e25734"/>
<circle cx="582.7" cy="154.2" r="1.15" fill="#e25734"/>
<circle cx="588.0" cy="153.5" r="1.15" fill="#f98e09"/>
<circle cx="582.4" cy="158.9" r="1.15" fill="#fca50a"/>
<circle cx="590.3" cy="160.5" r="1.15" fill="#ef6c23"/>
<circle cx="580.0" cy="161.4" r="1.15" fill="#fca50a"/>
<circle cx="580.8" cy="163.9" r="1.15" fill="#fca50a"/>
<circle cx="581.5" cy="165.3" r="1.15" fill="#fca50a"/>
<circle cx="585.2" cy="167.3" r="1.15" fill="#ef6c23"/>
<circle cx="590.9" cy="166.8" r="1.15" fill="#fca50a"/>
<circle cx="591.8" cy="168.1" r="1.15" fill="#f4ea7a"/>
<circle cx="587.7" cy="170.2" r="1.15" fill="#f98e09"/>
<circle cx="597.2" cy="170.0" r="1.15" fill="#fca50a"/>
<circle cx="600.0" cy="173.3" r="1.15" fill="#fca50a"/>
<circle cx="602.2" cy="175.6" r="1.15" fill="#fca50a"/>
<circle cx="603.4" cy="175.2" r="1.15" fill="#fca50a"/>
<circle cx="607.3" cy="172.3" r="1.15" fill="#fca50a"/>
<circle cx="609.5" cy="174.9" r="1.15" fill="#fca50a"/>
<circle cx="609.2" cy="150.3" r="1.15" fill="#2b0b57"/>
<circle cx="615.5" cy="147.3" r="1.15" fill="#e25734"/>
<circle cx="607.3" cy="137.8" r="1.15" fill="#54106e"/>
<circle cx="617.4" cy="164.4" r="1.15" fill="#fca50a"/>
<circle cx="613.9" cy="167.5" r="1.15" fill="#fca50a"/>
<circle cx="615.8" cy="166.9" r="1.15" fill="#fca50a"/>
<circle cx="618.7" cy="168.8" r="1.15" fill="#fbba1f"/>
<circle cx="620.2" cy="166.3" r="1.15" fill="#fca50a"/>
<circle cx="624.0" cy="169.2" r="1.15" fill="#fca50a"/>
<circle cx="625.8" cy="170.1" r="1.15" fill="#fca50a"/>
<circle cx="628.4" cy="169.4" r="1.15" fill="#fca50a"/>
<circle cx="633.0" cy="170.4" r="1.15" fill="#f98e09"/>
<circle cx="633.8" cy="172.3" r="1.15" fill="#fca50a"/>
<circle cx="628.0" cy="175.1" r="1.15" fill="#fca50a"/>
<circle cx="628.0" cy="177.4" r="1.15" fill="#f98e09"/>
<circle cx="631.1" cy="184.2" r="1.15" fill="#fca50a"/>
<circle cx="623.3" cy="194.6" r="1.15" fill="#fca50a"/>
<circle cx="624.0" cy="196.5" r="1.15" fill="#fca50a"/>
<circle cx="625.2" cy="198.4" r="1.15" fill="#f98e09"/>
<circle cx="626.7" cy="201.6" r="1.15" fill="#ef6c23"/>
<circle cx="629.6" cy="200.7" r="1.15" fill="#fca50a"/>
<circle cx="632.1" cy="202.8" r="1.15" fill="#fca50a"/>
<circle cx="633.4" cy="203.7" r="1.15" fill="#fca50a"/>
<circle cx="637.2" cy="196.2" r="1.15" fill="#fca50a"/>
<circle cx="638.1" cy="197.1" r="1.15" fill="#fca50a"/>
<circle cx="650.0" cy="192.1" r="1.15" fill="#f98e09"/>
<circle cx="651.7" cy="199.0" r="1.15" fill="#000004"/>
<circle cx="648.9" cy="202.9" r="1.15" fill="#f98e09"/>
<circle cx="631.8" cy="207.5" r="1.15" fill="#fca50a"/>
<circle cx="646.4" cy="207.9" r="1.15" fill="#f98e09"/>
<circle cx="644.7" cy="211.9" r="1.15" fill="#fca50a"/>
<circle cx="630.3" cy="217.6" r="1.15" fill="#fca50a"/>
<circle cx="635.3" cy="220.1" r="1.15" fill="#fca50a"/>
<circle cx="636.3" cy="221.7" r="1.15" fill="#fca50a"/>
<circle cx="629.0" cy="230.6" r="1.15" fill="#fca50a"/>
<circle cx="624.8" cy="232.3" r="1.15" fill="#fca50a"/>
<circle cx="627.1" cy="234.3" r="1.15" fill="#fbba1f"/>
<circle cx="624.6" cy="234.0" r="1.15" fill="#fca50a"/>
</g>
<text x="535.9" y="130.9" font-size="10.5" font-weight="bold" fill="#000" font-family="Liberation Sans, sans-serif">g</text>
<text x="546.1" y="132.2" font-size="6.4" fill="#111" font-family="Liberation Sans, sans-serif">MXV001</text>
<rect x="663.6" y="178.2" width="6.5" height="30.1" fill="url(#inf)"/>
<path d="M663.6,178.9h1.3M670.1,178.9h-1.3M663.6,184.5h1.3M670.1,184.5h-1.3M663.6,190.1h1.3M670.1,190.1h-1.3M663.6,195.7h1.3M670.1,195.7h-1.3M663.6,201.3h1.3M670.1,201.3h-1.3M663.6,206.9h1.3M670.1,206.9h-1.3" stroke="#fff" stroke-width="0.35" fill="none"/>
<text x="671.7" y="181.1" font-size="6.5" fill="#111" font-family="Liberation Sans, sans-serif">0.36</text>
<text x="671.7" y="186.7" font-size="6.5" fill="#111" font-family="Liberation Sans, sans-serif">0.34</text>
<text x="671.7" y="192.3" font-size="6.5" fill="#111" font-family="Liberation Sans, sans-serif">0.32</text>
<text x="671.7" y="197.9" font-size="6.5" fill="#111" font-family="Liberation Sans, sans-serif">0.30</text>
<text x="671.7" y="203.5" font-size="6.5" fill="#111" font-family="Liberation Sans, sans-serif">0.28</text>
<text x="671.7" y="209.1" font-size="6.5" fill="#111" font-family="Liberation Sans, sans-serif">0.26</text>
<text x="664.4" y="171.5" font-size="7" font-style="italic" fill="#111" font-family="Liberation Sans, sans-serif">F<tspan font-size="4.6" dy="1.6" font-style="normal">3</tspan></text></g>
<g id="pb"><rect x="8.05" y="313.70" width="12.65" height="24.80" fill="#c97f42"/>
<rect x="22.75" y="313.70" width="13.05" height="24.80" fill="#c97f42"/><path d="M22.75,313.70V314.34h0.593V314.57h0.593V314.14h0.593V314.52h0.593V314.27h0.593V314.27h0.593V314.70h0.593V314.35h0.593V314.31h0.593V314.46h0.593V314.54h0.593V314.31h0.593V314.44h0.593V314.13h0.593V314.25h0.593V314.23h0.593V314.06h0.593V314.02h0.593V314.00h0.593V314.27h0.593V314.29h0.593V314.26h0.593V313.70Z" fill="#8b1a0f"/>
<rect x="37.60" y="313.70" width="13.30" height="24.80" fill="#c97f42"/>
<rect x="52.70" y="313.70" width="116.10" height="24.80" fill="#c97f42"/>
<rect x="169.40" y="313.70" width="72.30" height="24.80" fill="#faf1d9"/>
<rect x="243.40" y="313.70" width="13.20" height="24.80" fill="#faf1d9"/><path d="M243.40,313.70V314.82h0.600V314.82h0.600V314.84h0.600V314.84h0.600V314.84h0.600V314.84h0.600V314.84h0.600V314.84h0.600V314.84h0.600V316.22h0.600V317.20h0.600V317.20h0.600V314.94h0.600V317.74h0.600V315.67h0.600V315.43h0.600V315.19h0.600V315.19h0.600V315.19h0.600V315.19h0.600V315.19h0.600V315.19h0.600V313.70Z" fill="#8b1a0f"/>
<rect x="258.30" y="313.70" width="23.10" height="24.80" fill="#7fbdb8"/>
<rect x="283.40" y="313.70" width="101.00" height="24.80" fill="#c97f42"/><path d="M283.40,313.70V338.41h0.601V337.77h0.601V338.09h0.601V338.05h0.601V338.37h0.601V337.83h0.601V338.29h0.601V338.02h0.601V338.10h0.601V338.03h0.601V338.22h0.601V337.96h0.601V338.12h0.601V338.18h0.601V338.40h0.601V337.77h0.601V338.35h0.601V338.27h0.601V338.06h0.601V338.17h0.601V338.06h0.601V338.37h0.601V338.16h0.601V338.10h0.601V338.09h0.601V338.10h0.601V338.10h0.601V338.00h0.601V338.43h0.601V337.84h0.601V337.59h0.601V338.11h0.601V338.11h0.601V338.18h0.601V338.10h0.601V338.11h0.601V338.18h0.601V338.27h0.601V338.06h0.601V338.07h0.601V338.42h0.601V338.21h0.601V337.98h0.601V338.47h0.601V338.24h0.601V338.04h0.601V337.95h0.601V338.17h0.601V338.00h0.601V337.97h0.601V337.94h0.601V338.05h0.601V338.29h0.601V338.06h0.601V337.91h0.601V338.23h0.601V338.14h0.601V338.25h0.601V338.31h0.601V338.10h0.601V338.11h0.601V338.12h0.601V337.96h0.601V338.23h0.601V338.33h0.601V338.15h0.601V338.09h0.601V338.09h0.601V338.01h0.601V338.01h0.601V338.07h0.601V338.00h0.601V338.06h0.601V337.89h0.601V338.18h0.601V338.14h0.601V337.96h0.601V337.79h0.601V338.13h0.601V338.29h0.601V338.02h0.601V338.06h0.601V338.04h0.601V338.23h0.601V337.99h0.601V338.27h0.601V338.08h0.601V338.27h0.601V338.13h0.601V338.09h0.601V337.91h0.601V338.03h0.601V338.09h0.601V338.23h0.601V338.16h0.601V338.02h0.601V338.19h0.601V338.27h0.601V338.11h0.601V338.06h0.601V338.07h0.601V338.25h0.601V338.21h0.601V337.99h0.601V338.18h0.601V338.06h0.601V338.02h0.601V338.31h0.601V338.25h0.601V338.02h0.601V338.14h0.601V338.20h0.601V338.03h0.601V338.11h0.601V338.23h0.601V337.86h0.601V338.18h0.601V338.24h0.601V338.20h0.601V337.93h0.601V338.18h0.601V338.00h0.601V338.21h0.601V338.22h0.601V338.16h0.601V338.01h0.601V338.04h0.601V338.26h0.601V337.99h0.601V338.20h0.601V338.20h0.601V338.09h0.601V338.48h0.601V338.14h0.601V338.45h0.601V337.83h0.601V337.79h0.601V338.27h0.601V338.22h0.601V338.08h0.601V338.12h0.601V337.84h0.601V338.03h0.601V337.97h0.601V338.09h0.601V338.26h0.601V338.14h0.601V338.18h0.601V338.02h0.601V338.06h0.601V338.14h0.601V338.09h0.601V338.32h0.601V338.00h0.601V338.41h0.601V337.98h0.601V338.29h0.601V338.01h0.601V338.37h0.601V338.15h0.601V338.19h0.601V338.24h0.601V338.03h0.601V337.97h0.601V337.83h0.601V338.31h0.601V338.02h0.601V338.04h0.601V313.70Z" fill="#8b1a0f"/>
<rect x="386.40" y="313.70" width="198.30" height="24.80" fill="#c97f42"/><path d="M386.40,313.70V338.12h0.599V338.42h0.599V337.87h0.599V338.17h0.599V338.07h0.599V338.21h0.599V337.86h0.599V338.07h0.599V338.25h0.599V338.36h0.599V338.37h0.599V338.00h0.599V338.14h0.599V338.11h0.599V337.92h0.599V337.91h0.599V338.24h0.599V338.16h0.599V338.11h0.599V338.31h0.599V337.98h0.599V338.21h0.599V338.13h0.599V338.12h0.599V338.20h0.599V338.15h0.599V338.17h0.599V338.17h0.599V338.42h0.599V338.08h0.599V338.28h0.599V338.22h0.599V338.08h0.599V338.25h0.599V338.00h0.599V338.30h0.599V338.01h0.599V338.06h0.599V338.18h0.599V338.25h0.599V338.26h0.599V338.26h0.599V338.10h0.599V337.99h0.599V338.21h0.599V338.17h0.599V337.99h0.599V338.27h0.599V338.16h0.599V337.99h0.599V338.19h0.599V337.93h0.599V338.00h0.599V338.19h0.599V337.90h0.599V338.13h0.599V337.93h0.599V338.24h0.599V338.02h0.599V338.16h0.599V337.90h0.599V338.08h0.599V338.27h0.599V338.20h0.599V337.85h0.599V338.27h0.599V338.26h0.599V338.07h0.599V338.34h0.599V337.97h0.599V338.12h0.599V338.29h0.599V338.32h0.599V338.32h0.599V337.97h0.599V337.86h0.599V338.19h0.599V337.91h0.599V338.11h0.599V337.94h0.599V338.29h0.599V338.25h0.599V338.21h0.599V338.13h0.599V338.13h0.599V338.08h0.599V338.19h0.599V338.17h0.599V338.20h0.599V338.06h0.599V338.41h0.599V338.17h0.599V338.34h0.599V338.33h0.599V338.00h0.599V337.88h0.599V338.32h0.599V338.07h0.599V338.14h0.599V338.09h0.599V338.15h0.599V337.95h0.599V338.11h0.599V338.06h0.599V338.13h0.599V337.78h0.599V338.25h0.599V338.18h0.599V337.87h0.599V338.02h0.599V338.13h0.599V338.22h0.599V338.13h0.599V338.33h0.599V338.13h0.599V337.98h0.599V338.03h0.599V338.24h0.599V338.04h0.599V338.25h0.599V338.28h0.599V338.22h0.599V338.28h0.599V338.10h0.599V338.13h0.599V338.04h0.599V338.04h0.599V337.90h0.599V338.05h0.599V337.97h0.599V337.92h0.599V338.15h0.599V338.20h0.599V338.08h0.599V338.33h0.599V338.27h0.599V338.28h0.599V338.04h0.599V337.91h0.599V338.21h0.599V338.17h0.599V338.24h0.599V338.19h0.599V338.32h0.599V338.09h0.599V338.23h0.599V337.99h0.599V337.78h0.599V338.06h0.599V338.35h0.599V337.88h0.599V338.28h0.599V338.03h0.599V338.07h0.599V338.13h0.599V338.16h0.599V337.98h0.599V338.15h0.599V338.19h0.599V338.25h0.599V338.02h0.599V338.36h0.599V338.41h0.599V338.49h0.599V337.93h0.599V338.15h0.599V337.85h0.599V338.18h0.599V338.21h0.599V337.96h0.599V337.89h0.599V338.16h0.599V338.22h0.599V338.01h0.599V338.09h0.599V337.75h0.599V338.02h0.599V338.15h0.599V338.15h0.599V338.36h0.599V337.96h0.599V337.79h0.599V338.20h0.599V338.04h0.599V338.17h0.599V338.23h0.599V338.22h0.599V338.34h0.599V338.33h0.599V337.88h0.599V338.12h0.599V338.43h0.599V338.07h0.599V338.27h0.599V338.12h0.599V338.07h0.599V338.36h0.599V338.28h0.599V338.09h0.599V338.26h0.599V337.93h0.599V338.02h0.599V338.26h0.599V338.13h0.599V337.97h0.599V338.19h0.599V338.18h0.599V338.32h0.599V338.27h0.599V338.09h0.599V338.06h0.599V338.11h0.599V338.09h0.599V338.35h0.599V338.36h0.599V338.33h0.599V338.18h0.599V338.09h0.599V338.26h0.599V338.08h0.599V338.16h0.599V337.88h0.599V338.06h0.599V338.34h0.599V337.98h0.599V337.91h0.599V338.10h0.599V338.38h0.599V338.34h0.599V338.07h0.599V338.06h0.599V338.11h0.599V337.99h0.599V338.13h0.599V338.08h0.599V337.91h0.599V338.04h0.599V338.09h0.599V338.00h0.599V337.96h0.599V338.26h0.599V338.41h0.599V338.09h0.599V338.06h0.599V338.20h0.599V338.09h0.599V338.01h0.599V338.34h0.599V337.97h0.599V338.02h0.599V338.03h0.599V338.00h0.599V338.09h0.599V338.21h0.599V338.34h0.599V338.23h0.599V338.13h0.599V337.94h0.599V338.12h0.599V337.99h0.599V338.11h0.599V338.27h0.599V338.16h0.599V338.10h0.599V338.02h0.599V338.12h0.599V338.14h0.599V337.99h0.599V338.05h0.599V338.26h0.599V337.88h0.599V338.06h0.599V337.95h0.599V338.36h0.599V338.22h0.599V338.20h0.599V338.19h0.599V338.17h0.599V338.17h0.599V337.89h0.599V338.17h0.599V338.22h0.599V337.92h0.599V338.25h0.599V338.23h0.599V337.90h0.599V338.06h0.599V338.08h0.599V338.05h0.599V338.19h0.599V337.94h0.599V338.09h0.599V338.16h0.599V338.24h0.599V338.14h0.599V338.09h0.599V338.23h0.599V337.83h0.599V338.27h0.599V338.08h0.599V337.94h0.599V338.06h0.599V337.86h0.599V337.82h0.599V338.08h0.599V338.01h0.599V338.24h0.599V338.00h0.599V337.94h0.599V337.99h0.599V338.38h0.599V338.13h0.599V338.04h0.599V337.98h0.599V337.96h0.599V338.10h0.599V338.19h0.599V338.30h0.599V338.30h0.599V338.17h0.599V338.03h0.599V338.00h0.599V337.78h0.599V337.98h0.599V338.19h0.599V338.08h0.599V338.18h0.599V337.93h0.599V338.26h0.599V338.17h0.599V338.13h0.599V313.70Z" fill="#8b1a0f"/>
<rect x="586.70" y="313.70" width="3.40" height="24.80" fill="#faf1d9"/><path d="M586.70,313.70V327.74h0.567V325.12h0.567V326.79h0.567V326.45h0.567V329.14h0.567V327.16h0.567V313.70Z" fill="#edc46a"/><path d="M586.70,313.70V315.68h0.567V317.03h0.567V315.13h0.567V317.59h0.567V315.48h0.567V316.12h0.567V313.70Z" fill="#8b1a0f"/>
<rect x="591.70" y="313.70" width="1.80" height="24.80" fill="#edc46a"/>
<rect x="595.10" y="313.70" width="30.30" height="24.80" fill="#faf1d9"/><path d="M595.10,313.70V337.61h0.606V338.12h0.606V337.23h0.606V338.09h0.606V337.64h0.606V337.89h0.606V337.54h0.606V337.95h0.606V337.94h0.606V338.06h0.606V337.97h0.606V338.07h0.606V338.18h0.606V337.76h0.606V337.53h0.606V337.50h0.606V338.08h0.606V337.77h0.606V338.19h0.606V337.89h0.606V337.58h0.606V338.15h0.606V338.46h0.606V337.83h0.606V337.60h0.606V337.63h0.606V338.14h0.606V337.71h0.606V337.76h0.606V338.08h0.606V337.88h0.606V337.91h0.606V337.72h0.606V337.69h0.606V337.93h0.606V337.93h0.606V338.06h0.606V337.73h0.606V337.98h0.606V338.02h0.606V337.90h0.606V338.05h0.606V338.18h0.606V337.94h0.606V337.90h0.606V337.59h0.606V337.98h0.606V337.85h0.606V337.79h0.606V337.63h0.606V313.70Z" fill="#edc46a"/><path d="M595.10,313.70V317.83h0.606V314.18h0.606V314.18h0.606V315.16h0.606V314.22h0.606V315.52h0.606V315.80h0.606V315.80h0.606V315.80h0.606V314.39h0.606V315.95h0.606V315.95h0.606V314.18h0.606V314.18h0.606V314.18h0.606V314.18h0.606V314.11h0.606V314.28h0.606V314.13h0.606V314.13h0.606V314.13h0.606V318.14h0.606V318.14h0.606V318.14h0.606V318.14h0.606V318.14h0.606V314.48h0.606V314.48h0.606V314.48h0.606V314.46h0.606V314.46h0.606V314.62h0.606V315.34h0.606V315.34h0.606V315.57h0.606V315.57h0.606V315.57h0.606V315.57h0.606V315.57h0.606V314.67h0.606V315.76h0.606V315.76h0.606V314.28h0.606V314.28h0.606V314.28h0.606V314.28h0.606V314.82h0.606V315.46h0.606V314.77h0.606V314.77h0.606V313.70Z" fill="#8b1a0f"/>
<rect x="627.00" y="313.70" width="16.50" height="24.80" fill="#faf1d9"/><path d="M627.00,313.70V338.05h0.589V337.82h0.589V337.76h0.589V337.93h0.589V338.45h0.589V337.50h0.589V337.40h0.589V338.11h0.589V337.65h0.589V338.27h0.589V337.59h0.589V337.74h0.589V338.13h0.589V338.15h0.589V338.01h0.589V338.01h0.589V337.84h0.589V337.75h0.589V337.82h0.589V338.26h0.589V338.09h0.589V337.89h0.589V337.97h0.589V338.13h0.589V338.23h0.589V337.84h0.589V337.86h0.589V337.98h0.589V313.70Z" fill="#edc46a"/><path d="M627.00,313.70V314.40h0.589V314.78h0.589V314.78h0.589V314.78h0.589V314.78h0.589V314.05h0.589V314.90h0.589V313.96h0.589V313.96h0.589V315.17h0.589V314.29h0.589V314.91h0.589V314.91h0.589V314.91h0.589V314.91h0.589V314.91h0.589V314.45h0.589V314.01h0.589V314.01h0.589V314.01h0.589V314.01h0.589V314.37h0.589V314.37h0.589V314.37h0.589V314.18h0.589V314.18h0.589V314.39h0.589V314.39h0.589V313.70Z" fill="#8b1a0f"/>
<rect x="645.10" y="313.70" width="19.90" height="24.80" fill="#edc46a"/>
<rect x="666.20" y="313.70" width="1.60" height="24.80" fill="#edc46a"/>
<rect x="669.40" y="313.70" width="1.50" height="24.80" fill="#edc46a"/>
<rect x="672.70" y="313.70" width="1.60" height="24.80" fill="#edc46a"/>
<rect x="676.20" y="313.70" width="1.80" height="24.80" fill="#edc46a"/>
<rect x="8.05" y="309.75" width="160.75" height="1.1" fill="#000"/>
<rect x="170.8" y="309.75" width="85.80" height="1.1" fill="#000"/>
<rect x="261.7" y="309.75" width="16.10" height="1.1" fill="#000"/>
<rect x="283.4" y="309.75" width="301.30" height="1.1" fill="#000"/>
<rect x="586.7" y="309.75" width="78.30" height="1.1" fill="#000"/>
<text transform="translate(18.0,305.0) rotate(-90)" font-size="6.35" fill="#111" font-family="Liberation Sans, sans-serif">Esan</text>
<text transform="translate(32.9,305.0) rotate(-90)" font-size="6.35" fill="#111" font-family="Liberation Sans, sans-serif">Luo</text>
<text transform="translate(47.6,305.0) rotate(-90)" font-size="6.35" fill="#111" font-family="Liberation Sans, sans-serif">Mende</text>
<text transform="translate(112.6,305.0) rotate(-90)" font-size="6.35" fill="#111" font-family="Liberation Sans, sans-serif">Yoruba</text>
<text transform="translate(212.3,305.0) rotate(-90)" font-size="6.35" fill="#111" font-family="Liberation Sans, sans-serif">Han</text>
<text transform="translate(251.9,305.0) rotate(-90)" font-size="6.35" fill="#111" font-family="Liberation Sans, sans-serif">Cambodia</text>
<text transform="translate(271.2,305.0) rotate(-90)" font-size="6.35" fill="#111" font-family="Liberation Sans, sans-serif">Papuan</text>
<text transform="translate(339.9,305.0) rotate(-90)" font-size="6.35" fill="#111" font-family="Liberation Sans, sans-serif">French</text>
<text transform="translate(486.0,305.0) rotate(-90)" font-size="6.35" fill="#111" font-family="Liberation Sans, sans-serif">Spanish</text>
<text transform="translate(589.6,305.0) rotate(-90)" font-size="6.35" fill="#111" font-family="Liberation Sans, sans-serif">USA Beringian</text>
<text transform="translate(595.2,305.0) rotate(-90)" font-size="6.35" fill="#111" font-family="Liberation Sans, sans-serif">Huichol</text>
<text transform="translate(610.5,305.0) rotate(-90)" font-size="6.35" fill="#111" font-family="Liberation Sans, sans-serif">Mayan</text>
<text transform="translate(635.7,305.0) rotate(-90)" font-size="6.35" fill="#111" font-family="Liberation Sans, sans-serif">Mixtec</text>
<text transform="translate(654.9,305.0) rotate(-90)" font-size="6.35" fill="#111" font-family="Liberation Sans, sans-serif">Karitiana</text>
<text transform="translate(664.9,303.2) rotate(-90)" font-size="6.35" fill="#111" font-family="Liberation Sans, sans-serif">MXV001</text>
<text transform="translate(670.4,303.2) rotate(-90)" font-size="6.35" fill="#111" font-family="Liberation Sans, sans-serif">GAP009</text>
<text transform="translate(676.0,303.2) rotate(-90)" font-size="6.35" fill="#111" font-family="Liberation Sans, sans-serif">JUC013</text>
<text transform="translate(681.6,303.2) rotate(-90)" font-size="6.35" fill="#111" font-family="Liberation Sans, sans-serif">DFU001</text>
<path d="M663.5,303.6L666.9,313.3M668.6,303.6L670.1,313.3M673.5,303.6L673.5,313.3M678.5,303.6L676.9,313.3" stroke="#111" stroke-width="0.5" fill="none"/>
<text x="-0.3" y="281.4" font-size="10.5" font-weight="bold" fill="#000" font-family="Liberation Sans, sans-serif">b</text>
<text transform="translate(5.0,326.2) rotate(-90)" text-anchor="middle" font-size="6.9" fill="#333" font-family="Liberation Sans, sans-serif"><tspan font-style="italic">K</tspan> = 5</text></g>
<g id="pc"><rect x="9.10" y="373.70" width="1.40" height="22.10" fill="#c97f42"/><path d="M9.10,373.70V389.17h0.700V389.17h0.700V373.70Z" fill="#8b1a0f"/>
<rect x="11.90" y="373.70" width="29.30" height="22.10" fill="#c97f42"/><path d="M11.90,373.70V395.64h0.598V395.38h0.598V395.23h0.598V395.46h0.598V395.55h0.598V395.66h0.598V395.25h0.598V395.24h0.598V395.59h0.598V395.55h0.598V395.74h0.598V395.64h0.598V395.45h0.598V395.42h0.598V395.80h0.598V395.42h0.598V395.33h0.598V395.27h0.598V395.49h0.598V395.49h0.598V395.41h0.598V395.46h0.598V395.52h0.598V395.59h0.598V395.66h0.598V395.51h0.598V395.15h0.598V395.59h0.598V395.22h0.598V395.44h0.598V395.21h0.598V395.47h0.598V395.33h0.598V395.51h0.598V395.80h0.598V395.46h0.598V395.62h0.598V395.23h0.598V395.42h0.598V395.59h0.598V395.45h0.598V395.53h0.598V395.49h0.598V395.29h0.598V395.57h0.598V395.32h0.598V395.80h0.598V395.38h0.598V395.59h0.598V373.70Z" fill="#8b1a0f"/>
<rect x="42.00" y="373.70" width="1.40" height="22.10" fill="#c97f42"/><path d="M42.00,373.70V390.94h0.700V390.94h0.700V373.70Z" fill="#8b1a0f"/>
<rect x="45.20" y="373.70" width="9.50" height="22.10" fill="#c97f42"/><path d="M45.20,373.70V390.01h0.594V390.72h0.594V390.22h0.594V390.83h0.594V390.55h0.594V390.34h0.594V389.93h0.594V390.61h0.594V390.48h0.594V391.00h0.594V390.11h0.594V390.52h0.594V390.50h0.594V390.40h0.594V390.37h0.594V390.36h0.594V373.70Z" fill="#8b1a0f"/>
<rect x="56.00" y="373.70" width="10.20" height="22.10" fill="#c97f42"/><path d="M56.00,373.70V394.65h0.600V394.47h0.600V394.74h0.600V395.18h0.600V395.58h0.600V395.35h0.600V395.38h0.600V395.26h0.600V395.22h0.600V395.00h0.600V395.26h0.600V395.70h0.600V394.77h0.600V394.61h0.600V395.78h0.600V395.02h0.600V395.35h0.600V373.70Z" fill="#8b1a0f"/>
<rect x="68.00" y="373.70" width="17.00" height="22.10" fill="#c97f42"/><path d="M68.00,373.70V395.68h0.607V395.45h0.607V395.80h0.607V395.78h0.607V395.60h0.607V395.66h0.607V395.59h0.607V395.48h0.607V395.57h0.607V395.62h0.607V395.70h0.607V395.66h0.607V395.59h0.607V395.73h0.607V395.49h0.607V395.67h0.607V395.70h0.607V395.55h0.607V395.38h0.607V395.48h0.607V395.61h0.607V395.64h0.607V395.75h0.607V395.47h0.607V395.58h0.607V395.65h0.607V395.56h0.607V395.32h0.607V373.70Z" fill="#8b1a0f"/>
<rect x="86.30" y="373.70" width="1.50" height="22.10" fill="#8b1a0f"/>
<rect x="89.30" y="373.70" width="5.70" height="22.10" fill="#c97f42"/><path d="M89.30,373.70V390.59h0.570V391.59h0.570V390.72h0.570V389.45h0.570V389.78h0.570V390.20h0.570V391.70h0.570V390.46h0.570V390.13h0.570V391.09h0.570V373.70Z" fill="#8b1a0f"/>
<rect x="96.40" y="373.70" width="1.40" height="22.10" fill="#c97f42"/><path d="M96.40,373.70V385.86h0.700V385.86h0.700V373.70Z" fill="#8b1a0f"/><path d="M96.40,373.70V374.81h0.700V374.81h0.700V373.70Z" fill="#7fbdb8"/>
<rect x="99.50" y="373.70" width="3.00" height="22.10" fill="#c97f42"/><path d="M99.50,373.70V392.18h0.600V392.95h0.600V392.10h0.600V391.71h0.600V389.37h0.600V373.70Z" fill="#8b1a0f"/><path d="M99.50,373.70V374.24h0.600V374.35h0.600V374.44h0.600V375.67h0.600V374.66h0.600V373.70Z" fill="#7fbdb8"/>
<rect x="103.70" y="373.70" width="2.60" height="22.10" fill="#c97f42"/><path d="M103.70,373.70V393.36h0.650V392.58h0.650V392.12h0.650V392.62h0.650V373.70Z" fill="#8b1a0f"/><path d="M103.70,373.70V375.50h0.650V375.97h0.650V374.50h0.650V374.77h0.650V373.70Z" fill="#7fbdb8"/>
<rect x="107.70" y="373.70" width="2.30" height="22.10" fill="#c97f42"/><path d="M107.70,373.70V384.55h0.575V389.80h0.575V389.53h0.575V386.64h0.575V373.70Z" fill="#8b1a0f"/>
<rect x="111.20" y="373.70" width="2.30" height="22.10" fill="#c97f42"/><path d="M111.20,373.70V386.11h0.575V384.77h0.575V387.26h0.575V387.32h0.575V373.70Z" fill="#8b1a0f"/>
<rect x="115.20" y="373.70" width="18.70" height="22.10" fill="#faf1d9"/><path d="M115.20,373.70V393.53h0.603V391.82h0.603V390.91h0.603V389.44h0.603V392.85h0.603V391.77h0.603V390.18h0.603V391.76h0.603V390.18h0.603V394.68h0.603V392.59h0.603V392.11h0.603V391.45h0.603V389.71h0.603V391.49h0.603V390.23h0.603V392.13h0.603V389.71h0.603V390.80h0.603V392.68h0.603V393.05h0.603V390.56h0.603V390.24h0.603V392.38h0.603V392.36h0.603V390.73h0.603V390.99h0.603V390.99h0.603V390.55h0.603V391.00h0.603V392.71h0.603V373.70Z" fill="#c97f42"/><path d="M115.20,373.70V377.18h0.603V377.93h0.603V376.75h0.603V376.72h0.603V376.25h0.603V376.73h0.603V376.07h0.603V375.81h0.603V377.18h0.603V377.59h0.603V377.26h0.603V377.53h0.603V376.93h0.603V376.40h0.603V376.84h0.603V376.59h0.603V376.18h0.603V375.86h0.603V375.97h0.603V376.79h0.603V376.88h0.603V376.53h0.603V377.58h0.603V376.89h0.603V377.12h0.603V377.47h0.603V376.34h0.603V375.71h0.603V377.21h0.603V376.41h0.603V377.52h0.603V373.70Z" fill="#7fbdb8"/>
<rect x="135.30" y="373.70" width="14.40" height="22.10" fill="#faf1d9"/><path d="M135.30,373.70V392.71h0.600V393.15h0.600V392.99h0.600V391.11h0.600V392.96h0.600V392.04h0.600V391.98h0.600V392.20h0.600V392.99h0.600V393.07h0.600V393.16h0.600V391.38h0.600V392.09h0.600V390.91h0.600V392.42h0.600V392.88h0.600V391.98h0.600V392.65h0.600V392.64h0.600V393.15h0.600V391.94h0.600V391.94h0.600V391.98h0.600V393.65h0.600V373.70Z" fill="#c97f42"/><path d="M135.30,373.70V376.63h0.600V375.83h0.600V376.06h0.600V375.99h0.600V376.04h0.600V375.77h0.600V375.69h0.600V375.08h0.600V375.48h0.600V377.00h0.600V376.27h0.600V375.95h0.600V375.77h0.600V375.95h0.600V376.14h0.600V375.48h0.600V376.04h0.600V376.07h0.600V375.41h0.600V375.39h0.600V375.25h0.600V375.21h0.600V376.50h0.600V374.35h0.600V373.70Z" fill="#8b1a0f"/><path d="M135.30,373.70V375.07h0.600V374.84h0.600V374.84h0.600V375.31h0.600V375.99h0.600V375.30h0.600V375.15h0.600V374.84h0.600V375.16h0.600V375.85h0.600V374.99h0.600V374.49h0.600V374.41h0.600V374.51h0.600V374.33h0.600V375.98h0.600V375.48h0.600V375.09h0.600V376.21h0.600V374.81h0.600V375.75h0.600V375.78h0.600V374.22h0.600V374.21h0.600V373.70Z" fill="#7fbdb8"/>
<rect x="151.10" y="373.70" width="3.50" height="22.10" fill="#faf1d9"/><path d="M151.10,373.70V389.46h0.583V391.08h0.583V391.42h0.583V389.19h0.583V391.20h0.583V389.94h0.583V373.70Z" fill="#c97f42"/><path d="M151.10,373.70V376.00h0.583V375.86h0.583V376.07h0.583V374.74h0.583V375.47h0.583V375.26h0.583V373.70Z" fill="#8b1a0f"/>
<rect x="155.80" y="373.70" width="1.80" height="22.10" fill="#faf1d9"/><path d="M155.80,373.70V378.66h0.600V380.43h0.600V381.14h0.600V373.70Z" fill="#c97f42"/>
<rect x="159.00" y="373.70" width="4.70" height="22.10" fill="#faf1d9"/><path d="M159.00,373.70V392.04h0.587V390.20h0.587V391.95h0.587V391.24h0.587V395.11h0.587V393.24h0.587V391.52h0.587V393.73h0.587V373.70Z" fill="#c97f42"/><path d="M159.00,373.70V378.39h0.587V375.52h0.587V376.97h0.587V377.36h0.587V377.70h0.587V377.85h0.587V377.23h0.587V377.93h0.587V373.70Z" fill="#8b1a0f"/><path d="M159.00,373.70V374.03h0.587V373.70h0.587V376.81h0.587V375.28h0.587V375.39h0.587V373.70h0.587V374.58h0.587V375.89h0.587V373.70Z" fill="#7fbdb8"/>
<rect x="164.90" y="373.70" width="2.30" height="22.10" fill="#faf1d9"/><path d="M164.90,373.70V392.16h0.575V394.80h0.575V393.16h0.575V394.03h0.575V373.70Z" fill="#c97f42"/><path d="M164.90,373.70V383.50h0.575V383.89h0.575V384.97h0.575V383.20h0.575V373.70Z" fill="#8b1a0f"/>
<rect x="168.10" y="373.70" width="2.10" height="22.10" fill="#c97f42"/><path d="M168.10,373.70V393.11h0.700V390.52h0.700V390.35h0.700V373.70Z" fill="#8b1a0f"/>
<rect x="171.20" y="373.70" width="1.80" height="22.10" fill="#faf1d9"/><path d="M171.20,373.70V387.75h0.600V385.78h0.600V386.55h0.600V373.70Z" fill="#c97f42"/>
<rect x="174.20" y="373.70" width="2.60" height="22.10" fill="#faf1d9"/><path d="M174.20,373.70V395.10h0.650V395.23h0.650V393.91h0.650V394.92h0.650V373.70Z" fill="#c97f42"/>
<rect x="178.20" y="373.70" width="5.60" height="22.10" fill="#faf1d9"/><path d="M178.20,373.70V394.15h0.622V393.54h0.622V392.27h0.622V391.95h0.622V392.22h0.622V391.47h0.622V392.25h0.622V392.32h0.622V392.36h0.622V373.70Z" fill="#c97f42"/><path d="M178.20,373.70V376.29h0.622V375.04h0.622V373.96h0.622V376.18h0.622V374.30h0.622V374.85h0.622V375.13h0.622V374.94h0.622V374.36h0.622V373.70Z" fill="#7fbdb8"/>
<rect x="185.60" y="373.70" width="19.80" height="22.10" fill="#c97f42"/>
<rect x="207.40" y="373.70" width="33.80" height="22.10" fill="#edc46a"/>
<rect x="242.90" y="373.70" width="5.80" height="22.10" fill="#edc46a"/>
<rect x="250.30" y="373.70" width="7.20" height="22.10" fill="#faf1d9"/><path d="M250.30,373.70V378.23h0.600V379.31h0.600V378.07h0.600V378.28h0.600V378.84h0.600V378.67h0.600V378.68h0.600V378.72h0.600V377.47h0.600V377.96h0.600V378.40h0.600V378.56h0.600V373.70Z" fill="#edc46a"/><path d="M250.30,373.70V378.25h0.600V377.89h0.600V377.57h0.600V377.70h0.600V377.58h0.600V377.79h0.600V377.98h0.600V377.53h0.600V377.32h0.600V377.30h0.600V378.16h0.600V378.24h0.600V373.70Z" fill="#7fbdb8"/>
<rect x="259.00" y="373.70" width="5.50" height="22.10" fill="#faf1d9"/><path d="M259.00,373.70V379.88h0.611V379.76h0.611V379.74h0.611V379.00h0.611V379.59h0.611V378.07h0.611V378.82h0.611V378.36h0.611V379.65h0.611V373.70Z" fill="#c97f42"/><path d="M259.00,373.70V376.50h0.611V376.92h0.611V377.37h0.611V378.21h0.611V376.31h0.611V376.19h0.611V377.74h0.611V376.04h0.611V377.41h0.611V373.70Z" fill="#7fbdb8"/>
<rect x="265.30" y="373.70" width="1.80" height="22.10" fill="#faf1d9"/><path d="M265.30,373.70V379.83h0.600V380.24h0.600V378.72h0.600V373.70Z" fill="#c97f42"/><path d="M265.30,373.70V376.54h0.600V375.47h0.600V375.12h0.600V373.70Z" fill="#7fbdb8"/>
<rect x="268.30" y="373.70" width="1.40" height="22.10" fill="#faf1d9"/><path d="M268.30,373.70V392.49h0.700V392.49h0.700V373.70Z" fill="#edc46a"/>
<rect x="271.00" y="373.70" width="6.10" height="22.10" fill="#faf1d9"/><path d="M271.00,373.70V379.45h0.610V378.08h0.610V377.75h0.610V377.95h0.610V378.61h0.610V377.89h0.610V378.10h0.610V378.13h0.610V377.50h0.610V377.96h0.610V373.70Z" fill="#7fbdb8"/>
<rect x="278.80" y="373.70" width="24.40" height="22.10" fill="#faf1d9"/><path d="M278.80,373.70V377.84h0.595V377.60h0.595V378.30h0.595V378.23h0.595V378.03h0.595V377.71h0.595V377.34h0.595V378.17h0.595V377.98h0.595V377.45h0.595V377.99h0.595V377.51h0.595V378.00h0.595V378.06h0.595V378.13h0.595V378.08h0.595V378.07h0.595V377.63h0.595V377.88h0.595V377.84h0.595V377.93h0.595V378.10h0.595V378.21h0.595V378.55h0.595V377.16h0.595V378.14h0.595V377.94h0.595V378.76h0.595V378.32h0.595V377.46h0.595V378.14h0.595V377.84h0.595V378.34h0.595V377.66h0.595V377.98h0.595V377.97h0.595V377.98h0.595V377.82h0.595V377.40h0.595V378.16h0.595V378.34h0.595V373.70Z" fill="#edc46a"/><path d="M278.80,373.70V377.32h0.595V377.01h0.595V377.41h0.595V377.53h0.595V377.29h0.595V377.34h0.595V377.81h0.595V376.98h0.595V377.16h0.595V376.71h0.595V377.11h0.595V377.10h0.595V377.03h0.595V377.12h0.595V377.94h0.595V377.28h0.595V377.31h0.595V378.08h0.595V377.33h0.595V376.77h0.595V377.48h0.595V377.04h0.595V377.89h0.595V376.93h0.595V377.15h0.595V376.81h0.595V377.38h0.595V377.01h0.595V377.32h0.595V377.22h0.595V377.14h0.595V377.66h0.595V377.66h0.595V377.37h0.595V377.05h0.595V376.99h0.595V377.44h0.595V378.14h0.595V377.20h0.595V377.09h0.595V377.12h0.595V373.70Z" fill="#7fbdb8"/>
<rect x="304.40" y="373.70" width="5.80" height="22.10" fill="#faf1d9"/><path d="M304.40,373.70V378.92h0.580V379.03h0.580V379.71h0.580V381.16h0.580V379.89h0.580V379.44h0.580V378.46h0.580V380.08h0.580V379.86h0.580V378.80h0.580V373.70Z" fill="#c97f42"/><path d="M304.40,373.70V377.16h0.580V378.08h0.580V379.02h0.580V378.67h0.580V378.30h0.580V377.83h0.580V378.40h0.580V378.11h0.580V380.04h0.580V377.12h0.580V373.70Z" fill="#7fbdb8"/>
<rect x="311.60" y="373.70" width="3.30" height="22.10" fill="#faf1d9"/><path d="M311.60,373.70V378.90h0.660V380.35h0.660V378.99h0.660V380.48h0.660V379.19h0.660V373.70Z" fill="#edc46a"/><path d="M311.60,373.70V376.48h0.660V376.02h0.660V375.13h0.660V375.49h0.660V378.31h0.660V373.70Z" fill="#7fbdb8"/>
<rect x="316.10" y="373.70" width="5.80" height="22.10" fill="#faf1d9"/><path d="M316.10,373.70V377.74h0.580V377.72h0.580V377.88h0.580V377.71h0.580V377.91h0.580V377.34h0.580V377.36h0.580V377.89h0.580V377.30h0.580V376.87h0.580V373.70Z" fill="#7fbdb8"/>
<rect x="323.10" y="373.70" width="1.90" height="22.10" fill="#faf1d9"/><path d="M323.10,373.70V377.58h0.633V377.44h0.633V377.95h0.633V373.70Z" fill="#7fbdb8"/>
<rect x="326.30" y="373.70" width="16.60" height="22.10" fill="#faf1d9"/><path d="M326.30,373.70V378.46h0.593V378.31h0.593V378.64h0.593V379.47h0.593V378.76h0.593V378.85h0.593V378.79h0.593V378.91h0.593V379.19h0.593V379.40h0.593V378.06h0.593V379.38h0.593V378.78h0.593V378.64h0.593V379.84h0.593V378.71h0.593V379.64h0.593V379.21h0.593V378.33h0.593V379.00h0.593V379.11h0.593V378.73h0.593V377.75h0.593V378.63h0.593V378.70h0.593V378.29h0.593V379.59h0.593V378.67h0.593V373.70Z" fill="#edc46a"/><path d="M326.30,373.70V377.06h0.593V377.10h0.593V376.89h0.593V376.89h0.593V377.28h0.593V377.37h0.593V377.01h0.593V377.20h0.593V376.62h0.593V377.47h0.593V376.90h0.593V377.33h0.593V376.84h0.593V377.01h0.593V377.33h0.593V376.70h0.593V378.33h0.593V377.22h0.593V377.20h0.593V376.91h0.593V377.94h0.593V377.85h0.593V377.37h0.593V376.63h0.593V377.01h0.593V377.51h0.593V377.01h0.593V376.71h0.593V373.70Z" fill="#7fbdb8"/>
<rect x="344.30" y="373.70" width="2.10" height="22.10" fill="#faf1d9"/><path d="M344.30,373.70V376.49h0.700V376.67h0.700V377.02h0.700V373.70Z" fill="#7fbdb8"/>
<rect x="347.70" y="373.70" width="2.60" height="22.10" fill="#faf1d9"/><path d="M347.70,373.70V377.69h0.650V378.13h0.650V379.97h0.650V379.30h0.650V373.70Z" fill="#7fbdb8"/>
<rect x="351.30" y="373.70" width="1.80" height="22.10" fill="#faf1d9"/><path d="M351.30,373.70V391.38h0.600V391.38h0.600V391.38h0.600V373.70Z" fill="#c97f42"/><path d="M351.30,373.70V375.47h0.600V375.47h0.600V375.47h0.600V373.70Z" fill="#7fbdb8"/>
<rect x="354.30" y="373.70" width="14.60" height="22.10" fill="#faf1d9"/><path d="M354.30,373.70V388.14h0.608V388.12h0.608V388.24h0.608V388.85h0.608V388.63h0.608V387.69h0.608V388.09h0.608V387.93h0.608V388.65h0.608V388.39h0.608V388.68h0.608V388.26h0.608V387.44h0.608V388.49h0.608V388.39h0.608V388.51h0.608V387.71h0.608V388.32h0.608V387.98h0.608V387.98h0.608V388.44h0.608V388.44h0.608V387.89h0.608V387.53h0.608V373.70Z" fill="#c97f42"/><path d="M354.30,373.70V374.82h0.608V375.66h0.608V376.41h0.608V375.89h0.608V374.91h0.608V375.53h0.608V376.10h0.608V376.65h0.608V376.43h0.608V376.07h0.608V376.00h0.608V375.44h0.608V375.71h0.608V375.76h0.608V375.57h0.608V375.94h0.608V375.74h0.608V376.06h0.608V376.54h0.608V376.24h0.608V376.09h0.608V375.80h0.608V375.24h0.608V375.86h0.608V373.70Z" fill="#7fbdb8"/>
<rect x="370.40" y="373.70" width="14.60" height="22.10" fill="#faf1d9"/><path d="M370.40,373.70V389.47h0.608V388.61h0.608V389.86h0.608V388.99h0.608V389.38h0.608V388.99h0.608V388.48h0.608V390.31h0.608V388.53h0.608V389.68h0.608V388.86h0.608V389.32h0.608V388.72h0.608V388.94h0.608V389.68h0.608V390.24h0.608V388.70h0.608V389.18h0.608V389.69h0.608V388.82h0.608V389.56h0.608V388.74h0.608V389.50h0.608V389.41h0.608V373.70Z" fill="#c97f42"/><path d="M370.40,373.70V378.13h0.608V377.66h0.608V376.80h0.608V377.82h0.608V376.85h0.608V377.87h0.608V378.29h0.608V377.79h0.608V377.15h0.608V378.12h0.608V377.55h0.608V376.77h0.608V377.26h0.608V378.24h0.608V377.29h0.608V377.52h0.608V377.27h0.608V376.53h0.608V377.17h0.608V377.65h0.608V377.57h0.608V377.36h0.608V376.28h0.608V378.13h0.608V373.70Z" fill="#8b1a0f"/><path d="M370.40,373.70V376.31h0.608V376.48h0.608V376.63h0.608V375.66h0.608V375.58h0.608V376.08h0.608V376.83h0.608V374.98h0.608V375.78h0.608V375.51h0.608V376.22h0.608V376.72h0.608V375.75h0.608V375.22h0.608V375.94h0.608V375.75h0.608V375.06h0.608V376.40h0.608V375.62h0.608V376.29h0.608V375.18h0.608V376.52h0.608V375.11h0.608V376.49h0.608V373.70Z" fill="#7fbdb8"/>
<rect x="386.40" y="373.70" width="25.70" height="22.10" fill="#faf1d9"/><path d="M386.40,373.70V386.22h0.598V388.69h0.598V387.33h0.598V386.42h0.598V387.44h0.598V387.88h0.598V386.86h0.598V387.24h0.598V387.83h0.598V387.49h0.598V385.25h0.598V387.29h0.598V387.95h0.598V387.85h0.598V388.40h0.598V387.09h0.598V389.60h0.598V388.24h0.598V387.86h0.598V388.46h0.598V388.36h0.598V387.70h0.598V387.14h0.598V388.42h0.598V387.95h0.598V386.16h0.598V386.77h0.598V387.98h0.598V387.71h0.598V387.84h0.598V388.12h0.598V387.74h0.598V388.85h0.598V387.17h0.598V387.31h0.598V387.87h0.598V388.20h0.598V388.23h0.598V388.77h0.598V387.25h0.598V388.53h0.598V387.98h0.598V386.82h0.598V373.70Z" fill="#c97f42"/><path d="M386.40,373.70V378.01h0.598V379.73h0.598V378.73h0.598V377.76h0.598V376.26h0.598V377.55h0.598V377.58h0.598V378.18h0.598V379.91h0.598V378.70h0.598V378.36h0.598V377.40h0.598V377.20h0.598V377.96h0.598V377.76h0.598V380.45h0.598V377.81h0.598V377.64h0.598V378.99h0.598V378.18h0.598V377.16h0.598V379.12h0.598V377.88h0.598V377.09h0.598V378.37h0.598V378.50h0.598V377.86h0.598V378.66h0.598V378.75h0.598V377.44h0.598V376.53h0.598V376.27h0.598V378.02h0.598V379.07h0.598V378.90h0.598V379.20h0.598V379.56h0.598V378.13h0.598V378.94h0.598V376.94h0.598V378.65h0.598V378.42h0.598V378.05h0.598V373.70Z" fill="#8b1a0f"/><path d="M386.40,373.70V375.35h0.598V374.83h0.598V375.80h0.598V376.68h0.598V375.41h0.598V376.10h0.598V375.18h0.598V375.89h0.598V374.91h0.598V375.98h0.598V375.52h0.598V375.93h0.598V375.22h0.598V374.78h0.598V375.43h0.598V376.49h0.598V376.91h0.598V375.44h0.598V376.31h0.598V376.28h0.598V375.99h0.598V374.49h0.598V375.94h0.598V374.94h0.598V376.60h0.598V376.30h0.598V376.17h0.598V373.73h0.598V376.17h0.598V376.23h0.598V374.70h0.598V376.44h0.598V375.75h0.598V375.55h0.598V375.14h0.598V374.90h0.598V375.35h0.598V378.08h0.598V375.85h0.598V375.85h0.598V375.19h0.598V375.21h0.598V375.26h0.598V373.70Z" fill="#7fbdb8"/>
<rect x="413.50" y="373.70" width="1.60" height="22.10" fill="#faf1d9"/><path d="M413.50,373.70V385.86h0.533V385.86h0.533V385.86h0.533V373.70Z" fill="#7fbdb8"/>
<rect x="416.30" y="373.70" width="11.70" height="22.10" fill="#faf1d9"/><path d="M416.30,373.70V387.09h0.616V385.75h0.616V387.13h0.616V386.50h0.616V386.96h0.616V386.45h0.616V385.93h0.616V387.32h0.616V386.23h0.616V386.42h0.616V385.93h0.616V386.65h0.616V386.26h0.616V386.71h0.616V386.75h0.616V386.06h0.616V385.58h0.616V386.80h0.616V387.13h0.616V373.70Z" fill="#edc46a"/><path d="M416.30,373.70V386.10h0.616V384.87h0.616V386.04h0.616V385.89h0.616V385.82h0.616V385.92h0.616V385.42h0.616V385.78h0.616V386.25h0.616V385.30h0.616V384.68h0.616V385.56h0.616V385.76h0.616V384.41h0.616V385.19h0.616V386.02h0.616V385.53h0.616V385.70h0.616V384.80h0.616V373.70Z" fill="#c97f42"/><path d="M416.30,373.70V378.28h0.616V378.84h0.616V377.55h0.616V377.19h0.616V376.91h0.616V378.27h0.616V377.75h0.616V377.15h0.616V378.48h0.616V378.18h0.616V378.08h0.616V376.51h0.616V377.61h0.616V378.09h0.616V376.87h0.616V378.29h0.616V378.63h0.616V378.36h0.616V377.20h0.616V373.70Z" fill="#7fbdb8"/>
<rect x="429.30" y="373.70" width="5.70" height="22.10" fill="#faf1d9"/><path d="M429.30,373.70V381.63h0.633V382.72h0.633V382.76h0.633V382.91h0.633V382.89h0.633V382.03h0.633V381.83h0.633V380.87h0.633V382.62h0.633V373.70Z" fill="#c97f42"/><path d="M429.30,373.70V378.75h0.633V376.93h0.633V376.92h0.633V377.67h0.633V377.48h0.633V376.33h0.633V376.76h0.633V376.51h0.633V378.58h0.633V373.70Z" fill="#7fbdb8"/>
<rect x="436.30" y="373.70" width="7.00" height="22.10" fill="#faf1d9"/><path d="M436.30,373.70V387.65h0.583V389.04h0.583V389.98h0.583V389.96h0.583V389.55h0.583V389.73h0.583V387.19h0.583V387.98h0.583V387.64h0.583V388.03h0.583V390.60h0.583V386.80h0.583V373.70Z" fill="#c97f42"/><path d="M436.30,373.70V380.16h0.583V378.57h0.583V380.85h0.583V380.82h0.583V379.21h0.583V381.50h0.583V379.73h0.583V380.82h0.583V379.94h0.583V379.17h0.583V379.33h0.583V379.56h0.583V373.70Z" fill="#8b1a0f"/><path d="M436.30,373.70V377.34h0.583V376.91h0.583V378.88h0.583V376.62h0.583V376.38h0.583V376.16h0.583V376.11h0.583V375.52h0.583V375.92h0.583V377.60h0.583V376.85h0.583V376.64h0.583V373.70Z" fill="#7fbdb8"/>
<rect x="444.70" y="373.70" width="4.40" height="22.10" fill="#faf1d9"/><path d="M444.70,373.70V386.83h0.629V387.46h0.629V387.06h0.629V387.20h0.629V386.02h0.629V386.29h0.629V385.83h0.629V373.70Z" fill="#c97f42"/><path d="M444.70,373.70V378.03h0.629V377.40h0.629V377.79h0.629V377.97h0.629V377.93h0.629V377.88h0.629V377.69h0.629V373.70Z" fill="#7fbdb8"/>
<rect x="449.90" y="373.70" width="1.80" height="22.10" fill="#faf1d9"/><path d="M449.90,373.70V386.02h0.600V386.82h0.600V385.97h0.600V373.70Z" fill="#c97f42"/><path d="M449.90,373.70V379.09h0.600V379.85h0.600V378.69h0.600V373.70Z" fill="#7fbdb8"/>
<rect x="452.60" y="373.70" width="2.10" height="22.10" fill="#faf1d9"/><path d="M452.60,373.70V389.39h0.700V387.59h0.700V388.11h0.700V373.70Z" fill="#c97f42"/><path d="M452.60,373.70V379.13h0.700V377.43h0.700V378.17h0.700V373.70Z" fill="#7fbdb8"/>
<rect x="455.70" y="373.70" width="2.10" height="22.10" fill="#faf1d9"/><path d="M455.70,373.70V385.01h0.525V386.91h0.525V386.22h0.525V386.51h0.525V373.70Z" fill="#c97f42"/><path d="M455.70,373.70V378.62h0.525V377.43h0.525V378.74h0.525V377.95h0.525V373.70Z" fill="#7fbdb8"/>
<rect x="459.00" y="373.70" width="2.80" height="22.10" fill="#faf1d9"/><path d="M459.00,373.70V384.98h0.560V385.05h0.560V385.71h0.560V385.70h0.560V384.53h0.560V373.70Z" fill="#c97f42"/><path d="M459.00,373.70V379.33h0.560V380.31h0.560V379.67h0.560V378.86h0.560V379.26h0.560V373.70Z" fill="#7fbdb8"/>
<rect x="463.10" y="373.70" width="4.30" height="22.10" fill="#faf1d9"/><path d="M463.10,373.70V385.68h0.614V385.90h0.614V387.12h0.614V384.74h0.614V384.98h0.614V384.51h0.614V384.60h0.614V373.70Z" fill="#c97f42"/><path d="M463.10,373.70V378.92h0.614V378.55h0.614V379.44h0.614V377.05h0.614V377.77h0.614V379.31h0.614V379.04h0.614V373.70Z" fill="#7fbdb8"/>
<rect x="468.80" y="373.70" width="1.80" height="22.10" fill="#faf1d9"/><path d="M468.80,373.70V386.40h0.600V386.37h0.600V386.40h0.600V373.70Z" fill="#c97f42"/><path d="M468.80,373.70V378.51h0.600V377.84h0.600V378.16h0.600V373.70Z" fill="#7fbdb8"/>
<rect x="471.80" y="373.70" width="4.40" height="22.10" fill="#faf1d9"/><path d="M471.80,373.70V387.29h0.629V388.16h0.629V387.62h0.629V387.69h0.629V389.18h0.629V388.07h0.629V387.51h0.629V373.70Z" fill="#c97f42"/><path d="M471.80,373.70V380.38h0.629V381.33h0.629V378.92h0.629V379.21h0.629V379.73h0.629V379.23h0.629V381.10h0.629V373.70Z" fill="#7fbdb8"/>
<rect x="477.60" y="373.70" width="1.60" height="22.10" fill="#faf1d9"/><path d="M477.60,373.70V384.96h0.533V384.11h0.533V384.24h0.533V373.70Z" fill="#c97f42"/><path d="M477.60,373.70V379.73h0.533V381.24h0.533V378.17h0.533V373.70Z" fill="#7fbdb8"/>
<rect x="480.20" y="373.70" width="3.50" height="22.10" fill="#faf1d9"/><path d="M480.20,373.70V387.35h0.583V388.13h0.583V387.16h0.583V386.96h0.583V386.77h0.583V386.29h0.583V373.70Z" fill="#c97f42"/><path d="M480.20,373.70V379.21h0.583V377.34h0.583V378.04h0.583V377.78h0.583V377.60h0.583V376.65h0.583V373.70Z" fill="#7fbdb8"/>
<rect x="485.00" y="373.70" width="1.70" height="22.10" fill="#faf1d9"/><path d="M485.00,373.70V384.14h0.567V384.61h0.567V383.94h0.567V373.70Z" fill="#c97f42"/><path d="M485.00,373.70V378.24h0.567V378.87h0.567V379.10h0.567V373.70Z" fill="#7fbdb8"/>
<rect x="487.60" y="373.70" width="1.70" height="22.10" fill="#faf1d9"/><path d="M487.60,373.70V386.98h0.567V388.36h0.567V388.33h0.567V373.70Z" fill="#c97f42"/><path d="M487.60,373.70V378.56h0.567V379.22h0.567V379.70h0.567V373.70Z" fill="#7fbdb8"/>
<rect x="490.60" y="373.70" width="3.10" height="22.10" fill="#faf1d9"/><path d="M490.60,373.70V386.88h0.620V387.97h0.620V388.63h0.620V388.05h0.620V386.28h0.620V373.70Z" fill="#c97f42"/><path d="M490.60,373.70V380.02h0.620V379.53h0.620V379.69h0.620V379.29h0.620V379.41h0.620V373.70Z" fill="#7fbdb8"/>
<rect x="495.00" y="373.70" width="5.70" height="22.10" fill="#faf1d9"/><path d="M495.00,373.70V388.19h0.633V388.01h0.633V387.75h0.633V387.23h0.633V387.58h0.633V388.55h0.633V388.28h0.633V389.03h0.633V387.90h0.633V373.70Z" fill="#c97f42"/><path d="M495.00,373.70V378.22h0.633V377.16h0.633V378.50h0.633V377.09h0.633V379.24h0.633V377.81h0.633V378.23h0.633V377.34h0.633V377.90h0.633V373.70Z" fill="#7fbdb8"/>
<rect x="501.60" y="373.70" width="1.20" height="22.10" fill="#faf1d9"/><path d="M501.60,373.70V387.16h0.600V386.21h0.600V373.70Z" fill="#c97f42"/><path d="M501.60,373.70V377.19h0.600V378.43h0.600V373.70Z" fill="#7fbdb8"/>
<rect x="504.70" y="373.70" width="10.70" height="22.10" fill="#faf1d9"/><path d="M504.70,373.70V386.53h0.594V385.98h0.594V387.48h0.594V386.80h0.594V387.06h0.594V386.44h0.594V386.46h0.594V386.55h0.594V385.54h0.594V387.52h0.594V387.32h0.594V385.44h0.594V387.05h0.594V387.98h0.594V387.17h0.594V388.11h0.594V386.72h0.594V386.96h0.594V373.70Z" fill="#c97f42"/><path d="M504.70,373.70V376.97h0.594V377.32h0.594V376.51h0.594V377.33h0.594V378.34h0.594V378.58h0.594V379.15h0.594V378.24h0.594V377.24h0.594V378.50h0.594V377.99h0.594V379.70h0.594V379.85h0.594V378.97h0.594V377.12h0.594V377.66h0.594V378.29h0.594V377.49h0.594V373.70Z" fill="#8b1a0f"/><path d="M504.70,373.70V376.81h0.594V376.96h0.594V377.09h0.594V376.55h0.594V375.57h0.594V375.61h0.594V376.24h0.594V377.53h0.594V377.74h0.594V377.22h0.594V376.67h0.594V376.95h0.594V377.08h0.594V377.49h0.594V377.11h0.594V374.99h0.594V377.19h0.594V376.69h0.594V373.70Z" fill="#7fbdb8"/>
<rect x="516.60" y="373.70" width="2.70" height="22.10" fill="#c97f42"/><path d="M516.60,373.70V392.49h0.675V392.49h0.675V392.49h0.675V392.49h0.675V373.70Z" fill="#8b1a0f"/>
<rect x="520.70" y="373.70" width="1.50" height="22.10" fill="#faf1d9"/><path d="M520.70,373.70V381.42h0.750V382.61h0.750V373.70Z" fill="#c97f42"/><path d="M520.70,373.70V375.17h0.750V374.77h0.750V373.70Z" fill="#faf1d9"/>
<rect x="523.70" y="373.70" width="3.50" height="22.10" fill="#faf1d9"/><path d="M523.70,373.70V385.11h0.583V386.92h0.583V387.15h0.583V386.68h0.583V386.89h0.583V386.21h0.583V373.70Z" fill="#c97f42"/><path d="M523.70,373.70V377.98h0.583V379.03h0.583V378.25h0.583V378.72h0.583V381.44h0.583V379.19h0.583V373.70Z" fill="#7fbdb8"/>
<rect x="528.00" y="373.70" width="3.20" height="22.10" fill="#faf1d9"/><path d="M528.00,373.70V385.97h0.640V384.42h0.640V385.94h0.640V386.53h0.640V385.23h0.640V373.70Z" fill="#c97f42"/><path d="M528.00,373.70V377.91h0.640V376.13h0.640V378.61h0.640V377.59h0.640V378.72h0.640V373.70Z" fill="#7fbdb8"/>
<rect x="532.00" y="373.70" width="1.60" height="22.10" fill="#faf1d9"/><path d="M532.00,373.70V385.96h0.533V384.61h0.533V385.62h0.533V373.70Z" fill="#c97f42"/><path d="M532.00,373.70V378.78h0.533V378.38h0.533V378.31h0.533V373.70Z" fill="#7fbdb8"/>
<rect x="535.00" y="373.70" width="7.60" height="22.10" fill="#faf1d9"/><path d="M535.00,373.70V388.42h0.585V390.30h0.585V389.95h0.585V388.28h0.585V389.91h0.585V388.52h0.585V387.84h0.585V390.23h0.585V388.04h0.585V390.22h0.585V389.35h0.585V389.97h0.585V389.62h0.585V373.70Z" fill="#c97f42"/><path d="M535.00,373.70V378.70h0.585V377.99h0.585V378.19h0.585V377.90h0.585V378.65h0.585V377.33h0.585V378.58h0.585V379.01h0.585V377.62h0.585V378.07h0.585V377.22h0.585V377.42h0.585V377.91h0.585V373.70Z" fill="#7fbdb8"/>
<rect x="543.80" y="373.70" width="17.20" height="22.10" fill="#faf1d9"/>
<rect x="562.20" y="373.70" width="1.80" height="22.10" fill="#7fbdb8"/>
<rect x="564.80" y="373.70" width="2.30" height="22.10" fill="#faf1d9"/><path d="M564.80,373.70V384.52h0.575V384.16h0.575V384.73h0.575V384.88h0.575V373.70Z" fill="#c97f42"/><path d="M564.80,373.70V377.23h0.575V377.49h0.575V375.84h0.575V377.95h0.575V373.70Z" fill="#7fbdb8"/>
<rect x="568.30" y="373.70" width="10.00" height="22.10" fill="#faf1d9"/><path d="M568.30,373.70V389.02h0.588V388.49h0.588V388.84h0.588V389.56h0.588V389.94h0.588V388.85h0.588V389.31h0.588V387.76h0.588V389.32h0.588V389.07h0.588V388.79h0.588V389.95h0.588V390.75h0.588V390.08h0.588V388.48h0.588V390.52h0.588V388.88h0.588V373.70Z" fill="#c97f42"/><path d="M568.30,373.70V381.62h0.588V381.14h0.588V382.06h0.588V382.15h0.588V381.78h0.588V381.47h0.588V381.53h0.588V381.30h0.588V382.51h0.588V381.20h0.588V381.53h0.588V381.47h0.588V380.99h0.588V381.46h0.588V380.36h0.588V382.02h0.588V382.13h0.588V373.70Z" fill="#7fbdb8"/>
<rect x="579.70" y="373.70" width="4.00" height="22.10" fill="#faf1d9"/><path d="M579.70,373.70V394.92h0.571V394.92h0.571V394.92h0.571V394.92h0.571V394.92h0.571V394.92h0.571V394.92h0.571V373.70Z" fill="#7fbdb8"/>
<rect x="585.00" y="373.70" width="2.00" height="22.10" fill="#faf1d9"/><path d="M585.00,373.70V387.55h0.667V387.00h0.667V387.15h0.667V373.70Z" fill="#c97f42"/><path d="M585.00,373.70V381.25h0.667V380.47h0.667V379.23h0.667V373.70Z" fill="#faf1d9"/><path d="M585.00,373.70V375.42h0.667V376.46h0.667V375.82h0.667V373.70Z" fill="#7fbdb8"/>
<rect x="588.10" y="373.70" width="1.80" height="22.10" fill="#7fbdb8"/>
<rect x="591.10" y="373.70" width="1.80" height="22.10" fill="#7fbdb8"/>
<rect x="594.10" y="373.70" width="4.00" height="22.10" fill="#faf1d9"/><path d="M594.10,373.70V385.57h0.571V384.78h0.571V386.80h0.571V387.84h0.571V385.42h0.571V384.61h0.571V386.96h0.571V373.70Z" fill="#c97f42"/><path d="M594.10,373.70V378.09h0.571V378.30h0.571V378.28h0.571V377.77h0.571V378.95h0.571V379.37h0.571V378.88h0.571V373.70Z" fill="#7fbdb8"/>
<rect x="599.50" y="373.70" width="1.80" height="22.10" fill="#faf1d9"/><path d="M599.50,373.70V392.12h0.600V393.17h0.600V392.41h0.600V373.70Z" fill="#8b1a0f"/><path d="M599.50,373.70V382.92h0.600V381.92h0.600V382.97h0.600V373.70Z" fill="#7fbdb8"/>
<rect x="602.30" y="373.70" width="2.10" height="22.10" fill="#faf1d9"/><path d="M602.30,373.70V387.71h0.525V387.98h0.525V387.31h0.525V388.27h0.525V373.70Z" fill="#c97f42"/><path d="M602.30,373.70V379.07h0.525V379.27h0.525V378.31h0.525V377.76h0.525V373.70Z" fill="#7fbdb8"/>
<rect x="605.20" y="373.70" width="1.80" height="22.10" fill="#faf1d9"/><path d="M605.20,373.70V384.36h0.600V385.25h0.600V385.47h0.600V373.70Z" fill="#c97f42"/><path d="M605.20,373.70V380.24h0.600V380.71h0.600V380.24h0.600V373.70Z" fill="#7fbdb8"/>
<rect x="608.00" y="373.70" width="1.80" height="22.10" fill="#faf1d9"/><path d="M608.00,373.70V386.59h0.600V387.27h0.600V387.43h0.600V373.70Z" fill="#c97f42"/><path d="M608.00,373.70V379.76h0.600V380.34h0.600V379.14h0.600V373.70Z" fill="#7fbdb8"/>
<rect x="610.90" y="373.70" width="1.80" height="22.10" fill="#faf1d9"/><path d="M610.90,373.70V387.99h0.600V388.39h0.600V386.47h0.600V373.70Z" fill="#c97f42"/><path d="M610.90,373.70V377.72h0.600V378.25h0.600V379.47h0.600V373.70Z" fill="#7fbdb8"/>
<rect x="613.80" y="373.70" width="2.00" height="22.10" fill="#faf1d9"/><path d="M613.80,373.70V387.52h0.667V387.50h0.667V387.58h0.667V373.70Z" fill="#c97f42"/><path d="M613.80,373.70V380.98h0.667V380.41h0.667V381.85h0.667V373.70Z" fill="#7fbdb8"/>
<rect x="617.20" y="373.70" width="5.90" height="22.10" fill="#7fbdb8"/>
<rect x="623.90" y="373.70" width="1.90" height="22.10" fill="#faf1d9"/><path d="M623.90,373.70V389.61h0.633V389.61h0.633V389.61h0.633V373.70Z" fill="#c97f42"/><path d="M623.90,373.70V385.19h0.633V385.19h0.633V385.19h0.633V373.70Z" fill="#7fbdb8"/>
<rect x="627.00" y="373.70" width="2.70" height="22.10" fill="#7fbdb8"/>
<rect x="631.00" y="373.70" width="2.00" height="22.10" fill="#7fbdb8"/>
<rect x="634.00" y="373.70" width="7.60" height="22.10" fill="#7fbdb8"/>
<rect x="643.00" y="373.70" width="8.60" height="22.10" fill="#7fbdb8"/>
<rect x="652.80" y="373.70" width="10.50" height="22.10" fill="#faf1d9"/>
<rect x="665.50" y="373.70" width="1.70" height="22.10" fill="#edc46a"/><path d="M665.50,373.70V392.49h0.567V392.49h0.567V392.49h0.567V373.70Z" fill="#faf1d9"/><path d="M665.50,373.70V386.96h0.567V386.96h0.567V386.96h0.567V373.70Z" fill="#c97f42"/><path d="M665.50,373.70V376.35h0.567V376.35h0.567V376.35h0.567V373.70Z" fill="#7fbdb8"/>
<rect x="668.50" y="373.70" width="1.70" height="22.10" fill="#edc46a"/><path d="M668.50,373.70V392.49h0.567V392.49h0.567V392.49h0.567V373.70Z" fill="#faf1d9"/><path d="M668.50,373.70V391.38h0.567V391.38h0.567V391.38h0.567V373.70Z" fill="#7fbdb8"/>
<rect x="671.50" y="373.70" width="1.70" height="22.10" fill="#faf1d9"/><path d="M671.50,373.70V385.63h0.567V385.63h0.567V385.63h0.567V373.70Z" fill="#c97f42"/><path d="M671.50,373.70V377.01h0.567V377.01h0.567V377.01h0.567V373.70Z" fill="#7fbdb8"/>
<rect x="674.40" y="373.70" width="1.70" height="22.10" fill="#faf1d9"/><path d="M674.40,373.70V384.75h0.567V384.75h0.567V384.75h0.567V373.70Z" fill="#c97f42"/><path d="M674.40,373.70V376.79h0.567V376.79h0.567V376.79h0.567V373.70Z" fill="#7fbdb8"/>
<rect x="9.1" y="370.15" width="104.40" height="1.1" fill="#000"/>
<rect x="115.2" y="370.15" width="90.20" height="1.1" fill="#000"/>
<rect x="207.4" y="370.15" width="142.90" height="1.1" fill="#000"/>
<rect x="352" y="370.15" width="150.80" height="1.1" fill="#000"/>
<rect x="504.7" y="370.15" width="158.60" height="1.1" fill="#000"/>
<text x="61.3" y="365.5" text-anchor="middle" font-size="6.4" fill="#111" font-family="Liberation Sans, sans-serif">Arctic</text>
<text x="160.4" y="365.5" text-anchor="middle" font-size="6.4" fill="#111" font-family="Liberation Sans, sans-serif">North America</text>
<text x="279" y="365.5" text-anchor="middle" font-size="6.4" fill="#111" font-family="Liberation Sans, sans-serif">Caribbean</text>
<text x="426.3" y="365.5" text-anchor="middle" font-size="6.4" fill="#111" font-family="Liberation Sans, sans-serif">Mesoamerica</text>
<text x="584.5" y="365.5" text-anchor="middle" font-size="6.4" fill="#111" font-family="Liberation Sans, sans-serif">South America</text>
<text transform="translate(665.9,365.3) rotate(-90)" font-size="6.35" fill="#111" font-family="Liberation Sans, sans-serif">MXV001</text>
<text transform="translate(671.1,365.3) rotate(-90)" font-size="6.35" fill="#111" font-family="Liberation Sans, sans-serif">GAP009</text>
<text transform="translate(676.3,365.3) rotate(-90)" font-size="6.35" fill="#111" font-family="Liberation Sans, sans-serif">JUC013</text>
<text transform="translate(681.7,365.3) rotate(-90)" font-size="6.35" fill="#111" font-family="Liberation Sans, sans-serif">DFU001</text>
<path d="M664.0,366.2L666.3,373.3M669.1,366.2L669.3,373.3M674.0,366.2L672.4,373.3M678.9,366.2L675.2,373.3" stroke="#111" stroke-width="0.5" fill="none"/>
<text x="-0.5" y="359.4" font-size="10.5" font-weight="bold" fill="#000" font-family="Liberation Sans, sans-serif">c</text>
<text transform="translate(5.0,384.8) rotate(-90)" text-anchor="middle" font-size="6.9" fill="#333" font-family="Liberation Sans, sans-serif"><tspan font-style="italic">K</tspan> = 5</text></g>
</svg></body></html>
